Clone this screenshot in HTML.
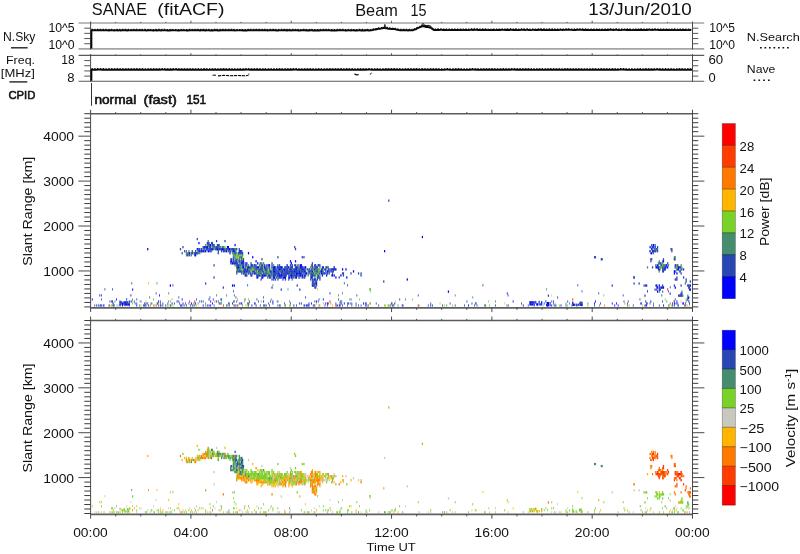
<!DOCTYPE html>
<html><head><meta charset="utf-8"><title>SANAE (fitACF) Beam 15 - 13/Jun/2010</title>
<style>
html,body{margin:0;padding:0;background:#fff;}
body{width:800px;height:554px;overflow:hidden;font-family:"Liberation Sans",sans-serif;}
svg{display:block;will-change:transform;}
svg text{font-family:"Liberation Sans",sans-serif;}
</style></head>
<body>
<svg width="800" height="554" viewBox="0 0 800 554">
<g opacity="0.999">
<g shape-rendering="auto">
<rect x="179.86" y="248.03" width="1.24" height="2.27" fill="#2846b4"/>
<rect x="179.86" y="454.83" width="1.24" height="2.27" fill="#ff7800"/>
<rect x="182.38" y="246.01" width="1.24" height="2.27" fill="#2846b4"/>
<rect x="182.38" y="452.81" width="1.24" height="2.27" fill="#78d228"/>
<rect x="184.06" y="250.05" width="1.24" height="2.27" fill="#2846b4"/>
<rect x="184.06" y="456.85" width="1.24" height="2.27" fill="#ffb400"/>
<rect x="181.54" y="252.07" width="1.24" height="2.27" fill="#2846b4"/>
<rect x="181.54" y="458.87" width="1.24" height="2.27" fill="#ffb400"/>
<rect x="185.74" y="254.10" width="1.24" height="2.27" fill="#78d228"/>
<rect x="185.74" y="460.90" width="1.24" height="2.27" fill="#c8c8be"/>
<rect x="185.74" y="252.07" width="1.24" height="2.27" fill="#468c6e"/>
<rect x="185.74" y="458.87" width="1.24" height="2.27" fill="#ff7800"/>
<rect x="185.74" y="250.05" width="1.24" height="2.27" fill="#468c6e"/>
<rect x="185.74" y="456.85" width="1.24" height="2.27" fill="#ffb400"/>
<rect x="186.58" y="254.10" width="1.24" height="2.27" fill="#2846b4"/>
<rect x="186.58" y="460.90" width="1.24" height="2.27" fill="#78d228"/>
<rect x="187.42" y="254.10" width="1.24" height="2.27" fill="#2846b4"/>
<rect x="187.42" y="460.90" width="1.24" height="2.27" fill="#ff7800"/>
<rect x="187.42" y="252.07" width="1.24" height="2.27" fill="#0000ff"/>
<rect x="187.42" y="458.87" width="1.24" height="2.27" fill="#ffb400"/>
<rect x="188.26" y="252.07" width="1.24" height="2.27" fill="#468c6e"/>
<rect x="188.26" y="458.87" width="1.24" height="2.27" fill="#ffb400"/>
<rect x="188.26" y="250.05" width="1.24" height="2.27" fill="#468c6e"/>
<rect x="188.26" y="456.85" width="1.24" height="2.27" fill="#78d228"/>
<rect x="189.10" y="254.10" width="1.24" height="2.27" fill="#2846b4"/>
<rect x="189.10" y="460.90" width="1.24" height="2.27" fill="#78d228"/>
<rect x="189.10" y="252.07" width="1.24" height="2.27" fill="#0000ff"/>
<rect x="189.10" y="458.87" width="1.24" height="2.27" fill="#ff7800"/>
<rect x="190.78" y="254.10" width="1.24" height="2.27" fill="#468c6e"/>
<rect x="190.78" y="460.90" width="1.24" height="2.27" fill="#468c6e"/>
<rect x="190.78" y="252.07" width="1.24" height="2.27" fill="#468c6e"/>
<rect x="190.78" y="458.87" width="1.24" height="2.27" fill="#ff7800"/>
<rect x="191.62" y="252.07" width="1.24" height="2.27" fill="#2846b4"/>
<rect x="191.62" y="458.87" width="1.24" height="2.27" fill="#ffb400"/>
<rect x="191.62" y="250.05" width="1.24" height="2.27" fill="#2846b4"/>
<rect x="191.62" y="456.85" width="1.24" height="2.27" fill="#ffb400"/>
<rect x="192.46" y="252.07" width="1.24" height="2.27" fill="#2846b4"/>
<rect x="192.46" y="458.87" width="1.24" height="2.27" fill="#78d228"/>
<rect x="193.30" y="252.07" width="1.24" height="2.27" fill="#78d228"/>
<rect x="193.30" y="458.87" width="1.24" height="2.27" fill="#468c6e"/>
<rect x="194.14" y="254.10" width="1.24" height="2.27" fill="#2846b4"/>
<rect x="194.14" y="460.90" width="1.24" height="2.27" fill="#ffb400"/>
<rect x="194.14" y="252.07" width="1.24" height="2.27" fill="#2846b4"/>
<rect x="194.14" y="458.87" width="1.24" height="2.27" fill="#ffb400"/>
<rect x="194.98" y="254.10" width="1.24" height="2.27" fill="#0000ff"/>
<rect x="194.98" y="460.90" width="1.24" height="2.27" fill="#ff7800"/>
<rect x="194.98" y="252.07" width="1.24" height="2.27" fill="#2846b4"/>
<rect x="194.98" y="458.87" width="1.24" height="2.27" fill="#ffb400"/>
<rect x="194.98" y="250.05" width="1.24" height="2.27" fill="#2846b4"/>
<rect x="194.98" y="456.85" width="1.24" height="2.27" fill="#c8c8be"/>
<rect x="195.82" y="252.07" width="1.24" height="2.27" fill="#2846b4"/>
<rect x="195.82" y="458.87" width="1.24" height="2.27" fill="#c8c8be"/>
<rect x="196.66" y="252.07" width="1.24" height="2.27" fill="#2846b4"/>
<rect x="196.66" y="458.87" width="1.24" height="2.27" fill="#c8c8be"/>
<rect x="196.66" y="250.05" width="1.24" height="2.27" fill="#78d228"/>
<rect x="196.66" y="456.85" width="1.24" height="2.27" fill="#78d228"/>
<rect x="196.66" y="248.03" width="1.24" height="2.27" fill="#0000ff"/>
<rect x="196.66" y="454.83" width="1.24" height="2.27" fill="#ffb400"/>
<rect x="197.50" y="252.07" width="1.24" height="2.27" fill="#2846b4"/>
<rect x="197.50" y="458.87" width="1.24" height="2.27" fill="#ffb400"/>
<rect x="197.50" y="250.05" width="1.24" height="2.27" fill="#468c6e"/>
<rect x="197.50" y="456.85" width="1.24" height="2.27" fill="#ff7800"/>
<rect x="198.34" y="250.05" width="1.24" height="2.27" fill="#2846b4"/>
<rect x="198.34" y="456.85" width="1.24" height="2.27" fill="#78d228"/>
<rect x="199.18" y="250.05" width="1.24" height="2.27" fill="#0000ff"/>
<rect x="199.18" y="456.85" width="1.24" height="2.27" fill="#ffb400"/>
<rect x="198.34" y="248.03" width="1.24" height="2.27" fill="#0000ff"/>
<rect x="198.34" y="454.83" width="1.24" height="2.27" fill="#ffb400"/>
<rect x="199.18" y="252.07" width="1.24" height="2.27" fill="#468c6e"/>
<rect x="199.18" y="458.87" width="1.24" height="2.27" fill="#78d228"/>
<rect x="199.18" y="248.03" width="1.24" height="2.27" fill="#2846b4"/>
<rect x="199.18" y="454.83" width="1.24" height="2.27" fill="#78d228"/>
<rect x="200.02" y="250.05" width="1.24" height="2.27" fill="#468c6e"/>
<rect x="200.02" y="456.85" width="1.24" height="2.27" fill="#78d228"/>
<rect x="200.86" y="250.05" width="1.24" height="2.27" fill="#0000ff"/>
<rect x="200.86" y="456.85" width="1.24" height="2.27" fill="#ff7800"/>
<rect x="200.86" y="248.03" width="1.24" height="2.27" fill="#2846b4"/>
<rect x="200.86" y="454.83" width="1.24" height="2.27" fill="#ff7800"/>
<rect x="201.70" y="250.05" width="1.24" height="2.27" fill="#2846b4"/>
<rect x="201.70" y="456.85" width="1.24" height="2.27" fill="#ff7800"/>
<rect x="202.54" y="250.05" width="1.24" height="2.27" fill="#2846b4"/>
<rect x="202.54" y="456.85" width="1.24" height="2.27" fill="#ff7800"/>
<rect x="202.54" y="248.03" width="1.24" height="2.27" fill="#2846b4"/>
<rect x="202.54" y="454.83" width="1.24" height="2.27" fill="#ff7800"/>
<rect x="202.54" y="246.01" width="1.24" height="2.27" fill="#2846b4"/>
<rect x="202.54" y="452.81" width="1.24" height="2.27" fill="#ff7800"/>
<rect x="203.38" y="250.05" width="1.24" height="2.27" fill="#0000ff"/>
<rect x="203.38" y="456.85" width="1.24" height="2.27" fill="#ffb400"/>
<rect x="203.38" y="246.01" width="1.24" height="2.27" fill="#2846b4"/>
<rect x="203.38" y="452.81" width="1.24" height="2.27" fill="#ffb400"/>
<rect x="204.22" y="250.05" width="1.24" height="2.27" fill="#468c6e"/>
<rect x="204.22" y="456.85" width="1.24" height="2.27" fill="#ff7800"/>
<rect x="204.22" y="248.03" width="1.24" height="2.27" fill="#2846b4"/>
<rect x="204.22" y="454.83" width="1.24" height="2.27" fill="#ffb400"/>
<rect x="204.22" y="246.01" width="1.24" height="2.27" fill="#0000ff"/>
<rect x="204.22" y="452.81" width="1.24" height="2.27" fill="#ff7800"/>
<rect x="205.06" y="250.05" width="1.24" height="2.27" fill="#0000ff"/>
<rect x="205.06" y="456.85" width="1.24" height="2.27" fill="#ff7800"/>
<rect x="205.06" y="246.01" width="1.24" height="2.27" fill="#2846b4"/>
<rect x="205.06" y="452.81" width="1.24" height="2.27" fill="#78d228"/>
<rect x="205.06" y="243.99" width="1.24" height="2.27" fill="#468c6e"/>
<rect x="205.06" y="450.79" width="1.24" height="2.27" fill="#78d228"/>
<rect x="205.90" y="248.03" width="1.24" height="2.27" fill="#2846b4"/>
<rect x="205.90" y="454.83" width="1.24" height="2.27" fill="#ff7800"/>
<rect x="205.90" y="246.01" width="1.24" height="2.27" fill="#2846b4"/>
<rect x="205.90" y="452.81" width="1.24" height="2.27" fill="#ff7800"/>
<rect x="206.74" y="246.01" width="1.24" height="2.27" fill="#0000ff"/>
<rect x="206.74" y="452.81" width="1.24" height="2.27" fill="#ff7800"/>
<rect x="206.74" y="243.99" width="1.24" height="2.27" fill="#468c6e"/>
<rect x="206.74" y="450.79" width="1.24" height="2.27" fill="#ff7800"/>
<rect x="206.74" y="241.96" width="1.24" height="2.27" fill="#2846b4"/>
<rect x="206.74" y="448.76" width="1.24" height="2.27" fill="#ffb400"/>
<rect x="207.58" y="250.05" width="1.24" height="2.27" fill="#0000ff"/>
<rect x="207.58" y="456.85" width="1.24" height="2.27" fill="#ff7800"/>
<rect x="207.58" y="248.03" width="1.24" height="2.27" fill="#2846b4"/>
<rect x="207.58" y="454.83" width="1.24" height="2.27" fill="#ff7800"/>
<rect x="207.58" y="243.99" width="1.24" height="2.27" fill="#468c6e"/>
<rect x="207.58" y="450.79" width="1.24" height="2.27" fill="#78d228"/>
<rect x="207.58" y="241.96" width="1.24" height="2.27" fill="#2846b4"/>
<rect x="207.58" y="448.76" width="1.24" height="2.27" fill="#78d228"/>
<rect x="207.58" y="239.94" width="1.24" height="2.27" fill="#468c6e"/>
<rect x="207.58" y="446.74" width="1.24" height="2.27" fill="#ff7800"/>
<rect x="206.74" y="248.03" width="1.24" height="2.27" fill="#2846b4"/>
<rect x="206.74" y="454.83" width="1.24" height="2.27" fill="#78d228"/>
<rect x="208.42" y="250.05" width="1.24" height="2.27" fill="#0000ff"/>
<rect x="208.42" y="456.85" width="1.24" height="2.27" fill="#78d228"/>
<rect x="208.42" y="246.01" width="1.24" height="2.27" fill="#2846b4"/>
<rect x="208.42" y="452.81" width="1.24" height="2.27" fill="#468c6e"/>
<rect x="208.42" y="243.99" width="1.24" height="2.27" fill="#2846b4"/>
<rect x="208.42" y="450.79" width="1.24" height="2.27" fill="#78d228"/>
<rect x="208.42" y="241.96" width="1.24" height="2.27" fill="#2846b4"/>
<rect x="208.42" y="448.76" width="1.24" height="2.27" fill="#78d228"/>
<rect x="209.26" y="248.03" width="1.24" height="2.27" fill="#0000ff"/>
<rect x="209.26" y="454.83" width="1.24" height="2.27" fill="#c8c8be"/>
<rect x="209.26" y="246.01" width="1.24" height="2.27" fill="#2846b4"/>
<rect x="209.26" y="452.81" width="1.24" height="2.27" fill="#c8c8be"/>
<rect x="209.26" y="243.99" width="1.24" height="2.27" fill="#2846b4"/>
<rect x="209.26" y="450.79" width="1.24" height="2.27" fill="#ffb400"/>
<rect x="210.10" y="250.05" width="1.24" height="2.27" fill="#2846b4"/>
<rect x="210.10" y="456.85" width="1.24" height="2.27" fill="#78d228"/>
<rect x="210.10" y="248.03" width="1.24" height="2.27" fill="#2846b4"/>
<rect x="210.10" y="454.83" width="1.24" height="2.27" fill="#78d228"/>
<rect x="210.10" y="246.01" width="1.24" height="2.27" fill="#2846b4"/>
<rect x="210.10" y="452.81" width="1.24" height="2.27" fill="#ffb400"/>
<rect x="210.10" y="243.99" width="1.24" height="2.27" fill="#0000ff"/>
<rect x="210.10" y="450.79" width="1.24" height="2.27" fill="#78d228"/>
<rect x="210.94" y="250.05" width="1.24" height="2.27" fill="#468c6e"/>
<rect x="210.94" y="456.85" width="1.24" height="2.27" fill="#468c6e"/>
<rect x="210.94" y="248.03" width="1.24" height="2.27" fill="#2846b4"/>
<rect x="210.94" y="454.83" width="1.24" height="2.27" fill="#78d228"/>
<rect x="210.94" y="241.96" width="1.24" height="2.27" fill="#2846b4"/>
<rect x="210.94" y="448.76" width="1.24" height="2.27" fill="#468c6e"/>
<rect x="211.78" y="248.03" width="1.24" height="2.27" fill="#0000ff"/>
<rect x="211.78" y="454.83" width="1.24" height="2.27" fill="#ffb400"/>
<rect x="211.78" y="246.01" width="1.24" height="2.27" fill="#468c6e"/>
<rect x="211.78" y="452.81" width="1.24" height="2.27" fill="#468c6e"/>
<rect x="211.78" y="243.99" width="1.24" height="2.27" fill="#2846b4"/>
<rect x="211.78" y="450.79" width="1.24" height="2.27" fill="#78d228"/>
<rect x="211.78" y="241.96" width="1.24" height="2.27" fill="#2846b4"/>
<rect x="211.78" y="448.76" width="1.24" height="2.27" fill="#468c6e"/>
<rect x="212.62" y="248.03" width="1.24" height="2.27" fill="#2846b4"/>
<rect x="212.62" y="454.83" width="1.24" height="2.27" fill="#ff7800"/>
<rect x="212.62" y="246.01" width="1.24" height="2.27" fill="#468c6e"/>
<rect x="212.62" y="452.81" width="1.24" height="2.27" fill="#468c6e"/>
<rect x="212.62" y="243.99" width="1.24" height="2.27" fill="#2846b4"/>
<rect x="212.62" y="450.79" width="1.24" height="2.27" fill="#78d228"/>
<rect x="213.46" y="246.01" width="1.24" height="2.27" fill="#468c6e"/>
<rect x="213.46" y="452.81" width="1.24" height="2.27" fill="#78d228"/>
<rect x="213.46" y="243.99" width="1.24" height="2.27" fill="#2846b4"/>
<rect x="213.46" y="450.79" width="1.24" height="2.27" fill="#78d228"/>
<rect x="214.30" y="248.03" width="1.24" height="2.27" fill="#468c6e"/>
<rect x="214.30" y="454.83" width="1.24" height="2.27" fill="#ffb400"/>
<rect x="214.30" y="246.01" width="1.24" height="2.27" fill="#2846b4"/>
<rect x="214.30" y="452.81" width="1.24" height="2.27" fill="#78d228"/>
<rect x="215.14" y="248.03" width="1.24" height="2.27" fill="#2846b4"/>
<rect x="215.14" y="454.83" width="1.24" height="2.27" fill="#78d228"/>
<rect x="215.14" y="246.01" width="1.24" height="2.27" fill="#468c6e"/>
<rect x="215.14" y="452.81" width="1.24" height="2.27" fill="#c8c8be"/>
<rect x="215.98" y="248.03" width="1.24" height="2.27" fill="#2846b4"/>
<rect x="215.98" y="454.83" width="1.24" height="2.27" fill="#78d228"/>
<rect x="215.98" y="246.01" width="1.24" height="2.27" fill="#2846b4"/>
<rect x="215.98" y="452.81" width="1.24" height="2.27" fill="#ffb400"/>
<rect x="216.82" y="248.03" width="1.24" height="2.27" fill="#0000ff"/>
<rect x="216.82" y="454.83" width="1.24" height="2.27" fill="#78d228"/>
<rect x="216.82" y="246.01" width="1.24" height="2.27" fill="#2846b4"/>
<rect x="216.82" y="452.81" width="1.24" height="2.27" fill="#468c6e"/>
<rect x="216.82" y="243.99" width="1.24" height="2.27" fill="#2846b4"/>
<rect x="216.82" y="450.79" width="1.24" height="2.27" fill="#468c6e"/>
<rect x="217.66" y="252.07" width="1.24" height="2.27" fill="#2846b4"/>
<rect x="217.66" y="458.87" width="1.24" height="2.27" fill="#468c6e"/>
<rect x="217.66" y="250.05" width="1.24" height="2.27" fill="#2846b4"/>
<rect x="217.66" y="456.85" width="1.24" height="2.27" fill="#78d228"/>
<rect x="217.66" y="248.03" width="1.24" height="2.27" fill="#2846b4"/>
<rect x="217.66" y="454.83" width="1.24" height="2.27" fill="#468c6e"/>
<rect x="217.66" y="246.01" width="1.24" height="2.27" fill="#468c6e"/>
<rect x="217.66" y="452.81" width="1.24" height="2.27" fill="#468c6e"/>
<rect x="217.66" y="243.99" width="1.24" height="2.27" fill="#2846b4"/>
<rect x="217.66" y="450.79" width="1.24" height="2.27" fill="#78d228"/>
<rect x="218.50" y="248.03" width="1.24" height="2.27" fill="#2846b4"/>
<rect x="218.50" y="454.83" width="1.24" height="2.27" fill="#468c6e"/>
<rect x="218.50" y="246.01" width="1.24" height="2.27" fill="#2846b4"/>
<rect x="218.50" y="452.81" width="1.24" height="2.27" fill="#468c6e"/>
<rect x="218.50" y="243.99" width="1.24" height="2.27" fill="#2846b4"/>
<rect x="218.50" y="450.79" width="1.24" height="2.27" fill="#78d228"/>
<rect x="219.34" y="248.03" width="1.24" height="2.27" fill="#0000ff"/>
<rect x="219.34" y="454.83" width="1.24" height="2.27" fill="#ffb400"/>
<rect x="219.34" y="246.01" width="1.24" height="2.27" fill="#468c6e"/>
<rect x="219.34" y="452.81" width="1.24" height="2.27" fill="#468c6e"/>
<rect x="220.18" y="248.03" width="1.24" height="2.27" fill="#2846b4"/>
<rect x="220.18" y="454.83" width="1.24" height="2.27" fill="#ffb400"/>
<rect x="220.18" y="246.01" width="1.24" height="2.27" fill="#468c6e"/>
<rect x="220.18" y="452.81" width="1.24" height="2.27" fill="#468c6e"/>
<rect x="221.02" y="248.03" width="1.24" height="2.27" fill="#2846b4"/>
<rect x="221.02" y="454.83" width="1.24" height="2.27" fill="#78d228"/>
<rect x="221.02" y="250.05" width="1.24" height="2.27" fill="#2846b4"/>
<rect x="221.02" y="456.85" width="1.24" height="2.27" fill="#468c6e"/>
<rect x="221.86" y="248.03" width="1.24" height="2.27" fill="#0000ff"/>
<rect x="221.86" y="454.83" width="1.24" height="2.27" fill="#468c6e"/>
<rect x="221.86" y="246.01" width="1.24" height="2.27" fill="#468c6e"/>
<rect x="221.86" y="452.81" width="1.24" height="2.27" fill="#468c6e"/>
<rect x="222.70" y="250.05" width="1.24" height="2.27" fill="#468c6e"/>
<rect x="222.70" y="456.85" width="1.24" height="2.27" fill="#c8c8be"/>
<rect x="222.70" y="248.03" width="1.24" height="2.27" fill="#0000ff"/>
<rect x="222.70" y="454.83" width="1.24" height="2.27" fill="#c8c8be"/>
<rect x="222.70" y="246.01" width="1.24" height="2.27" fill="#2846b4"/>
<rect x="222.70" y="452.81" width="1.24" height="2.27" fill="#78d228"/>
<rect x="223.54" y="250.05" width="1.24" height="2.27" fill="#0000ff"/>
<rect x="223.54" y="456.85" width="1.24" height="2.27" fill="#468c6e"/>
<rect x="223.54" y="248.03" width="1.24" height="2.27" fill="#2846b4"/>
<rect x="223.54" y="454.83" width="1.24" height="2.27" fill="#c8c8be"/>
<rect x="223.54" y="246.01" width="1.24" height="2.27" fill="#78d228"/>
<rect x="223.54" y="452.81" width="1.24" height="2.27" fill="#468c6e"/>
<rect x="224.38" y="248.03" width="1.24" height="2.27" fill="#2846b4"/>
<rect x="224.38" y="454.83" width="1.24" height="2.27" fill="#468c6e"/>
<rect x="224.38" y="246.01" width="1.24" height="2.27" fill="#78d228"/>
<rect x="224.38" y="452.81" width="1.24" height="2.27" fill="#ff7800"/>
<rect x="225.22" y="250.05" width="1.24" height="2.27" fill="#2846b4"/>
<rect x="225.22" y="456.85" width="1.24" height="2.27" fill="#ff7800"/>
<rect x="225.22" y="248.03" width="1.24" height="2.27" fill="#468c6e"/>
<rect x="225.22" y="454.83" width="1.24" height="2.27" fill="#468c6e"/>
<rect x="226.06" y="250.05" width="1.24" height="2.27" fill="#0000ff"/>
<rect x="226.06" y="456.85" width="1.24" height="2.27" fill="#78d228"/>
<rect x="226.06" y="248.03" width="1.24" height="2.27" fill="#2846b4"/>
<rect x="226.06" y="454.83" width="1.24" height="2.27" fill="#78d228"/>
<rect x="226.90" y="248.03" width="1.24" height="2.27" fill="#2846b4"/>
<rect x="226.90" y="454.83" width="1.24" height="2.27" fill="#78d228"/>
<rect x="226.90" y="246.01" width="1.24" height="2.27" fill="#0000ff"/>
<rect x="226.90" y="452.81" width="1.24" height="2.27" fill="#78d228"/>
<rect x="227.74" y="250.05" width="1.24" height="2.27" fill="#468c6e"/>
<rect x="227.74" y="456.85" width="1.24" height="2.27" fill="#78d228"/>
<rect x="227.74" y="248.03" width="1.24" height="2.27" fill="#468c6e"/>
<rect x="227.74" y="454.83" width="1.24" height="2.27" fill="#468c6e"/>
<rect x="227.74" y="246.01" width="1.24" height="2.27" fill="#0000ff"/>
<rect x="227.74" y="452.81" width="1.24" height="2.27" fill="#c8c8be"/>
<rect x="228.58" y="250.05" width="1.24" height="2.27" fill="#2846b4"/>
<rect x="228.58" y="456.85" width="1.24" height="2.27" fill="#468c6e"/>
<rect x="228.58" y="248.03" width="1.24" height="2.27" fill="#0000ff"/>
<rect x="228.58" y="454.83" width="1.24" height="2.27" fill="#468c6e"/>
<rect x="229.42" y="252.07" width="1.24" height="2.27" fill="#0000ff"/>
<rect x="229.42" y="458.87" width="1.24" height="2.27" fill="#78d228"/>
<rect x="229.42" y="250.05" width="1.24" height="2.27" fill="#468c6e"/>
<rect x="229.42" y="456.85" width="1.24" height="2.27" fill="#78d228"/>
<rect x="229.42" y="248.03" width="1.24" height="2.27" fill="#0000ff"/>
<rect x="229.42" y="454.83" width="1.24" height="2.27" fill="#78d228"/>
<rect x="230.26" y="250.05" width="1.24" height="2.27" fill="#2846b4"/>
<rect x="230.26" y="456.85" width="1.24" height="2.27" fill="#468c6e"/>
<rect x="231.10" y="248.03" width="1.24" height="2.27" fill="#2846b4"/>
<rect x="231.10" y="454.83" width="1.24" height="2.27" fill="#78d228"/>
<rect x="231.94" y="252.07" width="1.24" height="2.27" fill="#468c6e"/>
<rect x="231.94" y="458.87" width="1.24" height="2.27" fill="#78d228"/>
<rect x="231.94" y="250.05" width="1.24" height="2.27" fill="#468c6e"/>
<rect x="231.94" y="456.85" width="1.24" height="2.27" fill="#468c6e"/>
<rect x="231.94" y="248.03" width="1.24" height="2.27" fill="#2846b4"/>
<rect x="231.94" y="454.83" width="1.24" height="2.27" fill="#ff7800"/>
<rect x="232.78" y="250.05" width="1.24" height="2.27" fill="#0000ff"/>
<rect x="232.78" y="456.85" width="1.24" height="2.27" fill="#78d228"/>
<rect x="233.62" y="250.05" width="1.24" height="2.27" fill="#0000ff"/>
<rect x="233.62" y="456.85" width="1.24" height="2.27" fill="#468c6e"/>
<rect x="233.62" y="248.03" width="1.24" height="2.27" fill="#468c6e"/>
<rect x="233.62" y="454.83" width="1.24" height="2.27" fill="#78d228"/>
<rect x="234.46" y="252.07" width="1.24" height="2.27" fill="#468c6e"/>
<rect x="234.46" y="458.87" width="1.24" height="2.27" fill="#468c6e"/>
<rect x="234.46" y="250.05" width="1.24" height="2.27" fill="#2846b4"/>
<rect x="234.46" y="456.85" width="1.24" height="2.27" fill="#ff7800"/>
<rect x="232.78" y="260.16" width="1.24" height="2.27" fill="#0000ff"/>
<rect x="232.78" y="466.96" width="1.24" height="2.27" fill="#468c6e"/>
<rect x="232.78" y="258.14" width="1.24" height="2.27" fill="#2846b4"/>
<rect x="232.78" y="464.94" width="1.24" height="2.27" fill="#468c6e"/>
<rect x="232.78" y="256.12" width="1.24" height="2.27" fill="#2846b4"/>
<rect x="232.78" y="462.92" width="1.24" height="2.27" fill="#468c6e"/>
<rect x="232.78" y="254.10" width="1.24" height="2.27" fill="#468c6e"/>
<rect x="232.78" y="460.90" width="1.24" height="2.27" fill="#468c6e"/>
<rect x="232.78" y="252.07" width="1.24" height="2.27" fill="#78d228"/>
<rect x="232.78" y="458.87" width="1.24" height="2.27" fill="#468c6e"/>
<rect x="232.78" y="248.03" width="1.24" height="2.27" fill="#2846b4"/>
<rect x="232.78" y="454.83" width="1.24" height="2.27" fill="#468c6e"/>
<rect x="233.62" y="256.12" width="1.24" height="2.27" fill="#468c6e"/>
<rect x="233.62" y="462.92" width="1.24" height="2.27" fill="#468c6e"/>
<rect x="233.62" y="254.10" width="1.24" height="2.27" fill="#78d228"/>
<rect x="233.62" y="460.90" width="1.24" height="2.27" fill="#78d228"/>
<rect x="233.62" y="252.07" width="1.24" height="2.27" fill="#2846b4"/>
<rect x="233.62" y="458.87" width="1.24" height="2.27" fill="#468c6e"/>
<rect x="234.46" y="260.16" width="1.24" height="2.27" fill="#468c6e"/>
<rect x="234.46" y="466.96" width="1.24" height="2.27" fill="#468c6e"/>
<rect x="234.46" y="258.14" width="1.24" height="2.27" fill="#2846b4"/>
<rect x="234.46" y="464.94" width="1.24" height="2.27" fill="#468c6e"/>
<rect x="234.46" y="254.10" width="1.24" height="2.27" fill="#468c6e"/>
<rect x="234.46" y="460.90" width="1.24" height="2.27" fill="#468c6e"/>
<rect x="234.46" y="248.03" width="1.24" height="2.27" fill="#2846b4"/>
<rect x="234.46" y="454.83" width="1.24" height="2.27" fill="#468c6e"/>
<rect x="234.46" y="243.99" width="1.24" height="2.27" fill="#0000ff"/>
<rect x="234.46" y="450.79" width="1.24" height="2.27" fill="#2846b4"/>
<rect x="235.30" y="262.18" width="1.24" height="2.27" fill="#2846b4"/>
<rect x="235.30" y="468.98" width="1.24" height="2.27" fill="#78d228"/>
<rect x="235.30" y="256.12" width="1.24" height="2.27" fill="#468c6e"/>
<rect x="235.30" y="462.92" width="1.24" height="2.27" fill="#468c6e"/>
<rect x="235.30" y="254.10" width="1.24" height="2.27" fill="#468c6e"/>
<rect x="235.30" y="460.90" width="1.24" height="2.27" fill="#468c6e"/>
<rect x="235.30" y="252.07" width="1.24" height="2.27" fill="#2846b4"/>
<rect x="235.30" y="458.87" width="1.24" height="2.27" fill="#2846b4"/>
<rect x="235.30" y="250.05" width="1.24" height="2.27" fill="#468c6e"/>
<rect x="235.30" y="456.85" width="1.24" height="2.27" fill="#2846b4"/>
<rect x="235.30" y="248.03" width="1.24" height="2.27" fill="#468c6e"/>
<rect x="235.30" y="454.83" width="1.24" height="2.27" fill="#468c6e"/>
<rect x="236.14" y="262.18" width="1.24" height="2.27" fill="#2846b4"/>
<rect x="236.14" y="468.98" width="1.24" height="2.27" fill="#2846b4"/>
<rect x="236.14" y="260.16" width="1.24" height="2.27" fill="#0000ff"/>
<rect x="236.14" y="466.96" width="1.24" height="2.27" fill="#2846b4"/>
<rect x="236.14" y="258.14" width="1.24" height="2.27" fill="#2846b4"/>
<rect x="236.14" y="464.94" width="1.24" height="2.27" fill="#2846b4"/>
<rect x="236.14" y="256.12" width="1.24" height="2.27" fill="#78d228"/>
<rect x="236.14" y="462.92" width="1.24" height="2.27" fill="#468c6e"/>
<rect x="236.14" y="252.07" width="1.24" height="2.27" fill="#468c6e"/>
<rect x="236.14" y="458.87" width="1.24" height="2.27" fill="#2846b4"/>
<rect x="236.14" y="248.03" width="1.24" height="2.27" fill="#2846b4"/>
<rect x="236.14" y="454.83" width="1.24" height="2.27" fill="#468c6e"/>
<rect x="236.98" y="258.14" width="1.24" height="2.27" fill="#468c6e"/>
<rect x="236.98" y="464.94" width="1.24" height="2.27" fill="#468c6e"/>
<rect x="236.98" y="256.12" width="1.24" height="2.27" fill="#78d228"/>
<rect x="236.98" y="462.92" width="1.24" height="2.27" fill="#2846b4"/>
<rect x="236.98" y="254.10" width="1.24" height="2.27" fill="#78d228"/>
<rect x="236.98" y="460.90" width="1.24" height="2.27" fill="#2846b4"/>
<rect x="237.82" y="256.12" width="1.24" height="2.27" fill="#ffb400"/>
<rect x="237.82" y="462.92" width="1.24" height="2.27" fill="#468c6e"/>
<rect x="237.82" y="254.10" width="1.24" height="2.27" fill="#468c6e"/>
<rect x="237.82" y="460.90" width="1.24" height="2.27" fill="#78d228"/>
<rect x="237.82" y="252.07" width="1.24" height="2.27" fill="#2846b4"/>
<rect x="237.82" y="458.87" width="1.24" height="2.27" fill="#78d228"/>
<rect x="238.66" y="262.18" width="1.24" height="2.27" fill="#468c6e"/>
<rect x="238.66" y="468.98" width="1.24" height="2.27" fill="#468c6e"/>
<rect x="238.66" y="260.16" width="1.24" height="2.27" fill="#2846b4"/>
<rect x="238.66" y="466.96" width="1.24" height="2.27" fill="#468c6e"/>
<rect x="238.66" y="258.14" width="1.24" height="2.27" fill="#2846b4"/>
<rect x="238.66" y="464.94" width="1.24" height="2.27" fill="#468c6e"/>
<rect x="238.66" y="256.12" width="1.24" height="2.27" fill="#78d228"/>
<rect x="238.66" y="462.92" width="1.24" height="2.27" fill="#2846b4"/>
<rect x="238.66" y="254.10" width="1.24" height="2.27" fill="#78d228"/>
<rect x="238.66" y="460.90" width="1.24" height="2.27" fill="#468c6e"/>
<rect x="238.66" y="252.07" width="1.24" height="2.27" fill="#468c6e"/>
<rect x="238.66" y="458.87" width="1.24" height="2.27" fill="#468c6e"/>
<rect x="238.66" y="250.05" width="1.24" height="2.27" fill="#0000ff"/>
<rect x="238.66" y="456.85" width="1.24" height="2.27" fill="#468c6e"/>
<rect x="238.66" y="248.03" width="1.24" height="2.27" fill="#2846b4"/>
<rect x="238.66" y="454.83" width="1.24" height="2.27" fill="#468c6e"/>
<rect x="239.50" y="260.16" width="1.24" height="2.27" fill="#2846b4"/>
<rect x="239.50" y="466.96" width="1.24" height="2.27" fill="#468c6e"/>
<rect x="239.50" y="256.12" width="1.24" height="2.27" fill="#2846b4"/>
<rect x="239.50" y="462.92" width="1.24" height="2.27" fill="#468c6e"/>
<rect x="239.50" y="252.07" width="1.24" height="2.27" fill="#0000ff"/>
<rect x="239.50" y="458.87" width="1.24" height="2.27" fill="#468c6e"/>
<rect x="239.50" y="250.05" width="1.24" height="2.27" fill="#2846b4"/>
<rect x="239.50" y="456.85" width="1.24" height="2.27" fill="#468c6e"/>
<rect x="240.34" y="262.18" width="1.24" height="2.27" fill="#2846b4"/>
<rect x="240.34" y="468.98" width="1.24" height="2.27" fill="#78d228"/>
<rect x="240.34" y="260.16" width="1.24" height="2.27" fill="#468c6e"/>
<rect x="240.34" y="466.96" width="1.24" height="2.27" fill="#468c6e"/>
<rect x="240.34" y="258.14" width="1.24" height="2.27" fill="#78d228"/>
<rect x="240.34" y="464.94" width="1.24" height="2.27" fill="#468c6e"/>
<rect x="240.34" y="256.12" width="1.24" height="2.27" fill="#468c6e"/>
<rect x="240.34" y="462.92" width="1.24" height="2.27" fill="#2846b4"/>
<rect x="240.34" y="254.10" width="1.24" height="2.27" fill="#468c6e"/>
<rect x="240.34" y="460.90" width="1.24" height="2.27" fill="#78d228"/>
<rect x="240.34" y="252.07" width="1.24" height="2.27" fill="#2846b4"/>
<rect x="240.34" y="458.87" width="1.24" height="2.27" fill="#468c6e"/>
<rect x="240.34" y="250.05" width="1.24" height="2.27" fill="#0000ff"/>
<rect x="240.34" y="456.85" width="1.24" height="2.27" fill="#78d228"/>
<rect x="241.18" y="260.16" width="1.24" height="2.27" fill="#2846b4"/>
<rect x="241.18" y="466.96" width="1.24" height="2.27" fill="#2846b4"/>
<rect x="241.18" y="258.14" width="1.24" height="2.27" fill="#2846b4"/>
<rect x="241.18" y="464.94" width="1.24" height="2.27" fill="#468c6e"/>
<rect x="241.18" y="256.12" width="1.24" height="2.27" fill="#2846b4"/>
<rect x="241.18" y="462.92" width="1.24" height="2.27" fill="#468c6e"/>
<rect x="241.18" y="254.10" width="1.24" height="2.27" fill="#78d228"/>
<rect x="241.18" y="460.90" width="1.24" height="2.27" fill="#0000ff"/>
<rect x="241.18" y="252.07" width="1.24" height="2.27" fill="#2846b4"/>
<rect x="241.18" y="458.87" width="1.24" height="2.27" fill="#468c6e"/>
<rect x="241.18" y="250.05" width="1.24" height="2.27" fill="#2846b4"/>
<rect x="241.18" y="456.85" width="1.24" height="2.27" fill="#2846b4"/>
<rect x="242.02" y="262.18" width="1.24" height="2.27" fill="#2846b4"/>
<rect x="242.02" y="468.98" width="1.24" height="2.27" fill="#2846b4"/>
<rect x="242.02" y="260.16" width="1.24" height="2.27" fill="#2846b4"/>
<rect x="242.02" y="466.96" width="1.24" height="2.27" fill="#468c6e"/>
<rect x="242.02" y="258.14" width="1.24" height="2.27" fill="#78d228"/>
<rect x="242.02" y="464.94" width="1.24" height="2.27" fill="#2846b4"/>
<rect x="242.02" y="256.12" width="1.24" height="2.27" fill="#78d228"/>
<rect x="242.02" y="462.92" width="1.24" height="2.27" fill="#468c6e"/>
<rect x="242.02" y="254.10" width="1.24" height="2.27" fill="#468c6e"/>
<rect x="242.02" y="460.90" width="1.24" height="2.27" fill="#468c6e"/>
<rect x="242.02" y="252.07" width="1.24" height="2.27" fill="#2846b4"/>
<rect x="242.02" y="458.87" width="1.24" height="2.27" fill="#2846b4"/>
<rect x="242.86" y="262.18" width="1.24" height="2.27" fill="#2846b4"/>
<rect x="242.86" y="468.98" width="1.24" height="2.27" fill="#78d228"/>
<rect x="242.86" y="260.16" width="1.24" height="2.27" fill="#0000ff"/>
<rect x="242.86" y="466.96" width="1.24" height="2.27" fill="#468c6e"/>
<rect x="242.86" y="258.14" width="1.24" height="2.27" fill="#2846b4"/>
<rect x="242.86" y="464.94" width="1.24" height="2.27" fill="#2846b4"/>
<rect x="230.26" y="262.18" width="1.24" height="2.27" fill="#2846b4"/>
<rect x="230.26" y="468.98" width="1.24" height="2.27" fill="#2846b4"/>
<rect x="230.26" y="260.16" width="1.24" height="2.27" fill="#0000ff"/>
<rect x="230.26" y="466.96" width="1.24" height="2.27" fill="#2846b4"/>
<rect x="230.26" y="258.14" width="1.24" height="2.27" fill="#2846b4"/>
<rect x="230.26" y="464.94" width="1.24" height="2.27" fill="#468c6e"/>
<rect x="231.10" y="262.18" width="1.24" height="2.27" fill="#468c6e"/>
<rect x="231.10" y="468.98" width="1.24" height="2.27" fill="#468c6e"/>
<rect x="231.10" y="260.16" width="1.24" height="2.27" fill="#0000ff"/>
<rect x="231.10" y="466.96" width="1.24" height="2.27" fill="#78d228"/>
<rect x="231.10" y="258.14" width="1.24" height="2.27" fill="#2846b4"/>
<rect x="231.10" y="464.94" width="1.24" height="2.27" fill="#2846b4"/>
<rect x="231.94" y="262.18" width="1.24" height="2.27" fill="#0000ff"/>
<rect x="231.94" y="468.98" width="1.24" height="2.27" fill="#468c6e"/>
<rect x="232.78" y="262.18" width="1.24" height="2.27" fill="#2846b4"/>
<rect x="232.78" y="468.98" width="1.24" height="2.27" fill="#78d228"/>
<rect x="233.62" y="262.18" width="1.24" height="2.27" fill="#2846b4"/>
<rect x="233.62" y="468.98" width="1.24" height="2.27" fill="#468c6e"/>
<rect x="233.62" y="260.16" width="1.24" height="2.27" fill="#468c6e"/>
<rect x="233.62" y="466.96" width="1.24" height="2.27" fill="#468c6e"/>
<rect x="234.46" y="264.20" width="1.24" height="2.27" fill="#468c6e"/>
<rect x="234.46" y="471.00" width="1.24" height="2.27" fill="#2846b4"/>
<rect x="234.46" y="262.18" width="1.24" height="2.27" fill="#0000ff"/>
<rect x="234.46" y="468.98" width="1.24" height="2.27" fill="#78d228"/>
<rect x="235.30" y="260.16" width="1.24" height="2.27" fill="#2846b4"/>
<rect x="235.30" y="466.96" width="1.24" height="2.27" fill="#78d228"/>
<rect x="236.14" y="264.20" width="1.24" height="2.27" fill="#2846b4"/>
<rect x="236.14" y="471.00" width="1.24" height="2.27" fill="#468c6e"/>
<rect x="236.98" y="264.20" width="1.24" height="2.27" fill="#2846b4"/>
<rect x="236.98" y="471.00" width="1.24" height="2.27" fill="#78d228"/>
<rect x="236.98" y="262.18" width="1.24" height="2.27" fill="#2846b4"/>
<rect x="236.98" y="468.98" width="1.24" height="2.27" fill="#468c6e"/>
<rect x="237.82" y="260.16" width="1.24" height="2.27" fill="#468c6e"/>
<rect x="237.82" y="466.96" width="1.24" height="2.27" fill="#ff7800"/>
<rect x="238.66" y="266.23" width="1.24" height="2.27" fill="#2846b4"/>
<rect x="238.66" y="473.03" width="1.24" height="2.27" fill="#468c6e"/>
<rect x="238.66" y="264.20" width="1.24" height="2.27" fill="#2846b4"/>
<rect x="238.66" y="471.00" width="1.24" height="2.27" fill="#78d228"/>
<rect x="239.50" y="266.23" width="1.24" height="2.27" fill="#468c6e"/>
<rect x="239.50" y="473.03" width="1.24" height="2.27" fill="#468c6e"/>
<rect x="239.50" y="264.20" width="1.24" height="2.27" fill="#468c6e"/>
<rect x="239.50" y="471.00" width="1.24" height="2.27" fill="#468c6e"/>
<rect x="240.34" y="264.20" width="1.24" height="2.27" fill="#2846b4"/>
<rect x="240.34" y="471.00" width="1.24" height="2.27" fill="#2846b4"/>
<rect x="241.18" y="266.23" width="1.24" height="2.27" fill="#78d228"/>
<rect x="241.18" y="473.03" width="1.24" height="2.27" fill="#2846b4"/>
<rect x="241.18" y="262.18" width="1.24" height="2.27" fill="#0000ff"/>
<rect x="241.18" y="468.98" width="1.24" height="2.27" fill="#78d228"/>
<rect x="242.02" y="264.20" width="1.24" height="2.27" fill="#2846b4"/>
<rect x="242.02" y="471.00" width="1.24" height="2.27" fill="#468c6e"/>
<rect x="242.86" y="268.25" width="1.24" height="2.27" fill="#468c6e"/>
<rect x="242.86" y="475.05" width="1.24" height="2.27" fill="#468c6e"/>
<rect x="242.86" y="264.20" width="1.24" height="2.27" fill="#2846b4"/>
<rect x="242.86" y="471.00" width="1.24" height="2.27" fill="#78d228"/>
<rect x="244.54" y="264.20" width="1.24" height="2.27" fill="#2846b4"/>
<rect x="244.54" y="471.00" width="1.24" height="2.27" fill="#468c6e"/>
<rect x="236.14" y="272.29" width="1.24" height="2.27" fill="#2846b4"/>
<rect x="236.14" y="479.09" width="1.24" height="2.27" fill="#ff7800"/>
<rect x="236.14" y="270.27" width="1.24" height="2.27" fill="#2846b4"/>
<rect x="236.14" y="477.07" width="1.24" height="2.27" fill="#78d228"/>
<rect x="236.14" y="268.25" width="1.24" height="2.27" fill="#78d228"/>
<rect x="236.14" y="475.05" width="1.24" height="2.27" fill="#ffb400"/>
<rect x="236.14" y="266.23" width="1.24" height="2.27" fill="#2846b4"/>
<rect x="236.14" y="473.03" width="1.24" height="2.27" fill="#c8c8be"/>
<rect x="236.98" y="270.27" width="1.24" height="2.27" fill="#468c6e"/>
<rect x="236.98" y="477.07" width="1.24" height="2.27" fill="#ffb400"/>
<rect x="236.98" y="268.25" width="1.24" height="2.27" fill="#2846b4"/>
<rect x="236.98" y="475.05" width="1.24" height="2.27" fill="#ff7800"/>
<rect x="236.98" y="266.23" width="1.24" height="2.27" fill="#2846b4"/>
<rect x="236.98" y="473.03" width="1.24" height="2.27" fill="#78d228"/>
<rect x="237.82" y="270.27" width="1.24" height="2.27" fill="#2846b4"/>
<rect x="237.82" y="477.07" width="1.24" height="2.27" fill="#ff7800"/>
<rect x="237.82" y="268.25" width="1.24" height="2.27" fill="#468c6e"/>
<rect x="237.82" y="475.05" width="1.24" height="2.27" fill="#ffb400"/>
<rect x="237.82" y="266.23" width="1.24" height="2.27" fill="#0000ff"/>
<rect x="237.82" y="473.03" width="1.24" height="2.27" fill="#ffb400"/>
<rect x="237.82" y="264.20" width="1.24" height="2.27" fill="#2846b4"/>
<rect x="237.82" y="471.00" width="1.24" height="2.27" fill="#ffb400"/>
<rect x="238.66" y="270.27" width="1.24" height="2.27" fill="#468c6e"/>
<rect x="238.66" y="477.07" width="1.24" height="2.27" fill="#ffb400"/>
<rect x="238.66" y="268.25" width="1.24" height="2.27" fill="#468c6e"/>
<rect x="238.66" y="475.05" width="1.24" height="2.27" fill="#ff7800"/>
<rect x="239.50" y="270.27" width="1.24" height="2.27" fill="#0000ff"/>
<rect x="239.50" y="477.07" width="1.24" height="2.27" fill="#78d228"/>
<rect x="239.50" y="268.25" width="1.24" height="2.27" fill="#2846b4"/>
<rect x="239.50" y="475.05" width="1.24" height="2.27" fill="#ffb400"/>
<rect x="240.34" y="270.27" width="1.24" height="2.27" fill="#2846b4"/>
<rect x="240.34" y="477.07" width="1.24" height="2.27" fill="#ff7800"/>
<rect x="240.34" y="268.25" width="1.24" height="2.27" fill="#468c6e"/>
<rect x="240.34" y="475.05" width="1.24" height="2.27" fill="#ffb400"/>
<rect x="240.34" y="266.23" width="1.24" height="2.27" fill="#468c6e"/>
<rect x="240.34" y="473.03" width="1.24" height="2.27" fill="#468c6e"/>
<rect x="241.18" y="272.29" width="1.24" height="2.27" fill="#2846b4"/>
<rect x="241.18" y="479.09" width="1.24" height="2.27" fill="#ff7800"/>
<rect x="241.18" y="270.27" width="1.24" height="2.27" fill="#2846b4"/>
<rect x="241.18" y="477.07" width="1.24" height="2.27" fill="#ff7800"/>
<rect x="241.18" y="268.25" width="1.24" height="2.27" fill="#78d228"/>
<rect x="241.18" y="475.05" width="1.24" height="2.27" fill="#ffb400"/>
<rect x="242.02" y="270.27" width="1.24" height="2.27" fill="#468c6e"/>
<rect x="242.02" y="477.07" width="1.24" height="2.27" fill="#ffb400"/>
<rect x="242.02" y="268.25" width="1.24" height="2.27" fill="#78d228"/>
<rect x="242.02" y="475.05" width="1.24" height="2.27" fill="#ffb400"/>
<rect x="242.02" y="266.23" width="1.24" height="2.27" fill="#2846b4"/>
<rect x="242.02" y="473.03" width="1.24" height="2.27" fill="#78d228"/>
<rect x="242.86" y="272.29" width="1.24" height="2.27" fill="#2846b4"/>
<rect x="242.86" y="479.09" width="1.24" height="2.27" fill="#ffb400"/>
<rect x="242.86" y="270.27" width="1.24" height="2.27" fill="#468c6e"/>
<rect x="242.86" y="477.07" width="1.24" height="2.27" fill="#ff7800"/>
<rect x="242.86" y="266.23" width="1.24" height="2.27" fill="#0000ff"/>
<rect x="242.86" y="473.03" width="1.24" height="2.27" fill="#ffb400"/>
<rect x="243.70" y="272.29" width="1.24" height="2.27" fill="#2846b4"/>
<rect x="243.70" y="479.09" width="1.24" height="2.27" fill="#ff7800"/>
<rect x="243.70" y="270.27" width="1.24" height="2.27" fill="#0000ff"/>
<rect x="243.70" y="477.07" width="1.24" height="2.27" fill="#ffb400"/>
<rect x="243.70" y="268.25" width="1.24" height="2.27" fill="#2846b4"/>
<rect x="243.70" y="475.05" width="1.24" height="2.27" fill="#78d228"/>
<rect x="244.54" y="274.31" width="1.24" height="2.27" fill="#2846b4"/>
<rect x="244.54" y="481.11" width="1.24" height="2.27" fill="#ffb400"/>
<rect x="244.54" y="272.29" width="1.24" height="2.27" fill="#468c6e"/>
<rect x="244.54" y="479.09" width="1.24" height="2.27" fill="#ffb400"/>
<rect x="244.54" y="270.27" width="1.24" height="2.27" fill="#2846b4"/>
<rect x="244.54" y="477.07" width="1.24" height="2.27" fill="#ffb400"/>
<rect x="244.54" y="268.25" width="1.24" height="2.27" fill="#2846b4"/>
<rect x="244.54" y="475.05" width="1.24" height="2.27" fill="#ffb400"/>
<rect x="244.54" y="266.23" width="1.24" height="2.27" fill="#2846b4"/>
<rect x="244.54" y="473.03" width="1.24" height="2.27" fill="#468c6e"/>
<rect x="244.54" y="262.18" width="1.24" height="2.27" fill="#2846b4"/>
<rect x="244.54" y="468.98" width="1.24" height="2.27" fill="#78d228"/>
<rect x="245.38" y="274.31" width="1.24" height="2.27" fill="#0000ff"/>
<rect x="245.38" y="481.11" width="1.24" height="2.27" fill="#ff7800"/>
<rect x="245.38" y="272.29" width="1.24" height="2.27" fill="#2846b4"/>
<rect x="245.38" y="479.09" width="1.24" height="2.27" fill="#ffb400"/>
<rect x="245.38" y="270.27" width="1.24" height="2.27" fill="#2846b4"/>
<rect x="245.38" y="477.07" width="1.24" height="2.27" fill="#ffb400"/>
<rect x="245.38" y="268.25" width="1.24" height="2.27" fill="#0000ff"/>
<rect x="245.38" y="475.05" width="1.24" height="2.27" fill="#468c6e"/>
<rect x="245.38" y="266.23" width="1.24" height="2.27" fill="#468c6e"/>
<rect x="245.38" y="473.03" width="1.24" height="2.27" fill="#468c6e"/>
<rect x="245.38" y="264.20" width="1.24" height="2.27" fill="#2846b4"/>
<rect x="245.38" y="471.00" width="1.24" height="2.27" fill="#78d228"/>
<rect x="246.22" y="274.31" width="1.24" height="2.27" fill="#2846b4"/>
<rect x="246.22" y="481.11" width="1.24" height="2.27" fill="#ff7800"/>
<rect x="246.22" y="272.29" width="1.24" height="2.27" fill="#468c6e"/>
<rect x="246.22" y="479.09" width="1.24" height="2.27" fill="#ffb400"/>
<rect x="246.22" y="270.27" width="1.24" height="2.27" fill="#0000ff"/>
<rect x="246.22" y="477.07" width="1.24" height="2.27" fill="#ff7800"/>
<rect x="246.22" y="268.25" width="1.24" height="2.27" fill="#468c6e"/>
<rect x="246.22" y="475.05" width="1.24" height="2.27" fill="#78d228"/>
<rect x="246.22" y="266.23" width="1.24" height="2.27" fill="#78d228"/>
<rect x="246.22" y="473.03" width="1.24" height="2.27" fill="#78d228"/>
<rect x="246.22" y="264.20" width="1.24" height="2.27" fill="#2846b4"/>
<rect x="246.22" y="471.00" width="1.24" height="2.27" fill="#ffb400"/>
<rect x="246.22" y="262.18" width="1.24" height="2.27" fill="#0000ff"/>
<rect x="246.22" y="468.98" width="1.24" height="2.27" fill="#78d228"/>
<rect x="247.06" y="270.27" width="1.24" height="2.27" fill="#2846b4"/>
<rect x="247.06" y="477.07" width="1.24" height="2.27" fill="#ff7800"/>
<rect x="247.06" y="268.25" width="1.24" height="2.27" fill="#0000ff"/>
<rect x="247.06" y="475.05" width="1.24" height="2.27" fill="#ffb400"/>
<rect x="247.06" y="266.23" width="1.24" height="2.27" fill="#2846b4"/>
<rect x="247.06" y="473.03" width="1.24" height="2.27" fill="#78d228"/>
<rect x="247.90" y="272.29" width="1.24" height="2.27" fill="#2846b4"/>
<rect x="247.90" y="479.09" width="1.24" height="2.27" fill="#ff7800"/>
<rect x="247.90" y="270.27" width="1.24" height="2.27" fill="#2846b4"/>
<rect x="247.90" y="477.07" width="1.24" height="2.27" fill="#ffb400"/>
<rect x="247.90" y="268.25" width="1.24" height="2.27" fill="#468c6e"/>
<rect x="247.90" y="475.05" width="1.24" height="2.27" fill="#468c6e"/>
<rect x="247.90" y="266.23" width="1.24" height="2.27" fill="#0000ff"/>
<rect x="247.90" y="473.03" width="1.24" height="2.27" fill="#78d228"/>
<rect x="247.90" y="264.20" width="1.24" height="2.27" fill="#468c6e"/>
<rect x="247.90" y="471.00" width="1.24" height="2.27" fill="#78d228"/>
<rect x="248.74" y="270.27" width="1.24" height="2.27" fill="#468c6e"/>
<rect x="248.74" y="477.07" width="1.24" height="2.27" fill="#78d228"/>
<rect x="248.74" y="268.25" width="1.24" height="2.27" fill="#468c6e"/>
<rect x="248.74" y="475.05" width="1.24" height="2.27" fill="#468c6e"/>
<rect x="248.74" y="266.23" width="1.24" height="2.27" fill="#2846b4"/>
<rect x="248.74" y="473.03" width="1.24" height="2.27" fill="#78d228"/>
<rect x="249.58" y="272.29" width="1.24" height="2.27" fill="#0000ff"/>
<rect x="249.58" y="479.09" width="1.24" height="2.27" fill="#ff7800"/>
<rect x="249.58" y="270.27" width="1.24" height="2.27" fill="#2846b4"/>
<rect x="249.58" y="477.07" width="1.24" height="2.27" fill="#c8c8be"/>
<rect x="249.58" y="268.25" width="1.24" height="2.27" fill="#468c6e"/>
<rect x="249.58" y="475.05" width="1.24" height="2.27" fill="#ffb400"/>
<rect x="249.58" y="266.23" width="1.24" height="2.27" fill="#2846b4"/>
<rect x="249.58" y="473.03" width="1.24" height="2.27" fill="#78d228"/>
<rect x="250.42" y="274.31" width="1.24" height="2.27" fill="#0000ff"/>
<rect x="250.42" y="481.11" width="1.24" height="2.27" fill="#ffb400"/>
<rect x="250.42" y="272.29" width="1.24" height="2.27" fill="#2846b4"/>
<rect x="250.42" y="479.09" width="1.24" height="2.27" fill="#ffb400"/>
<rect x="250.42" y="270.27" width="1.24" height="2.27" fill="#78d228"/>
<rect x="250.42" y="477.07" width="1.24" height="2.27" fill="#78d228"/>
<rect x="250.42" y="268.25" width="1.24" height="2.27" fill="#468c6e"/>
<rect x="250.42" y="475.05" width="1.24" height="2.27" fill="#ffb400"/>
<rect x="250.42" y="266.23" width="1.24" height="2.27" fill="#2846b4"/>
<rect x="250.42" y="473.03" width="1.24" height="2.27" fill="#78d228"/>
<rect x="250.42" y="264.20" width="1.24" height="2.27" fill="#2846b4"/>
<rect x="250.42" y="471.00" width="1.24" height="2.27" fill="#78d228"/>
<rect x="250.42" y="262.18" width="1.24" height="2.27" fill="#2846b4"/>
<rect x="250.42" y="468.98" width="1.24" height="2.27" fill="#78d228"/>
<rect x="251.26" y="274.31" width="1.24" height="2.27" fill="#2846b4"/>
<rect x="251.26" y="481.11" width="1.24" height="2.27" fill="#ffb400"/>
<rect x="251.26" y="270.27" width="1.24" height="2.27" fill="#78d228"/>
<rect x="251.26" y="477.07" width="1.24" height="2.27" fill="#78d228"/>
<rect x="251.26" y="268.25" width="1.24" height="2.27" fill="#468c6e"/>
<rect x="251.26" y="475.05" width="1.24" height="2.27" fill="#78d228"/>
<rect x="251.26" y="266.23" width="1.24" height="2.27" fill="#468c6e"/>
<rect x="251.26" y="473.03" width="1.24" height="2.27" fill="#78d228"/>
<rect x="251.26" y="264.20" width="1.24" height="2.27" fill="#0000ff"/>
<rect x="251.26" y="471.00" width="1.24" height="2.27" fill="#78d228"/>
<rect x="252.10" y="272.29" width="1.24" height="2.27" fill="#2846b4"/>
<rect x="252.10" y="479.09" width="1.24" height="2.27" fill="#ffb400"/>
<rect x="252.10" y="270.27" width="1.24" height="2.27" fill="#2846b4"/>
<rect x="252.10" y="477.07" width="1.24" height="2.27" fill="#78d228"/>
<rect x="252.10" y="268.25" width="1.24" height="2.27" fill="#78d228"/>
<rect x="252.10" y="475.05" width="1.24" height="2.27" fill="#c8c8be"/>
<rect x="252.10" y="266.23" width="1.24" height="2.27" fill="#468c6e"/>
<rect x="252.10" y="473.03" width="1.24" height="2.27" fill="#78d228"/>
<rect x="252.10" y="264.20" width="1.24" height="2.27" fill="#2846b4"/>
<rect x="252.10" y="471.00" width="1.24" height="2.27" fill="#78d228"/>
<rect x="252.94" y="270.27" width="1.24" height="2.27" fill="#2846b4"/>
<rect x="252.94" y="477.07" width="1.24" height="2.27" fill="#78d228"/>
<rect x="252.94" y="268.25" width="1.24" height="2.27" fill="#78d228"/>
<rect x="252.94" y="475.05" width="1.24" height="2.27" fill="#ffb400"/>
<rect x="252.94" y="266.23" width="1.24" height="2.27" fill="#468c6e"/>
<rect x="252.94" y="473.03" width="1.24" height="2.27" fill="#78d228"/>
<rect x="253.78" y="272.29" width="1.24" height="2.27" fill="#0000ff"/>
<rect x="253.78" y="479.09" width="1.24" height="2.27" fill="#ffb400"/>
<rect x="253.78" y="270.27" width="1.24" height="2.27" fill="#2846b4"/>
<rect x="253.78" y="477.07" width="1.24" height="2.27" fill="#78d228"/>
<rect x="253.78" y="268.25" width="1.24" height="2.27" fill="#468c6e"/>
<rect x="253.78" y="475.05" width="1.24" height="2.27" fill="#78d228"/>
<rect x="253.78" y="266.23" width="1.24" height="2.27" fill="#2846b4"/>
<rect x="253.78" y="473.03" width="1.24" height="2.27" fill="#78d228"/>
<rect x="253.78" y="264.20" width="1.24" height="2.27" fill="#0000ff"/>
<rect x="253.78" y="471.00" width="1.24" height="2.27" fill="#78d228"/>
<rect x="254.62" y="272.29" width="1.24" height="2.27" fill="#2846b4"/>
<rect x="254.62" y="479.09" width="1.24" height="2.27" fill="#ffb400"/>
<rect x="254.62" y="268.25" width="1.24" height="2.27" fill="#468c6e"/>
<rect x="254.62" y="475.05" width="1.24" height="2.27" fill="#78d228"/>
<rect x="254.62" y="266.23" width="1.24" height="2.27" fill="#78d228"/>
<rect x="254.62" y="473.03" width="1.24" height="2.27" fill="#78d228"/>
<rect x="254.62" y="264.20" width="1.24" height="2.27" fill="#468c6e"/>
<rect x="254.62" y="471.00" width="1.24" height="2.27" fill="#78d228"/>
<rect x="255.46" y="272.29" width="1.24" height="2.27" fill="#2846b4"/>
<rect x="255.46" y="479.09" width="1.24" height="2.27" fill="#ff7800"/>
<rect x="255.46" y="270.27" width="1.24" height="2.27" fill="#2846b4"/>
<rect x="255.46" y="477.07" width="1.24" height="2.27" fill="#78d228"/>
<rect x="255.46" y="268.25" width="1.24" height="2.27" fill="#2846b4"/>
<rect x="255.46" y="475.05" width="1.24" height="2.27" fill="#78d228"/>
<rect x="255.46" y="266.23" width="1.24" height="2.27" fill="#0000ff"/>
<rect x="255.46" y="473.03" width="1.24" height="2.27" fill="#78d228"/>
<rect x="255.46" y="264.20" width="1.24" height="2.27" fill="#2846b4"/>
<rect x="255.46" y="471.00" width="1.24" height="2.27" fill="#78d228"/>
<rect x="256.30" y="276.34" width="1.24" height="2.27" fill="#2846b4"/>
<rect x="256.30" y="483.14" width="1.24" height="2.27" fill="#ffb400"/>
<rect x="256.30" y="274.31" width="1.24" height="2.27" fill="#0000ff"/>
<rect x="256.30" y="481.11" width="1.24" height="2.27" fill="#ff7800"/>
<rect x="256.30" y="272.29" width="1.24" height="2.27" fill="#468c6e"/>
<rect x="256.30" y="479.09" width="1.24" height="2.27" fill="#ff7800"/>
<rect x="256.30" y="270.27" width="1.24" height="2.27" fill="#468c6e"/>
<rect x="256.30" y="477.07" width="1.24" height="2.27" fill="#78d228"/>
<rect x="256.30" y="268.25" width="1.24" height="2.27" fill="#2846b4"/>
<rect x="256.30" y="475.05" width="1.24" height="2.27" fill="#ffb400"/>
<rect x="256.30" y="266.23" width="1.24" height="2.27" fill="#2846b4"/>
<rect x="256.30" y="473.03" width="1.24" height="2.27" fill="#78d228"/>
<rect x="257.14" y="276.34" width="1.24" height="2.27" fill="#0000ff"/>
<rect x="257.14" y="483.14" width="1.24" height="2.27" fill="#ffb400"/>
<rect x="257.14" y="274.31" width="1.24" height="2.27" fill="#2846b4"/>
<rect x="257.14" y="481.11" width="1.24" height="2.27" fill="#ffb400"/>
<rect x="257.14" y="272.29" width="1.24" height="2.27" fill="#468c6e"/>
<rect x="257.14" y="479.09" width="1.24" height="2.27" fill="#ff7800"/>
<rect x="257.14" y="270.27" width="1.24" height="2.27" fill="#78d228"/>
<rect x="257.14" y="477.07" width="1.24" height="2.27" fill="#78d228"/>
<rect x="257.14" y="268.25" width="1.24" height="2.27" fill="#468c6e"/>
<rect x="257.14" y="475.05" width="1.24" height="2.27" fill="#78d228"/>
<rect x="257.14" y="266.23" width="1.24" height="2.27" fill="#0000ff"/>
<rect x="257.14" y="473.03" width="1.24" height="2.27" fill="#78d228"/>
<rect x="257.14" y="262.18" width="1.24" height="2.27" fill="#0000ff"/>
<rect x="257.14" y="468.98" width="1.24" height="2.27" fill="#ffb400"/>
<rect x="257.98" y="274.31" width="1.24" height="2.27" fill="#2846b4"/>
<rect x="257.98" y="481.11" width="1.24" height="2.27" fill="#ffb400"/>
<rect x="257.98" y="272.29" width="1.24" height="2.27" fill="#468c6e"/>
<rect x="257.98" y="479.09" width="1.24" height="2.27" fill="#ff7800"/>
<rect x="257.98" y="270.27" width="1.24" height="2.27" fill="#2846b4"/>
<rect x="257.98" y="477.07" width="1.24" height="2.27" fill="#78d228"/>
<rect x="257.98" y="268.25" width="1.24" height="2.27" fill="#468c6e"/>
<rect x="257.98" y="475.05" width="1.24" height="2.27" fill="#78d228"/>
<rect x="257.98" y="266.23" width="1.24" height="2.27" fill="#0000ff"/>
<rect x="257.98" y="473.03" width="1.24" height="2.27" fill="#468c6e"/>
<rect x="258.82" y="274.31" width="1.24" height="2.27" fill="#2846b4"/>
<rect x="258.82" y="481.11" width="1.24" height="2.27" fill="#ffb400"/>
<rect x="258.82" y="272.29" width="1.24" height="2.27" fill="#468c6e"/>
<rect x="258.82" y="479.09" width="1.24" height="2.27" fill="#ffb400"/>
<rect x="258.82" y="270.27" width="1.24" height="2.27" fill="#468c6e"/>
<rect x="258.82" y="477.07" width="1.24" height="2.27" fill="#78d228"/>
<rect x="258.82" y="268.25" width="1.24" height="2.27" fill="#2846b4"/>
<rect x="258.82" y="475.05" width="1.24" height="2.27" fill="#78d228"/>
<rect x="258.82" y="266.23" width="1.24" height="2.27" fill="#78d228"/>
<rect x="258.82" y="473.03" width="1.24" height="2.27" fill="#c8c8be"/>
<rect x="258.82" y="264.20" width="1.24" height="2.27" fill="#468c6e"/>
<rect x="258.82" y="471.00" width="1.24" height="2.27" fill="#78d228"/>
<rect x="259.66" y="274.31" width="1.24" height="2.27" fill="#2846b4"/>
<rect x="259.66" y="481.11" width="1.24" height="2.27" fill="#ffb400"/>
<rect x="259.66" y="272.29" width="1.24" height="2.27" fill="#468c6e"/>
<rect x="259.66" y="479.09" width="1.24" height="2.27" fill="#ffb400"/>
<rect x="259.66" y="270.27" width="1.24" height="2.27" fill="#2846b4"/>
<rect x="259.66" y="477.07" width="1.24" height="2.27" fill="#78d228"/>
<rect x="259.66" y="268.25" width="1.24" height="2.27" fill="#468c6e"/>
<rect x="259.66" y="475.05" width="1.24" height="2.27" fill="#78d228"/>
<rect x="259.66" y="266.23" width="1.24" height="2.27" fill="#468c6e"/>
<rect x="259.66" y="473.03" width="1.24" height="2.27" fill="#78d228"/>
<rect x="259.66" y="262.18" width="1.24" height="2.27" fill="#2846b4"/>
<rect x="259.66" y="468.98" width="1.24" height="2.27" fill="#78d228"/>
<rect x="260.50" y="278.36" width="1.24" height="2.27" fill="#2846b4"/>
<rect x="260.50" y="485.16" width="1.24" height="2.27" fill="#ffb400"/>
<rect x="260.50" y="274.31" width="1.24" height="2.27" fill="#78d228"/>
<rect x="260.50" y="481.11" width="1.24" height="2.27" fill="#78d228"/>
<rect x="260.50" y="272.29" width="1.24" height="2.27" fill="#2846b4"/>
<rect x="260.50" y="479.09" width="1.24" height="2.27" fill="#ffb400"/>
<rect x="260.50" y="270.27" width="1.24" height="2.27" fill="#468c6e"/>
<rect x="260.50" y="477.07" width="1.24" height="2.27" fill="#78d228"/>
<rect x="260.50" y="268.25" width="1.24" height="2.27" fill="#0000ff"/>
<rect x="260.50" y="475.05" width="1.24" height="2.27" fill="#78d228"/>
<rect x="260.50" y="266.23" width="1.24" height="2.27" fill="#2846b4"/>
<rect x="260.50" y="473.03" width="1.24" height="2.27" fill="#ffb400"/>
<rect x="260.50" y="264.20" width="1.24" height="2.27" fill="#2846b4"/>
<rect x="260.50" y="471.00" width="1.24" height="2.27" fill="#78d228"/>
<rect x="260.50" y="262.18" width="1.24" height="2.27" fill="#468c6e"/>
<rect x="260.50" y="468.98" width="1.24" height="2.27" fill="#78d228"/>
<rect x="261.34" y="276.34" width="1.24" height="2.27" fill="#0000ff"/>
<rect x="261.34" y="483.14" width="1.24" height="2.27" fill="#ffb400"/>
<rect x="261.34" y="274.31" width="1.24" height="2.27" fill="#2846b4"/>
<rect x="261.34" y="481.11" width="1.24" height="2.27" fill="#ff7800"/>
<rect x="261.34" y="272.29" width="1.24" height="2.27" fill="#468c6e"/>
<rect x="261.34" y="479.09" width="1.24" height="2.27" fill="#ffb400"/>
<rect x="261.34" y="270.27" width="1.24" height="2.27" fill="#468c6e"/>
<rect x="261.34" y="477.07" width="1.24" height="2.27" fill="#78d228"/>
<rect x="261.34" y="268.25" width="1.24" height="2.27" fill="#2846b4"/>
<rect x="261.34" y="475.05" width="1.24" height="2.27" fill="#78d228"/>
<rect x="261.34" y="266.23" width="1.24" height="2.27" fill="#2846b4"/>
<rect x="261.34" y="473.03" width="1.24" height="2.27" fill="#78d228"/>
<rect x="261.34" y="264.20" width="1.24" height="2.27" fill="#2846b4"/>
<rect x="261.34" y="471.00" width="1.24" height="2.27" fill="#78d228"/>
<rect x="261.34" y="262.18" width="1.24" height="2.27" fill="#468c6e"/>
<rect x="261.34" y="468.98" width="1.24" height="2.27" fill="#78d228"/>
<rect x="262.18" y="276.34" width="1.24" height="2.27" fill="#0000ff"/>
<rect x="262.18" y="483.14" width="1.24" height="2.27" fill="#ffb400"/>
<rect x="262.18" y="274.31" width="1.24" height="2.27" fill="#0000ff"/>
<rect x="262.18" y="481.11" width="1.24" height="2.27" fill="#ffb400"/>
<rect x="262.18" y="270.27" width="1.24" height="2.27" fill="#2846b4"/>
<rect x="262.18" y="477.07" width="1.24" height="2.27" fill="#78d228"/>
<rect x="262.18" y="268.25" width="1.24" height="2.27" fill="#2846b4"/>
<rect x="262.18" y="475.05" width="1.24" height="2.27" fill="#78d228"/>
<rect x="262.18" y="266.23" width="1.24" height="2.27" fill="#2846b4"/>
<rect x="262.18" y="473.03" width="1.24" height="2.27" fill="#78d228"/>
<rect x="262.18" y="264.20" width="1.24" height="2.27" fill="#2846b4"/>
<rect x="262.18" y="471.00" width="1.24" height="2.27" fill="#78d228"/>
<rect x="263.02" y="274.31" width="1.24" height="2.27" fill="#2846b4"/>
<rect x="263.02" y="481.11" width="1.24" height="2.27" fill="#ff7800"/>
<rect x="263.02" y="272.29" width="1.24" height="2.27" fill="#2846b4"/>
<rect x="263.02" y="479.09" width="1.24" height="2.27" fill="#ffb400"/>
<rect x="263.02" y="270.27" width="1.24" height="2.27" fill="#2846b4"/>
<rect x="263.02" y="477.07" width="1.24" height="2.27" fill="#78d228"/>
<rect x="263.02" y="268.25" width="1.24" height="2.27" fill="#78d228"/>
<rect x="263.02" y="475.05" width="1.24" height="2.27" fill="#78d228"/>
<rect x="263.02" y="262.18" width="1.24" height="2.27" fill="#468c6e"/>
<rect x="263.02" y="468.98" width="1.24" height="2.27" fill="#468c6e"/>
<rect x="263.86" y="274.31" width="1.24" height="2.27" fill="#0000ff"/>
<rect x="263.86" y="481.11" width="1.24" height="2.27" fill="#ffb400"/>
<rect x="263.86" y="272.29" width="1.24" height="2.27" fill="#468c6e"/>
<rect x="263.86" y="479.09" width="1.24" height="2.27" fill="#ffb400"/>
<rect x="263.86" y="270.27" width="1.24" height="2.27" fill="#78d228"/>
<rect x="263.86" y="477.07" width="1.24" height="2.27" fill="#78d228"/>
<rect x="263.86" y="268.25" width="1.24" height="2.27" fill="#78d228"/>
<rect x="263.86" y="475.05" width="1.24" height="2.27" fill="#78d228"/>
<rect x="263.86" y="266.23" width="1.24" height="2.27" fill="#0000ff"/>
<rect x="263.86" y="473.03" width="1.24" height="2.27" fill="#78d228"/>
<rect x="263.86" y="264.20" width="1.24" height="2.27" fill="#2846b4"/>
<rect x="263.86" y="471.00" width="1.24" height="2.27" fill="#ffb400"/>
<rect x="264.70" y="274.31" width="1.24" height="2.27" fill="#2846b4"/>
<rect x="264.70" y="481.11" width="1.24" height="2.27" fill="#78d228"/>
<rect x="264.70" y="272.29" width="1.24" height="2.27" fill="#2846b4"/>
<rect x="264.70" y="479.09" width="1.24" height="2.27" fill="#78d228"/>
<rect x="264.70" y="270.27" width="1.24" height="2.27" fill="#468c6e"/>
<rect x="264.70" y="477.07" width="1.24" height="2.27" fill="#78d228"/>
<rect x="264.70" y="268.25" width="1.24" height="2.27" fill="#0000ff"/>
<rect x="264.70" y="475.05" width="1.24" height="2.27" fill="#78d228"/>
<rect x="264.70" y="266.23" width="1.24" height="2.27" fill="#2846b4"/>
<rect x="264.70" y="473.03" width="1.24" height="2.27" fill="#78d228"/>
<rect x="265.54" y="274.31" width="1.24" height="2.27" fill="#2846b4"/>
<rect x="265.54" y="481.11" width="1.24" height="2.27" fill="#ff7800"/>
<rect x="265.54" y="272.29" width="1.24" height="2.27" fill="#468c6e"/>
<rect x="265.54" y="479.09" width="1.24" height="2.27" fill="#c8c8be"/>
<rect x="265.54" y="270.27" width="1.24" height="2.27" fill="#468c6e"/>
<rect x="265.54" y="477.07" width="1.24" height="2.27" fill="#78d228"/>
<rect x="265.54" y="268.25" width="1.24" height="2.27" fill="#2846b4"/>
<rect x="265.54" y="475.05" width="1.24" height="2.27" fill="#78d228"/>
<rect x="265.54" y="266.23" width="1.24" height="2.27" fill="#468c6e"/>
<rect x="265.54" y="473.03" width="1.24" height="2.27" fill="#78d228"/>
<rect x="265.54" y="264.20" width="1.24" height="2.27" fill="#2846b4"/>
<rect x="265.54" y="471.00" width="1.24" height="2.27" fill="#78d228"/>
<rect x="266.38" y="272.29" width="1.24" height="2.27" fill="#2846b4"/>
<rect x="266.38" y="479.09" width="1.24" height="2.27" fill="#ffb400"/>
<rect x="266.38" y="270.27" width="1.24" height="2.27" fill="#2846b4"/>
<rect x="266.38" y="477.07" width="1.24" height="2.27" fill="#78d228"/>
<rect x="266.38" y="268.25" width="1.24" height="2.27" fill="#2846b4"/>
<rect x="266.38" y="475.05" width="1.24" height="2.27" fill="#78d228"/>
<rect x="266.38" y="266.23" width="1.24" height="2.27" fill="#2846b4"/>
<rect x="266.38" y="473.03" width="1.24" height="2.27" fill="#78d228"/>
<rect x="267.22" y="276.34" width="1.24" height="2.27" fill="#2846b4"/>
<rect x="267.22" y="483.14" width="1.24" height="2.27" fill="#78d228"/>
<rect x="267.22" y="274.31" width="1.24" height="2.27" fill="#468c6e"/>
<rect x="267.22" y="481.11" width="1.24" height="2.27" fill="#ffb400"/>
<rect x="267.22" y="272.29" width="1.24" height="2.27" fill="#468c6e"/>
<rect x="267.22" y="479.09" width="1.24" height="2.27" fill="#78d228"/>
<rect x="267.22" y="270.27" width="1.24" height="2.27" fill="#468c6e"/>
<rect x="267.22" y="477.07" width="1.24" height="2.27" fill="#78d228"/>
<rect x="267.22" y="268.25" width="1.24" height="2.27" fill="#468c6e"/>
<rect x="267.22" y="475.05" width="1.24" height="2.27" fill="#c8c8be"/>
<rect x="267.22" y="264.20" width="1.24" height="2.27" fill="#2846b4"/>
<rect x="267.22" y="471.00" width="1.24" height="2.27" fill="#78d228"/>
<rect x="268.06" y="274.31" width="1.24" height="2.27" fill="#2846b4"/>
<rect x="268.06" y="481.11" width="1.24" height="2.27" fill="#ffb400"/>
<rect x="268.06" y="272.29" width="1.24" height="2.27" fill="#468c6e"/>
<rect x="268.06" y="479.09" width="1.24" height="2.27" fill="#78d228"/>
<rect x="268.06" y="270.27" width="1.24" height="2.27" fill="#78d228"/>
<rect x="268.06" y="477.07" width="1.24" height="2.27" fill="#78d228"/>
<rect x="268.06" y="266.23" width="1.24" height="2.27" fill="#468c6e"/>
<rect x="268.06" y="473.03" width="1.24" height="2.27" fill="#78d228"/>
<rect x="268.06" y="264.20" width="1.24" height="2.27" fill="#2846b4"/>
<rect x="268.06" y="471.00" width="1.24" height="2.27" fill="#78d228"/>
<rect x="268.90" y="276.34" width="1.24" height="2.27" fill="#2846b4"/>
<rect x="268.90" y="483.14" width="1.24" height="2.27" fill="#ffb400"/>
<rect x="268.90" y="274.31" width="1.24" height="2.27" fill="#0000ff"/>
<rect x="268.90" y="481.11" width="1.24" height="2.27" fill="#ffb400"/>
<rect x="268.90" y="272.29" width="1.24" height="2.27" fill="#468c6e"/>
<rect x="268.90" y="479.09" width="1.24" height="2.27" fill="#78d228"/>
<rect x="268.90" y="270.27" width="1.24" height="2.27" fill="#468c6e"/>
<rect x="268.90" y="477.07" width="1.24" height="2.27" fill="#468c6e"/>
<rect x="268.90" y="268.25" width="1.24" height="2.27" fill="#2846b4"/>
<rect x="268.90" y="475.05" width="1.24" height="2.27" fill="#ffb400"/>
<rect x="268.90" y="266.23" width="1.24" height="2.27" fill="#2846b4"/>
<rect x="268.90" y="473.03" width="1.24" height="2.27" fill="#78d228"/>
<rect x="268.90" y="264.20" width="1.24" height="2.27" fill="#0000ff"/>
<rect x="268.90" y="471.00" width="1.24" height="2.27" fill="#78d228"/>
<rect x="269.74" y="276.34" width="1.24" height="2.27" fill="#2846b4"/>
<rect x="269.74" y="483.14" width="1.24" height="2.27" fill="#ffb400"/>
<rect x="269.74" y="274.31" width="1.24" height="2.27" fill="#468c6e"/>
<rect x="269.74" y="481.11" width="1.24" height="2.27" fill="#78d228"/>
<rect x="269.74" y="272.29" width="1.24" height="2.27" fill="#78d228"/>
<rect x="269.74" y="479.09" width="1.24" height="2.27" fill="#78d228"/>
<rect x="269.74" y="270.27" width="1.24" height="2.27" fill="#2846b4"/>
<rect x="269.74" y="477.07" width="1.24" height="2.27" fill="#78d228"/>
<rect x="269.74" y="268.25" width="1.24" height="2.27" fill="#78d228"/>
<rect x="269.74" y="475.05" width="1.24" height="2.27" fill="#78d228"/>
<rect x="270.58" y="274.31" width="1.24" height="2.27" fill="#2846b4"/>
<rect x="270.58" y="481.11" width="1.24" height="2.27" fill="#78d228"/>
<rect x="270.58" y="272.29" width="1.24" height="2.27" fill="#2846b4"/>
<rect x="270.58" y="479.09" width="1.24" height="2.27" fill="#78d228"/>
<rect x="270.58" y="270.27" width="1.24" height="2.27" fill="#0000ff"/>
<rect x="270.58" y="477.07" width="1.24" height="2.27" fill="#78d228"/>
<rect x="271.42" y="278.36" width="1.24" height="2.27" fill="#2846b4"/>
<rect x="271.42" y="485.16" width="1.24" height="2.27" fill="#ffb400"/>
<rect x="271.42" y="276.34" width="1.24" height="2.27" fill="#468c6e"/>
<rect x="271.42" y="483.14" width="1.24" height="2.27" fill="#78d228"/>
<rect x="271.42" y="274.31" width="1.24" height="2.27" fill="#468c6e"/>
<rect x="271.42" y="481.11" width="1.24" height="2.27" fill="#78d228"/>
<rect x="271.42" y="272.29" width="1.24" height="2.27" fill="#2846b4"/>
<rect x="271.42" y="479.09" width="1.24" height="2.27" fill="#78d228"/>
<rect x="271.42" y="270.27" width="1.24" height="2.27" fill="#468c6e"/>
<rect x="271.42" y="477.07" width="1.24" height="2.27" fill="#468c6e"/>
<rect x="271.42" y="268.25" width="1.24" height="2.27" fill="#468c6e"/>
<rect x="271.42" y="475.05" width="1.24" height="2.27" fill="#78d228"/>
<rect x="271.42" y="266.23" width="1.24" height="2.27" fill="#0000ff"/>
<rect x="271.42" y="473.03" width="1.24" height="2.27" fill="#78d228"/>
<rect x="271.42" y="264.20" width="1.24" height="2.27" fill="#2846b4"/>
<rect x="271.42" y="471.00" width="1.24" height="2.27" fill="#78d228"/>
<rect x="271.42" y="262.18" width="1.24" height="2.27" fill="#2846b4"/>
<rect x="271.42" y="468.98" width="1.24" height="2.27" fill="#78d228"/>
<rect x="272.26" y="274.31" width="1.24" height="2.27" fill="#468c6e"/>
<rect x="272.26" y="481.11" width="1.24" height="2.27" fill="#ffb400"/>
<rect x="272.26" y="272.29" width="1.24" height="2.27" fill="#468c6e"/>
<rect x="272.26" y="479.09" width="1.24" height="2.27" fill="#78d228"/>
<rect x="272.26" y="270.27" width="1.24" height="2.27" fill="#468c6e"/>
<rect x="272.26" y="477.07" width="1.24" height="2.27" fill="#c8c8be"/>
<rect x="272.26" y="268.25" width="1.24" height="2.27" fill="#468c6e"/>
<rect x="272.26" y="475.05" width="1.24" height="2.27" fill="#78d228"/>
<rect x="272.26" y="266.23" width="1.24" height="2.27" fill="#468c6e"/>
<rect x="272.26" y="473.03" width="1.24" height="2.27" fill="#ffb400"/>
<rect x="273.10" y="278.36" width="1.24" height="2.27" fill="#2846b4"/>
<rect x="273.10" y="485.16" width="1.24" height="2.27" fill="#ffb400"/>
<rect x="273.10" y="276.34" width="1.24" height="2.27" fill="#0000ff"/>
<rect x="273.10" y="483.14" width="1.24" height="2.27" fill="#ffb400"/>
<rect x="273.10" y="274.31" width="1.24" height="2.27" fill="#0000ff"/>
<rect x="273.10" y="481.11" width="1.24" height="2.27" fill="#78d228"/>
<rect x="273.10" y="272.29" width="1.24" height="2.27" fill="#2846b4"/>
<rect x="273.10" y="479.09" width="1.24" height="2.27" fill="#ffb400"/>
<rect x="273.10" y="270.27" width="1.24" height="2.27" fill="#0000ff"/>
<rect x="273.10" y="477.07" width="1.24" height="2.27" fill="#c8c8be"/>
<rect x="273.10" y="268.25" width="1.24" height="2.27" fill="#0000ff"/>
<rect x="273.10" y="475.05" width="1.24" height="2.27" fill="#c8c8be"/>
<rect x="273.10" y="266.23" width="1.24" height="2.27" fill="#0000ff"/>
<rect x="273.10" y="473.03" width="1.24" height="2.27" fill="#ffb400"/>
<rect x="273.10" y="264.20" width="1.24" height="2.27" fill="#468c6e"/>
<rect x="273.10" y="471.00" width="1.24" height="2.27" fill="#78d228"/>
<rect x="273.94" y="276.34" width="1.24" height="2.27" fill="#0000ff"/>
<rect x="273.94" y="483.14" width="1.24" height="2.27" fill="#ffb400"/>
<rect x="273.94" y="274.31" width="1.24" height="2.27" fill="#2846b4"/>
<rect x="273.94" y="481.11" width="1.24" height="2.27" fill="#ffb400"/>
<rect x="273.94" y="272.29" width="1.24" height="2.27" fill="#2846b4"/>
<rect x="273.94" y="479.09" width="1.24" height="2.27" fill="#78d228"/>
<rect x="273.94" y="270.27" width="1.24" height="2.27" fill="#0000ff"/>
<rect x="273.94" y="477.07" width="1.24" height="2.27" fill="#ffb400"/>
<rect x="273.94" y="268.25" width="1.24" height="2.27" fill="#2846b4"/>
<rect x="273.94" y="475.05" width="1.24" height="2.27" fill="#c8c8be"/>
<rect x="273.94" y="266.23" width="1.24" height="2.27" fill="#0000ff"/>
<rect x="273.94" y="473.03" width="1.24" height="2.27" fill="#78d228"/>
<rect x="274.78" y="278.36" width="1.24" height="2.27" fill="#2846b4"/>
<rect x="274.78" y="485.16" width="1.24" height="2.27" fill="#ffb400"/>
<rect x="274.78" y="274.31" width="1.24" height="2.27" fill="#2846b4"/>
<rect x="274.78" y="481.11" width="1.24" height="2.27" fill="#78d228"/>
<rect x="274.78" y="272.29" width="1.24" height="2.27" fill="#2846b4"/>
<rect x="274.78" y="479.09" width="1.24" height="2.27" fill="#ff7800"/>
<rect x="274.78" y="270.27" width="1.24" height="2.27" fill="#2846b4"/>
<rect x="274.78" y="477.07" width="1.24" height="2.27" fill="#78d228"/>
<rect x="274.78" y="268.25" width="1.24" height="2.27" fill="#2846b4"/>
<rect x="274.78" y="475.05" width="1.24" height="2.27" fill="#ffb400"/>
<rect x="274.78" y="266.23" width="1.24" height="2.27" fill="#2846b4"/>
<rect x="274.78" y="473.03" width="1.24" height="2.27" fill="#c8c8be"/>
<rect x="275.62" y="276.34" width="1.24" height="2.27" fill="#468c6e"/>
<rect x="275.62" y="483.14" width="1.24" height="2.27" fill="#ffb400"/>
<rect x="275.62" y="272.29" width="1.24" height="2.27" fill="#2846b4"/>
<rect x="275.62" y="479.09" width="1.24" height="2.27" fill="#ff7800"/>
<rect x="275.62" y="270.27" width="1.24" height="2.27" fill="#2846b4"/>
<rect x="275.62" y="477.07" width="1.24" height="2.27" fill="#ffb400"/>
<rect x="275.62" y="268.25" width="1.24" height="2.27" fill="#2846b4"/>
<rect x="275.62" y="475.05" width="1.24" height="2.27" fill="#78d228"/>
<rect x="276.46" y="276.34" width="1.24" height="2.27" fill="#2846b4"/>
<rect x="276.46" y="483.14" width="1.24" height="2.27" fill="#c8c8be"/>
<rect x="276.46" y="274.31" width="1.24" height="2.27" fill="#0000ff"/>
<rect x="276.46" y="481.11" width="1.24" height="2.27" fill="#78d228"/>
<rect x="276.46" y="272.29" width="1.24" height="2.27" fill="#2846b4"/>
<rect x="276.46" y="479.09" width="1.24" height="2.27" fill="#78d228"/>
<rect x="276.46" y="270.27" width="1.24" height="2.27" fill="#2846b4"/>
<rect x="276.46" y="477.07" width="1.24" height="2.27" fill="#78d228"/>
<rect x="276.46" y="266.23" width="1.24" height="2.27" fill="#2846b4"/>
<rect x="276.46" y="473.03" width="1.24" height="2.27" fill="#78d228"/>
<rect x="277.30" y="278.36" width="1.24" height="2.27" fill="#2846b4"/>
<rect x="277.30" y="485.16" width="1.24" height="2.27" fill="#c8c8be"/>
<rect x="277.30" y="274.31" width="1.24" height="2.27" fill="#2846b4"/>
<rect x="277.30" y="481.11" width="1.24" height="2.27" fill="#ffb400"/>
<rect x="277.30" y="272.29" width="1.24" height="2.27" fill="#2846b4"/>
<rect x="277.30" y="479.09" width="1.24" height="2.27" fill="#78d228"/>
<rect x="277.30" y="270.27" width="1.24" height="2.27" fill="#2846b4"/>
<rect x="277.30" y="477.07" width="1.24" height="2.27" fill="#78d228"/>
<rect x="277.30" y="268.25" width="1.24" height="2.27" fill="#2846b4"/>
<rect x="277.30" y="475.05" width="1.24" height="2.27" fill="#78d228"/>
<rect x="277.30" y="266.23" width="1.24" height="2.27" fill="#0000ff"/>
<rect x="277.30" y="473.03" width="1.24" height="2.27" fill="#ff7800"/>
<rect x="277.30" y="264.20" width="1.24" height="2.27" fill="#2846b4"/>
<rect x="277.30" y="471.00" width="1.24" height="2.27" fill="#ffb400"/>
<rect x="278.14" y="276.34" width="1.24" height="2.27" fill="#2846b4"/>
<rect x="278.14" y="483.14" width="1.24" height="2.27" fill="#ffb400"/>
<rect x="278.14" y="274.31" width="1.24" height="2.27" fill="#2846b4"/>
<rect x="278.14" y="481.11" width="1.24" height="2.27" fill="#c8c8be"/>
<rect x="278.14" y="272.29" width="1.24" height="2.27" fill="#0000ff"/>
<rect x="278.14" y="479.09" width="1.24" height="2.27" fill="#c8c8be"/>
<rect x="278.14" y="270.27" width="1.24" height="2.27" fill="#2846b4"/>
<rect x="278.14" y="477.07" width="1.24" height="2.27" fill="#ffb400"/>
<rect x="278.14" y="268.25" width="1.24" height="2.27" fill="#2846b4"/>
<rect x="278.14" y="475.05" width="1.24" height="2.27" fill="#78d228"/>
<rect x="278.14" y="266.23" width="1.24" height="2.27" fill="#2846b4"/>
<rect x="278.14" y="473.03" width="1.24" height="2.27" fill="#c8c8be"/>
<rect x="278.98" y="276.34" width="1.24" height="2.27" fill="#2846b4"/>
<rect x="278.98" y="483.14" width="1.24" height="2.27" fill="#78d228"/>
<rect x="278.98" y="274.31" width="1.24" height="2.27" fill="#0000ff"/>
<rect x="278.98" y="481.11" width="1.24" height="2.27" fill="#ffb400"/>
<rect x="278.98" y="272.29" width="1.24" height="2.27" fill="#2846b4"/>
<rect x="278.98" y="479.09" width="1.24" height="2.27" fill="#ffb400"/>
<rect x="278.98" y="270.27" width="1.24" height="2.27" fill="#468c6e"/>
<rect x="278.98" y="477.07" width="1.24" height="2.27" fill="#c8c8be"/>
<rect x="278.98" y="268.25" width="1.24" height="2.27" fill="#0000ff"/>
<rect x="278.98" y="475.05" width="1.24" height="2.27" fill="#78d228"/>
<rect x="278.98" y="266.23" width="1.24" height="2.27" fill="#2846b4"/>
<rect x="278.98" y="473.03" width="1.24" height="2.27" fill="#78d228"/>
<rect x="278.98" y="264.20" width="1.24" height="2.27" fill="#2846b4"/>
<rect x="278.98" y="471.00" width="1.24" height="2.27" fill="#c8c8be"/>
<rect x="279.82" y="276.34" width="1.24" height="2.27" fill="#2846b4"/>
<rect x="279.82" y="483.14" width="1.24" height="2.27" fill="#ffb400"/>
<rect x="279.82" y="274.31" width="1.24" height="2.27" fill="#2846b4"/>
<rect x="279.82" y="481.11" width="1.24" height="2.27" fill="#78d228"/>
<rect x="279.82" y="270.27" width="1.24" height="2.27" fill="#468c6e"/>
<rect x="279.82" y="477.07" width="1.24" height="2.27" fill="#ff7800"/>
<rect x="279.82" y="268.25" width="1.24" height="2.27" fill="#2846b4"/>
<rect x="279.82" y="475.05" width="1.24" height="2.27" fill="#78d228"/>
<rect x="279.82" y="266.23" width="1.24" height="2.27" fill="#2846b4"/>
<rect x="279.82" y="473.03" width="1.24" height="2.27" fill="#ffb400"/>
<rect x="280.66" y="276.34" width="1.24" height="2.27" fill="#2846b4"/>
<rect x="280.66" y="483.14" width="1.24" height="2.27" fill="#ff7800"/>
<rect x="280.66" y="274.31" width="1.24" height="2.27" fill="#0000ff"/>
<rect x="280.66" y="481.11" width="1.24" height="2.27" fill="#c8c8be"/>
<rect x="280.66" y="272.29" width="1.24" height="2.27" fill="#0000ff"/>
<rect x="280.66" y="479.09" width="1.24" height="2.27" fill="#78d228"/>
<rect x="280.66" y="270.27" width="1.24" height="2.27" fill="#2846b4"/>
<rect x="280.66" y="477.07" width="1.24" height="2.27" fill="#78d228"/>
<rect x="280.66" y="268.25" width="1.24" height="2.27" fill="#2846b4"/>
<rect x="280.66" y="475.05" width="1.24" height="2.27" fill="#78d228"/>
<rect x="280.66" y="266.23" width="1.24" height="2.27" fill="#0000ff"/>
<rect x="280.66" y="473.03" width="1.24" height="2.27" fill="#78d228"/>
<rect x="281.50" y="274.31" width="1.24" height="2.27" fill="#0000ff"/>
<rect x="281.50" y="481.11" width="1.24" height="2.27" fill="#ffb400"/>
<rect x="281.50" y="272.29" width="1.24" height="2.27" fill="#2846b4"/>
<rect x="281.50" y="479.09" width="1.24" height="2.27" fill="#c8c8be"/>
<rect x="281.50" y="270.27" width="1.24" height="2.27" fill="#2846b4"/>
<rect x="281.50" y="477.07" width="1.24" height="2.27" fill="#78d228"/>
<rect x="281.50" y="268.25" width="1.24" height="2.27" fill="#2846b4"/>
<rect x="281.50" y="475.05" width="1.24" height="2.27" fill="#78d228"/>
<rect x="281.50" y="266.23" width="1.24" height="2.27" fill="#0000ff"/>
<rect x="281.50" y="473.03" width="1.24" height="2.27" fill="#78d228"/>
<rect x="282.34" y="278.36" width="1.24" height="2.27" fill="#2846b4"/>
<rect x="282.34" y="485.16" width="1.24" height="2.27" fill="#78d228"/>
<rect x="282.34" y="276.34" width="1.24" height="2.27" fill="#2846b4"/>
<rect x="282.34" y="483.14" width="1.24" height="2.27" fill="#ffb400"/>
<rect x="282.34" y="274.31" width="1.24" height="2.27" fill="#2846b4"/>
<rect x="282.34" y="481.11" width="1.24" height="2.27" fill="#ff7800"/>
<rect x="282.34" y="272.29" width="1.24" height="2.27" fill="#2846b4"/>
<rect x="282.34" y="479.09" width="1.24" height="2.27" fill="#ffb400"/>
<rect x="282.34" y="270.27" width="1.24" height="2.27" fill="#0000ff"/>
<rect x="282.34" y="477.07" width="1.24" height="2.27" fill="#78d228"/>
<rect x="283.18" y="276.34" width="1.24" height="2.27" fill="#0000ff"/>
<rect x="283.18" y="483.14" width="1.24" height="2.27" fill="#ff7800"/>
<rect x="283.18" y="274.31" width="1.24" height="2.27" fill="#2846b4"/>
<rect x="283.18" y="481.11" width="1.24" height="2.27" fill="#ffb400"/>
<rect x="283.18" y="272.29" width="1.24" height="2.27" fill="#2846b4"/>
<rect x="283.18" y="479.09" width="1.24" height="2.27" fill="#ffb400"/>
<rect x="283.18" y="270.27" width="1.24" height="2.27" fill="#468c6e"/>
<rect x="283.18" y="477.07" width="1.24" height="2.27" fill="#78d228"/>
<rect x="283.18" y="268.25" width="1.24" height="2.27" fill="#0000ff"/>
<rect x="283.18" y="475.05" width="1.24" height="2.27" fill="#ffb400"/>
<rect x="284.02" y="276.34" width="1.24" height="2.27" fill="#0000ff"/>
<rect x="284.02" y="483.14" width="1.24" height="2.27" fill="#ffb400"/>
<rect x="284.02" y="274.31" width="1.24" height="2.27" fill="#2846b4"/>
<rect x="284.02" y="481.11" width="1.24" height="2.27" fill="#ffb400"/>
<rect x="284.02" y="272.29" width="1.24" height="2.27" fill="#2846b4"/>
<rect x="284.02" y="479.09" width="1.24" height="2.27" fill="#ff7800"/>
<rect x="284.02" y="270.27" width="1.24" height="2.27" fill="#2846b4"/>
<rect x="284.02" y="477.07" width="1.24" height="2.27" fill="#ffb400"/>
<rect x="284.02" y="268.25" width="1.24" height="2.27" fill="#0000ff"/>
<rect x="284.02" y="475.05" width="1.24" height="2.27" fill="#ffb400"/>
<rect x="284.02" y="266.23" width="1.24" height="2.27" fill="#468c6e"/>
<rect x="284.02" y="473.03" width="1.24" height="2.27" fill="#78d228"/>
<rect x="284.86" y="278.36" width="1.24" height="2.27" fill="#2846b4"/>
<rect x="284.86" y="485.16" width="1.24" height="2.27" fill="#ff7800"/>
<rect x="284.86" y="276.34" width="1.24" height="2.27" fill="#0000ff"/>
<rect x="284.86" y="483.14" width="1.24" height="2.27" fill="#ff7800"/>
<rect x="284.86" y="274.31" width="1.24" height="2.27" fill="#2846b4"/>
<rect x="284.86" y="481.11" width="1.24" height="2.27" fill="#ff7800"/>
<rect x="284.86" y="272.29" width="1.24" height="2.27" fill="#2846b4"/>
<rect x="284.86" y="479.09" width="1.24" height="2.27" fill="#78d228"/>
<rect x="284.86" y="270.27" width="1.24" height="2.27" fill="#2846b4"/>
<rect x="284.86" y="477.07" width="1.24" height="2.27" fill="#ffb400"/>
<rect x="284.86" y="268.25" width="1.24" height="2.27" fill="#2846b4"/>
<rect x="284.86" y="475.05" width="1.24" height="2.27" fill="#ff7800"/>
<rect x="284.86" y="266.23" width="1.24" height="2.27" fill="#2846b4"/>
<rect x="284.86" y="473.03" width="1.24" height="2.27" fill="#78d228"/>
<rect x="285.70" y="274.31" width="1.24" height="2.27" fill="#2846b4"/>
<rect x="285.70" y="481.11" width="1.24" height="2.27" fill="#ffb400"/>
<rect x="285.70" y="272.29" width="1.24" height="2.27" fill="#2846b4"/>
<rect x="285.70" y="479.09" width="1.24" height="2.27" fill="#ffb400"/>
<rect x="285.70" y="270.27" width="1.24" height="2.27" fill="#468c6e"/>
<rect x="285.70" y="477.07" width="1.24" height="2.27" fill="#78d228"/>
<rect x="285.70" y="268.25" width="1.24" height="2.27" fill="#468c6e"/>
<rect x="285.70" y="475.05" width="1.24" height="2.27" fill="#c8c8be"/>
<rect x="285.70" y="266.23" width="1.24" height="2.27" fill="#468c6e"/>
<rect x="285.70" y="473.03" width="1.24" height="2.27" fill="#78d228"/>
<rect x="286.54" y="272.29" width="1.24" height="2.27" fill="#2846b4"/>
<rect x="286.54" y="479.09" width="1.24" height="2.27" fill="#c8c8be"/>
<rect x="286.54" y="270.27" width="1.24" height="2.27" fill="#0000ff"/>
<rect x="286.54" y="477.07" width="1.24" height="2.27" fill="#ffb400"/>
<rect x="286.54" y="268.25" width="1.24" height="2.27" fill="#0000ff"/>
<rect x="286.54" y="475.05" width="1.24" height="2.27" fill="#78d228"/>
<rect x="286.54" y="266.23" width="1.24" height="2.27" fill="#2846b4"/>
<rect x="286.54" y="473.03" width="1.24" height="2.27" fill="#c8c8be"/>
<rect x="286.54" y="264.20" width="1.24" height="2.27" fill="#0000ff"/>
<rect x="286.54" y="471.00" width="1.24" height="2.27" fill="#78d228"/>
<rect x="287.38" y="272.29" width="1.24" height="2.27" fill="#0000ff"/>
<rect x="287.38" y="479.09" width="1.24" height="2.27" fill="#ff7800"/>
<rect x="287.38" y="270.27" width="1.24" height="2.27" fill="#2846b4"/>
<rect x="287.38" y="477.07" width="1.24" height="2.27" fill="#ffb400"/>
<rect x="287.38" y="268.25" width="1.24" height="2.27" fill="#2846b4"/>
<rect x="287.38" y="475.05" width="1.24" height="2.27" fill="#78d228"/>
<rect x="287.38" y="266.23" width="1.24" height="2.27" fill="#2846b4"/>
<rect x="287.38" y="473.03" width="1.24" height="2.27" fill="#c8c8be"/>
<rect x="288.22" y="278.36" width="1.24" height="2.27" fill="#2846b4"/>
<rect x="288.22" y="485.16" width="1.24" height="2.27" fill="#ffb400"/>
<rect x="288.22" y="276.34" width="1.24" height="2.27" fill="#0000ff"/>
<rect x="288.22" y="483.14" width="1.24" height="2.27" fill="#ffb400"/>
<rect x="288.22" y="274.31" width="1.24" height="2.27" fill="#2846b4"/>
<rect x="288.22" y="481.11" width="1.24" height="2.27" fill="#ffb400"/>
<rect x="288.22" y="272.29" width="1.24" height="2.27" fill="#2846b4"/>
<rect x="288.22" y="479.09" width="1.24" height="2.27" fill="#c8c8be"/>
<rect x="288.22" y="270.27" width="1.24" height="2.27" fill="#2846b4"/>
<rect x="288.22" y="477.07" width="1.24" height="2.27" fill="#ffb400"/>
<rect x="288.22" y="266.23" width="1.24" height="2.27" fill="#0000ff"/>
<rect x="288.22" y="473.03" width="1.24" height="2.27" fill="#c8c8be"/>
<rect x="289.06" y="276.34" width="1.24" height="2.27" fill="#0000ff"/>
<rect x="289.06" y="483.14" width="1.24" height="2.27" fill="#ffb400"/>
<rect x="289.06" y="274.31" width="1.24" height="2.27" fill="#468c6e"/>
<rect x="289.06" y="481.11" width="1.24" height="2.27" fill="#78d228"/>
<rect x="289.06" y="272.29" width="1.24" height="2.27" fill="#2846b4"/>
<rect x="289.06" y="479.09" width="1.24" height="2.27" fill="#78d228"/>
<rect x="289.06" y="270.27" width="1.24" height="2.27" fill="#2846b4"/>
<rect x="289.06" y="477.07" width="1.24" height="2.27" fill="#ff7800"/>
<rect x="289.06" y="268.25" width="1.24" height="2.27" fill="#2846b4"/>
<rect x="289.06" y="475.05" width="1.24" height="2.27" fill="#ffb400"/>
<rect x="289.90" y="274.31" width="1.24" height="2.27" fill="#2846b4"/>
<rect x="289.90" y="481.11" width="1.24" height="2.27" fill="#ffb400"/>
<rect x="289.90" y="272.29" width="1.24" height="2.27" fill="#468c6e"/>
<rect x="289.90" y="479.09" width="1.24" height="2.27" fill="#78d228"/>
<rect x="289.90" y="270.27" width="1.24" height="2.27" fill="#2846b4"/>
<rect x="289.90" y="477.07" width="1.24" height="2.27" fill="#78d228"/>
<rect x="289.90" y="268.25" width="1.24" height="2.27" fill="#2846b4"/>
<rect x="289.90" y="475.05" width="1.24" height="2.27" fill="#ffb400"/>
<rect x="289.90" y="266.23" width="1.24" height="2.27" fill="#2846b4"/>
<rect x="289.90" y="473.03" width="1.24" height="2.27" fill="#ff7800"/>
<rect x="289.90" y="264.20" width="1.24" height="2.27" fill="#2846b4"/>
<rect x="289.90" y="471.00" width="1.24" height="2.27" fill="#78d228"/>
<rect x="289.90" y="260.16" width="1.24" height="2.27" fill="#0000ff"/>
<rect x="289.90" y="466.96" width="1.24" height="2.27" fill="#c8c8be"/>
<rect x="290.74" y="276.34" width="1.24" height="2.27" fill="#0000ff"/>
<rect x="290.74" y="483.14" width="1.24" height="2.27" fill="#c8c8be"/>
<rect x="290.74" y="274.31" width="1.24" height="2.27" fill="#0000ff"/>
<rect x="290.74" y="481.11" width="1.24" height="2.27" fill="#ffb400"/>
<rect x="290.74" y="272.29" width="1.24" height="2.27" fill="#2846b4"/>
<rect x="290.74" y="479.09" width="1.24" height="2.27" fill="#c8c8be"/>
<rect x="290.74" y="270.27" width="1.24" height="2.27" fill="#2846b4"/>
<rect x="290.74" y="477.07" width="1.24" height="2.27" fill="#ff7800"/>
<rect x="290.74" y="268.25" width="1.24" height="2.27" fill="#0000ff"/>
<rect x="290.74" y="475.05" width="1.24" height="2.27" fill="#78d228"/>
<rect x="290.74" y="266.23" width="1.24" height="2.27" fill="#468c6e"/>
<rect x="290.74" y="473.03" width="1.24" height="2.27" fill="#78d228"/>
<rect x="290.74" y="262.18" width="1.24" height="2.27" fill="#0000ff"/>
<rect x="290.74" y="468.98" width="1.24" height="2.27" fill="#78d228"/>
<rect x="291.58" y="278.36" width="1.24" height="2.27" fill="#468c6e"/>
<rect x="291.58" y="485.16" width="1.24" height="2.27" fill="#ffb400"/>
<rect x="291.58" y="276.34" width="1.24" height="2.27" fill="#2846b4"/>
<rect x="291.58" y="483.14" width="1.24" height="2.27" fill="#78d228"/>
<rect x="291.58" y="274.31" width="1.24" height="2.27" fill="#0000ff"/>
<rect x="291.58" y="481.11" width="1.24" height="2.27" fill="#c8c8be"/>
<rect x="291.58" y="272.29" width="1.24" height="2.27" fill="#2846b4"/>
<rect x="291.58" y="479.09" width="1.24" height="2.27" fill="#78d228"/>
<rect x="291.58" y="270.27" width="1.24" height="2.27" fill="#2846b4"/>
<rect x="291.58" y="477.07" width="1.24" height="2.27" fill="#c8c8be"/>
<rect x="291.58" y="268.25" width="1.24" height="2.27" fill="#468c6e"/>
<rect x="291.58" y="475.05" width="1.24" height="2.27" fill="#78d228"/>
<rect x="291.58" y="266.23" width="1.24" height="2.27" fill="#0000ff"/>
<rect x="291.58" y="473.03" width="1.24" height="2.27" fill="#78d228"/>
<rect x="291.58" y="264.20" width="1.24" height="2.27" fill="#0000ff"/>
<rect x="291.58" y="471.00" width="1.24" height="2.27" fill="#78d228"/>
<rect x="292.42" y="276.34" width="1.24" height="2.27" fill="#468c6e"/>
<rect x="292.42" y="483.14" width="1.24" height="2.27" fill="#c8c8be"/>
<rect x="292.42" y="274.31" width="1.24" height="2.27" fill="#2846b4"/>
<rect x="292.42" y="481.11" width="1.24" height="2.27" fill="#78d228"/>
<rect x="292.42" y="272.29" width="1.24" height="2.27" fill="#2846b4"/>
<rect x="292.42" y="479.09" width="1.24" height="2.27" fill="#ff7800"/>
<rect x="292.42" y="270.27" width="1.24" height="2.27" fill="#0000ff"/>
<rect x="292.42" y="477.07" width="1.24" height="2.27" fill="#78d228"/>
<rect x="292.42" y="268.25" width="1.24" height="2.27" fill="#468c6e"/>
<rect x="292.42" y="475.05" width="1.24" height="2.27" fill="#c8c8be"/>
<rect x="293.26" y="276.34" width="1.24" height="2.27" fill="#2846b4"/>
<rect x="293.26" y="483.14" width="1.24" height="2.27" fill="#78d228"/>
<rect x="293.26" y="274.31" width="1.24" height="2.27" fill="#2846b4"/>
<rect x="293.26" y="481.11" width="1.24" height="2.27" fill="#78d228"/>
<rect x="293.26" y="272.29" width="1.24" height="2.27" fill="#2846b4"/>
<rect x="293.26" y="479.09" width="1.24" height="2.27" fill="#c8c8be"/>
<rect x="293.26" y="270.27" width="1.24" height="2.27" fill="#2846b4"/>
<rect x="293.26" y="477.07" width="1.24" height="2.27" fill="#ffb400"/>
<rect x="293.26" y="268.25" width="1.24" height="2.27" fill="#2846b4"/>
<rect x="293.26" y="475.05" width="1.24" height="2.27" fill="#468c6e"/>
<rect x="294.10" y="274.31" width="1.24" height="2.27" fill="#2846b4"/>
<rect x="294.10" y="481.11" width="1.24" height="2.27" fill="#78d228"/>
<rect x="294.10" y="272.29" width="1.24" height="2.27" fill="#2846b4"/>
<rect x="294.10" y="479.09" width="1.24" height="2.27" fill="#ffb400"/>
<rect x="294.10" y="270.27" width="1.24" height="2.27" fill="#0000ff"/>
<rect x="294.10" y="477.07" width="1.24" height="2.27" fill="#ff7800"/>
<rect x="294.10" y="268.25" width="1.24" height="2.27" fill="#2846b4"/>
<rect x="294.10" y="475.05" width="1.24" height="2.27" fill="#c8c8be"/>
<rect x="294.10" y="264.20" width="1.24" height="2.27" fill="#2846b4"/>
<rect x="294.10" y="471.00" width="1.24" height="2.27" fill="#78d228"/>
<rect x="294.94" y="276.34" width="1.24" height="2.27" fill="#2846b4"/>
<rect x="294.94" y="483.14" width="1.24" height="2.27" fill="#ffb400"/>
<rect x="294.94" y="274.31" width="1.24" height="2.27" fill="#2846b4"/>
<rect x="294.94" y="481.11" width="1.24" height="2.27" fill="#ffb400"/>
<rect x="294.94" y="272.29" width="1.24" height="2.27" fill="#468c6e"/>
<rect x="294.94" y="479.09" width="1.24" height="2.27" fill="#ffb400"/>
<rect x="294.94" y="270.27" width="1.24" height="2.27" fill="#2846b4"/>
<rect x="294.94" y="477.07" width="1.24" height="2.27" fill="#ffb400"/>
<rect x="294.94" y="268.25" width="1.24" height="2.27" fill="#2846b4"/>
<rect x="294.94" y="475.05" width="1.24" height="2.27" fill="#ff7800"/>
<rect x="294.94" y="266.23" width="1.24" height="2.27" fill="#2846b4"/>
<rect x="294.94" y="473.03" width="1.24" height="2.27" fill="#c8c8be"/>
<rect x="294.94" y="264.20" width="1.24" height="2.27" fill="#2846b4"/>
<rect x="294.94" y="471.00" width="1.24" height="2.27" fill="#78d228"/>
<rect x="294.94" y="260.16" width="1.24" height="2.27" fill="#0000ff"/>
<rect x="294.94" y="466.96" width="1.24" height="2.27" fill="#78d228"/>
<rect x="295.78" y="276.34" width="1.24" height="2.27" fill="#0000ff"/>
<rect x="295.78" y="483.14" width="1.24" height="2.27" fill="#ff7800"/>
<rect x="295.78" y="274.31" width="1.24" height="2.27" fill="#2846b4"/>
<rect x="295.78" y="481.11" width="1.24" height="2.27" fill="#78d228"/>
<rect x="295.78" y="272.29" width="1.24" height="2.27" fill="#0000ff"/>
<rect x="295.78" y="479.09" width="1.24" height="2.27" fill="#c8c8be"/>
<rect x="295.78" y="270.27" width="1.24" height="2.27" fill="#2846b4"/>
<rect x="295.78" y="477.07" width="1.24" height="2.27" fill="#c8c8be"/>
<rect x="295.78" y="268.25" width="1.24" height="2.27" fill="#0000ff"/>
<rect x="295.78" y="475.05" width="1.24" height="2.27" fill="#ff7800"/>
<rect x="295.78" y="266.23" width="1.24" height="2.27" fill="#2846b4"/>
<rect x="295.78" y="473.03" width="1.24" height="2.27" fill="#c8c8be"/>
<rect x="296.62" y="274.31" width="1.24" height="2.27" fill="#0000ff"/>
<rect x="296.62" y="481.11" width="1.24" height="2.27" fill="#ff7800"/>
<rect x="296.62" y="272.29" width="1.24" height="2.27" fill="#0000ff"/>
<rect x="296.62" y="479.09" width="1.24" height="2.27" fill="#78d228"/>
<rect x="296.62" y="270.27" width="1.24" height="2.27" fill="#2846b4"/>
<rect x="296.62" y="477.07" width="1.24" height="2.27" fill="#78d228"/>
<rect x="296.62" y="268.25" width="1.24" height="2.27" fill="#2846b4"/>
<rect x="296.62" y="475.05" width="1.24" height="2.27" fill="#78d228"/>
<rect x="296.62" y="266.23" width="1.24" height="2.27" fill="#0000ff"/>
<rect x="296.62" y="473.03" width="1.24" height="2.27" fill="#78d228"/>
<rect x="296.62" y="264.20" width="1.24" height="2.27" fill="#468c6e"/>
<rect x="296.62" y="471.00" width="1.24" height="2.27" fill="#78d228"/>
<rect x="297.46" y="274.31" width="1.24" height="2.27" fill="#468c6e"/>
<rect x="297.46" y="481.11" width="1.24" height="2.27" fill="#c8c8be"/>
<rect x="297.46" y="272.29" width="1.24" height="2.27" fill="#0000ff"/>
<rect x="297.46" y="479.09" width="1.24" height="2.27" fill="#78d228"/>
<rect x="297.46" y="270.27" width="1.24" height="2.27" fill="#2846b4"/>
<rect x="297.46" y="477.07" width="1.24" height="2.27" fill="#78d228"/>
<rect x="297.46" y="268.25" width="1.24" height="2.27" fill="#468c6e"/>
<rect x="297.46" y="475.05" width="1.24" height="2.27" fill="#ffb400"/>
<rect x="298.30" y="276.34" width="1.24" height="2.27" fill="#2846b4"/>
<rect x="298.30" y="483.14" width="1.24" height="2.27" fill="#ff7800"/>
<rect x="298.30" y="274.31" width="1.24" height="2.27" fill="#2846b4"/>
<rect x="298.30" y="481.11" width="1.24" height="2.27" fill="#ff7800"/>
<rect x="298.30" y="272.29" width="1.24" height="2.27" fill="#2846b4"/>
<rect x="298.30" y="479.09" width="1.24" height="2.27" fill="#c8c8be"/>
<rect x="298.30" y="270.27" width="1.24" height="2.27" fill="#2846b4"/>
<rect x="298.30" y="477.07" width="1.24" height="2.27" fill="#ffb400"/>
<rect x="298.30" y="268.25" width="1.24" height="2.27" fill="#2846b4"/>
<rect x="298.30" y="475.05" width="1.24" height="2.27" fill="#ffb400"/>
<rect x="298.30" y="266.23" width="1.24" height="2.27" fill="#2846b4"/>
<rect x="298.30" y="473.03" width="1.24" height="2.27" fill="#78d228"/>
<rect x="298.30" y="264.20" width="1.24" height="2.27" fill="#2846b4"/>
<rect x="298.30" y="471.00" width="1.24" height="2.27" fill="#ff7800"/>
<rect x="299.14" y="276.34" width="1.24" height="2.27" fill="#468c6e"/>
<rect x="299.14" y="483.14" width="1.24" height="2.27" fill="#c8c8be"/>
<rect x="299.14" y="274.31" width="1.24" height="2.27" fill="#2846b4"/>
<rect x="299.14" y="481.11" width="1.24" height="2.27" fill="#ff7800"/>
<rect x="299.14" y="272.29" width="1.24" height="2.27" fill="#0000ff"/>
<rect x="299.14" y="479.09" width="1.24" height="2.27" fill="#78d228"/>
<rect x="299.14" y="270.27" width="1.24" height="2.27" fill="#0000ff"/>
<rect x="299.14" y="477.07" width="1.24" height="2.27" fill="#78d228"/>
<rect x="299.14" y="268.25" width="1.24" height="2.27" fill="#2846b4"/>
<rect x="299.14" y="475.05" width="1.24" height="2.27" fill="#c8c8be"/>
<rect x="299.14" y="266.23" width="1.24" height="2.27" fill="#468c6e"/>
<rect x="299.14" y="473.03" width="1.24" height="2.27" fill="#78d228"/>
<rect x="299.98" y="274.31" width="1.24" height="2.27" fill="#0000ff"/>
<rect x="299.98" y="481.11" width="1.24" height="2.27" fill="#ff7800"/>
<rect x="299.98" y="272.29" width="1.24" height="2.27" fill="#0000ff"/>
<rect x="299.98" y="479.09" width="1.24" height="2.27" fill="#78d228"/>
<rect x="299.98" y="270.27" width="1.24" height="2.27" fill="#468c6e"/>
<rect x="299.98" y="477.07" width="1.24" height="2.27" fill="#78d228"/>
<rect x="299.98" y="268.25" width="1.24" height="2.27" fill="#468c6e"/>
<rect x="299.98" y="475.05" width="1.24" height="2.27" fill="#ffb400"/>
<rect x="299.98" y="266.23" width="1.24" height="2.27" fill="#0000ff"/>
<rect x="299.98" y="473.03" width="1.24" height="2.27" fill="#ffb400"/>
<rect x="299.98" y="264.20" width="1.24" height="2.27" fill="#0000ff"/>
<rect x="299.98" y="471.00" width="1.24" height="2.27" fill="#78d228"/>
<rect x="300.82" y="274.31" width="1.24" height="2.27" fill="#468c6e"/>
<rect x="300.82" y="481.11" width="1.24" height="2.27" fill="#ff7800"/>
<rect x="300.82" y="272.29" width="1.24" height="2.27" fill="#2846b4"/>
<rect x="300.82" y="479.09" width="1.24" height="2.27" fill="#ff7800"/>
<rect x="300.82" y="270.27" width="1.24" height="2.27" fill="#2846b4"/>
<rect x="300.82" y="477.07" width="1.24" height="2.27" fill="#ffb400"/>
<rect x="300.82" y="268.25" width="1.24" height="2.27" fill="#2846b4"/>
<rect x="300.82" y="475.05" width="1.24" height="2.27" fill="#78d228"/>
<rect x="300.82" y="266.23" width="1.24" height="2.27" fill="#2846b4"/>
<rect x="300.82" y="473.03" width="1.24" height="2.27" fill="#78d228"/>
<rect x="300.82" y="264.20" width="1.24" height="2.27" fill="#0000ff"/>
<rect x="300.82" y="471.00" width="1.24" height="2.27" fill="#ffb400"/>
<rect x="301.66" y="276.34" width="1.24" height="2.27" fill="#0000ff"/>
<rect x="301.66" y="483.14" width="1.24" height="2.27" fill="#78d228"/>
<rect x="301.66" y="274.31" width="1.24" height="2.27" fill="#0000ff"/>
<rect x="301.66" y="481.11" width="1.24" height="2.27" fill="#ffb400"/>
<rect x="301.66" y="270.27" width="1.24" height="2.27" fill="#2846b4"/>
<rect x="301.66" y="477.07" width="1.24" height="2.27" fill="#78d228"/>
<rect x="301.66" y="268.25" width="1.24" height="2.27" fill="#0000ff"/>
<rect x="301.66" y="475.05" width="1.24" height="2.27" fill="#78d228"/>
<rect x="301.66" y="266.23" width="1.24" height="2.27" fill="#0000ff"/>
<rect x="301.66" y="473.03" width="1.24" height="2.27" fill="#ffb400"/>
<rect x="302.50" y="272.29" width="1.24" height="2.27" fill="#0000ff"/>
<rect x="302.50" y="479.09" width="1.24" height="2.27" fill="#ff7800"/>
<rect x="302.50" y="270.27" width="1.24" height="2.27" fill="#2846b4"/>
<rect x="302.50" y="477.07" width="1.24" height="2.27" fill="#78d228"/>
<rect x="302.50" y="268.25" width="1.24" height="2.27" fill="#2846b4"/>
<rect x="302.50" y="475.05" width="1.24" height="2.27" fill="#78d228"/>
<rect x="302.50" y="266.23" width="1.24" height="2.27" fill="#2846b4"/>
<rect x="302.50" y="473.03" width="1.24" height="2.27" fill="#78d228"/>
<rect x="303.34" y="276.34" width="1.24" height="2.27" fill="#2846b4"/>
<rect x="303.34" y="483.14" width="1.24" height="2.27" fill="#c8c8be"/>
<rect x="303.34" y="274.31" width="1.24" height="2.27" fill="#2846b4"/>
<rect x="303.34" y="481.11" width="1.24" height="2.27" fill="#78d228"/>
<rect x="303.34" y="272.29" width="1.24" height="2.27" fill="#468c6e"/>
<rect x="303.34" y="479.09" width="1.24" height="2.27" fill="#ffb400"/>
<rect x="303.34" y="270.27" width="1.24" height="2.27" fill="#2846b4"/>
<rect x="303.34" y="477.07" width="1.24" height="2.27" fill="#c8c8be"/>
<rect x="303.34" y="268.25" width="1.24" height="2.27" fill="#0000ff"/>
<rect x="303.34" y="475.05" width="1.24" height="2.27" fill="#ffb400"/>
<rect x="304.18" y="276.34" width="1.24" height="2.27" fill="#2846b4"/>
<rect x="304.18" y="483.14" width="1.24" height="2.27" fill="#ff7800"/>
<rect x="304.18" y="274.31" width="1.24" height="2.27" fill="#0000ff"/>
<rect x="304.18" y="481.11" width="1.24" height="2.27" fill="#78d228"/>
<rect x="304.18" y="272.29" width="1.24" height="2.27" fill="#468c6e"/>
<rect x="304.18" y="479.09" width="1.24" height="2.27" fill="#78d228"/>
<rect x="304.18" y="270.27" width="1.24" height="2.27" fill="#0000ff"/>
<rect x="304.18" y="477.07" width="1.24" height="2.27" fill="#ffb400"/>
<rect x="304.18" y="268.25" width="1.24" height="2.27" fill="#2846b4"/>
<rect x="304.18" y="475.05" width="1.24" height="2.27" fill="#ffb400"/>
<rect x="304.18" y="266.23" width="1.24" height="2.27" fill="#2846b4"/>
<rect x="304.18" y="473.03" width="1.24" height="2.27" fill="#c8c8be"/>
<rect x="305.02" y="274.31" width="1.24" height="2.27" fill="#2846b4"/>
<rect x="305.02" y="481.11" width="1.24" height="2.27" fill="#78d228"/>
<rect x="305.02" y="272.29" width="1.24" height="2.27" fill="#2846b4"/>
<rect x="305.02" y="479.09" width="1.24" height="2.27" fill="#ffb400"/>
<rect x="305.02" y="270.27" width="1.24" height="2.27" fill="#2846b4"/>
<rect x="305.02" y="477.07" width="1.24" height="2.27" fill="#78d228"/>
<rect x="305.02" y="268.25" width="1.24" height="2.27" fill="#468c6e"/>
<rect x="305.02" y="475.05" width="1.24" height="2.27" fill="#c8c8be"/>
<rect x="305.02" y="266.23" width="1.24" height="2.27" fill="#0000ff"/>
<rect x="305.02" y="473.03" width="1.24" height="2.27" fill="#c8c8be"/>
<rect x="305.86" y="272.29" width="1.24" height="2.27" fill="#0000ff"/>
<rect x="305.86" y="479.09" width="1.24" height="2.27" fill="#ffb400"/>
<rect x="306.70" y="268.25" width="1.24" height="2.27" fill="#2846b4"/>
<rect x="306.70" y="475.05" width="1.24" height="2.27" fill="#c8c8be"/>
<rect x="307.54" y="274.31" width="1.24" height="2.27" fill="#468c6e"/>
<rect x="307.54" y="481.11" width="1.24" height="2.27" fill="#c8c8be"/>
<rect x="307.54" y="272.29" width="1.24" height="2.27" fill="#2846b4"/>
<rect x="307.54" y="479.09" width="1.24" height="2.27" fill="#78d228"/>
<rect x="307.54" y="270.27" width="1.24" height="2.27" fill="#468c6e"/>
<rect x="307.54" y="477.07" width="1.24" height="2.27" fill="#c8c8be"/>
<rect x="308.38" y="270.27" width="1.24" height="2.27" fill="#2846b4"/>
<rect x="308.38" y="477.07" width="1.24" height="2.27" fill="#ff7800"/>
<rect x="308.38" y="268.25" width="1.24" height="2.27" fill="#2846b4"/>
<rect x="308.38" y="475.05" width="1.24" height="2.27" fill="#ffb400"/>
<rect x="309.22" y="272.29" width="1.24" height="2.27" fill="#2846b4"/>
<rect x="309.22" y="479.09" width="1.24" height="2.27" fill="#78d228"/>
<rect x="309.22" y="270.27" width="1.24" height="2.27" fill="#2846b4"/>
<rect x="309.22" y="477.07" width="1.24" height="2.27" fill="#ffb400"/>
<rect x="309.22" y="268.25" width="1.24" height="2.27" fill="#2846b4"/>
<rect x="309.22" y="475.05" width="1.24" height="2.27" fill="#c8c8be"/>
<rect x="310.06" y="270.27" width="1.24" height="2.27" fill="#2846b4"/>
<rect x="310.06" y="477.07" width="1.24" height="2.27" fill="#ffb400"/>
<rect x="310.06" y="278.36" width="1.24" height="2.27" fill="#2846b4"/>
<rect x="310.06" y="485.16" width="1.24" height="2.27" fill="#ff7800"/>
<rect x="310.06" y="276.34" width="1.24" height="2.27" fill="#468c6e"/>
<rect x="310.06" y="483.14" width="1.24" height="2.27" fill="#ff7800"/>
<rect x="310.06" y="274.31" width="1.24" height="2.27" fill="#468c6e"/>
<rect x="310.06" y="481.11" width="1.24" height="2.27" fill="#78d228"/>
<rect x="310.06" y="272.29" width="1.24" height="2.27" fill="#468c6e"/>
<rect x="310.06" y="479.09" width="1.24" height="2.27" fill="#ff7800"/>
<rect x="310.06" y="266.23" width="1.24" height="2.27" fill="#468c6e"/>
<rect x="310.06" y="473.03" width="1.24" height="2.27" fill="#ff7800"/>
<rect x="310.90" y="276.34" width="1.24" height="2.27" fill="#0000ff"/>
<rect x="310.90" y="483.14" width="1.24" height="2.27" fill="#ffb400"/>
<rect x="310.90" y="274.31" width="1.24" height="2.27" fill="#2846b4"/>
<rect x="310.90" y="481.11" width="1.24" height="2.27" fill="#ffb400"/>
<rect x="310.90" y="272.29" width="1.24" height="2.27" fill="#2846b4"/>
<rect x="310.90" y="479.09" width="1.24" height="2.27" fill="#ff7800"/>
<rect x="310.90" y="270.27" width="1.24" height="2.27" fill="#468c6e"/>
<rect x="310.90" y="477.07" width="1.24" height="2.27" fill="#ffb400"/>
<rect x="310.90" y="268.25" width="1.24" height="2.27" fill="#2846b4"/>
<rect x="310.90" y="475.05" width="1.24" height="2.27" fill="#ff7800"/>
<rect x="310.90" y="266.23" width="1.24" height="2.27" fill="#78d228"/>
<rect x="310.90" y="473.03" width="1.24" height="2.27" fill="#ffb400"/>
<rect x="310.90" y="264.20" width="1.24" height="2.27" fill="#468c6e"/>
<rect x="310.90" y="471.00" width="1.24" height="2.27" fill="#ff7800"/>
<rect x="311.74" y="276.34" width="1.24" height="2.27" fill="#2846b4"/>
<rect x="311.74" y="483.14" width="1.24" height="2.27" fill="#ff7800"/>
<rect x="311.74" y="274.31" width="1.24" height="2.27" fill="#2846b4"/>
<rect x="311.74" y="481.11" width="1.24" height="2.27" fill="#ffb400"/>
<rect x="311.74" y="272.29" width="1.24" height="2.27" fill="#468c6e"/>
<rect x="311.74" y="479.09" width="1.24" height="2.27" fill="#ffb400"/>
<rect x="311.74" y="270.27" width="1.24" height="2.27" fill="#0000ff"/>
<rect x="311.74" y="477.07" width="1.24" height="2.27" fill="#c8c8be"/>
<rect x="311.74" y="268.25" width="1.24" height="2.27" fill="#468c6e"/>
<rect x="311.74" y="475.05" width="1.24" height="2.27" fill="#ff7800"/>
<rect x="311.74" y="266.23" width="1.24" height="2.27" fill="#2846b4"/>
<rect x="311.74" y="473.03" width="1.24" height="2.27" fill="#ffb400"/>
<rect x="311.74" y="264.20" width="1.24" height="2.27" fill="#2846b4"/>
<rect x="311.74" y="471.00" width="1.24" height="2.27" fill="#ff7800"/>
<rect x="311.74" y="262.18" width="1.24" height="2.27" fill="#2846b4"/>
<rect x="311.74" y="468.98" width="1.24" height="2.27" fill="#ffb400"/>
<rect x="312.58" y="274.31" width="1.24" height="2.27" fill="#0000ff"/>
<rect x="312.58" y="481.11" width="1.24" height="2.27" fill="#ff7800"/>
<rect x="312.58" y="272.29" width="1.24" height="2.27" fill="#2846b4"/>
<rect x="312.58" y="479.09" width="1.24" height="2.27" fill="#ff7800"/>
<rect x="312.58" y="268.25" width="1.24" height="2.27" fill="#468c6e"/>
<rect x="312.58" y="475.05" width="1.24" height="2.27" fill="#ffb400"/>
<rect x="313.42" y="274.31" width="1.24" height="2.27" fill="#468c6e"/>
<rect x="313.42" y="481.11" width="1.24" height="2.27" fill="#ff7800"/>
<rect x="313.42" y="272.29" width="1.24" height="2.27" fill="#2846b4"/>
<rect x="313.42" y="479.09" width="1.24" height="2.27" fill="#78d228"/>
<rect x="313.42" y="270.27" width="1.24" height="2.27" fill="#468c6e"/>
<rect x="313.42" y="477.07" width="1.24" height="2.27" fill="#78d228"/>
<rect x="313.42" y="268.25" width="1.24" height="2.27" fill="#468c6e"/>
<rect x="313.42" y="475.05" width="1.24" height="2.27" fill="#c8c8be"/>
<rect x="313.42" y="266.23" width="1.24" height="2.27" fill="#2846b4"/>
<rect x="313.42" y="473.03" width="1.24" height="2.27" fill="#78d228"/>
<rect x="314.26" y="278.36" width="1.24" height="2.27" fill="#0000ff"/>
<rect x="314.26" y="485.16" width="1.24" height="2.27" fill="#ff7800"/>
<rect x="314.26" y="276.34" width="1.24" height="2.27" fill="#468c6e"/>
<rect x="314.26" y="483.14" width="1.24" height="2.27" fill="#ffb400"/>
<rect x="314.26" y="274.31" width="1.24" height="2.27" fill="#2846b4"/>
<rect x="314.26" y="481.11" width="1.24" height="2.27" fill="#78d228"/>
<rect x="314.26" y="272.29" width="1.24" height="2.27" fill="#78d228"/>
<rect x="314.26" y="479.09" width="1.24" height="2.27" fill="#ff7800"/>
<rect x="314.26" y="270.27" width="1.24" height="2.27" fill="#468c6e"/>
<rect x="314.26" y="477.07" width="1.24" height="2.27" fill="#ff7800"/>
<rect x="314.26" y="268.25" width="1.24" height="2.27" fill="#0000ff"/>
<rect x="314.26" y="475.05" width="1.24" height="2.27" fill="#ffb400"/>
<rect x="314.26" y="266.23" width="1.24" height="2.27" fill="#468c6e"/>
<rect x="314.26" y="473.03" width="1.24" height="2.27" fill="#ffb400"/>
<rect x="314.26" y="264.20" width="1.24" height="2.27" fill="#0000ff"/>
<rect x="314.26" y="471.00" width="1.24" height="2.27" fill="#ffb400"/>
<rect x="315.10" y="278.36" width="1.24" height="2.27" fill="#2846b4"/>
<rect x="315.10" y="485.16" width="1.24" height="2.27" fill="#ff7800"/>
<rect x="315.10" y="274.31" width="1.24" height="2.27" fill="#468c6e"/>
<rect x="315.10" y="481.11" width="1.24" height="2.27" fill="#ffb400"/>
<rect x="315.10" y="272.29" width="1.24" height="2.27" fill="#468c6e"/>
<rect x="315.10" y="479.09" width="1.24" height="2.27" fill="#ffb400"/>
<rect x="315.10" y="270.27" width="1.24" height="2.27" fill="#468c6e"/>
<rect x="315.10" y="477.07" width="1.24" height="2.27" fill="#ffb400"/>
<rect x="315.10" y="268.25" width="1.24" height="2.27" fill="#468c6e"/>
<rect x="315.10" y="475.05" width="1.24" height="2.27" fill="#ff7800"/>
<rect x="315.10" y="266.23" width="1.24" height="2.27" fill="#2846b4"/>
<rect x="315.10" y="473.03" width="1.24" height="2.27" fill="#ff7800"/>
<rect x="315.10" y="264.20" width="1.24" height="2.27" fill="#2846b4"/>
<rect x="315.10" y="471.00" width="1.24" height="2.27" fill="#ff7800"/>
<rect x="315.94" y="272.29" width="1.24" height="2.27" fill="#468c6e"/>
<rect x="315.94" y="479.09" width="1.24" height="2.27" fill="#ff7800"/>
<rect x="315.94" y="270.27" width="1.24" height="2.27" fill="#2846b4"/>
<rect x="315.94" y="477.07" width="1.24" height="2.27" fill="#ffb400"/>
<rect x="315.94" y="268.25" width="1.24" height="2.27" fill="#468c6e"/>
<rect x="315.94" y="475.05" width="1.24" height="2.27" fill="#78d228"/>
<rect x="315.94" y="266.23" width="1.24" height="2.27" fill="#2846b4"/>
<rect x="315.94" y="473.03" width="1.24" height="2.27" fill="#78d228"/>
<rect x="316.78" y="278.36" width="1.24" height="2.27" fill="#2846b4"/>
<rect x="316.78" y="485.16" width="1.24" height="2.27" fill="#c8c8be"/>
<rect x="316.78" y="276.34" width="1.24" height="2.27" fill="#2846b4"/>
<rect x="316.78" y="483.14" width="1.24" height="2.27" fill="#ff7800"/>
<rect x="316.78" y="274.31" width="1.24" height="2.27" fill="#78d228"/>
<rect x="316.78" y="481.11" width="1.24" height="2.27" fill="#ffb400"/>
<rect x="316.78" y="272.29" width="1.24" height="2.27" fill="#468c6e"/>
<rect x="316.78" y="479.09" width="1.24" height="2.27" fill="#ff7800"/>
<rect x="316.78" y="270.27" width="1.24" height="2.27" fill="#468c6e"/>
<rect x="316.78" y="477.07" width="1.24" height="2.27" fill="#ff7800"/>
<rect x="316.78" y="268.25" width="1.24" height="2.27" fill="#2846b4"/>
<rect x="316.78" y="475.05" width="1.24" height="2.27" fill="#ff7800"/>
<rect x="316.78" y="266.23" width="1.24" height="2.27" fill="#2846b4"/>
<rect x="316.78" y="473.03" width="1.24" height="2.27" fill="#78d228"/>
<rect x="317.62" y="276.34" width="1.24" height="2.27" fill="#2846b4"/>
<rect x="317.62" y="483.14" width="1.24" height="2.27" fill="#ffb400"/>
<rect x="317.62" y="274.31" width="1.24" height="2.27" fill="#0000ff"/>
<rect x="317.62" y="481.11" width="1.24" height="2.27" fill="#ff7800"/>
<rect x="317.62" y="272.29" width="1.24" height="2.27" fill="#78d228"/>
<rect x="317.62" y="479.09" width="1.24" height="2.27" fill="#ff7800"/>
<rect x="317.62" y="270.27" width="1.24" height="2.27" fill="#2846b4"/>
<rect x="317.62" y="477.07" width="1.24" height="2.27" fill="#ffb400"/>
<rect x="317.62" y="268.25" width="1.24" height="2.27" fill="#78d228"/>
<rect x="317.62" y="475.05" width="1.24" height="2.27" fill="#ffb400"/>
<rect x="317.62" y="264.20" width="1.24" height="2.27" fill="#0000ff"/>
<rect x="317.62" y="471.00" width="1.24" height="2.27" fill="#ff7800"/>
<rect x="318.46" y="276.34" width="1.24" height="2.27" fill="#2846b4"/>
<rect x="318.46" y="483.14" width="1.24" height="2.27" fill="#ff7800"/>
<rect x="318.46" y="272.29" width="1.24" height="2.27" fill="#468c6e"/>
<rect x="318.46" y="479.09" width="1.24" height="2.27" fill="#ff7800"/>
<rect x="318.46" y="270.27" width="1.24" height="2.27" fill="#78d228"/>
<rect x="318.46" y="477.07" width="1.24" height="2.27" fill="#ffb400"/>
<rect x="318.46" y="268.25" width="1.24" height="2.27" fill="#468c6e"/>
<rect x="318.46" y="475.05" width="1.24" height="2.27" fill="#ffb400"/>
<rect x="318.46" y="264.20" width="1.24" height="2.27" fill="#2846b4"/>
<rect x="318.46" y="471.00" width="1.24" height="2.27" fill="#ffb400"/>
<rect x="319.30" y="278.36" width="1.24" height="2.27" fill="#2846b4"/>
<rect x="319.30" y="485.16" width="1.24" height="2.27" fill="#ffb400"/>
<rect x="319.30" y="276.34" width="1.24" height="2.27" fill="#2846b4"/>
<rect x="319.30" y="483.14" width="1.24" height="2.27" fill="#ff7800"/>
<rect x="319.30" y="274.31" width="1.24" height="2.27" fill="#468c6e"/>
<rect x="319.30" y="481.11" width="1.24" height="2.27" fill="#ffb400"/>
<rect x="319.30" y="272.29" width="1.24" height="2.27" fill="#2846b4"/>
<rect x="319.30" y="479.09" width="1.24" height="2.27" fill="#ff7800"/>
<rect x="319.30" y="270.27" width="1.24" height="2.27" fill="#468c6e"/>
<rect x="319.30" y="477.07" width="1.24" height="2.27" fill="#ff7800"/>
<rect x="319.30" y="268.25" width="1.24" height="2.27" fill="#78d228"/>
<rect x="319.30" y="475.05" width="1.24" height="2.27" fill="#78d228"/>
<rect x="319.30" y="266.23" width="1.24" height="2.27" fill="#468c6e"/>
<rect x="319.30" y="473.03" width="1.24" height="2.27" fill="#78d228"/>
<rect x="319.30" y="264.20" width="1.24" height="2.27" fill="#2846b4"/>
<rect x="319.30" y="471.00" width="1.24" height="2.27" fill="#ffb400"/>
<rect x="311.74" y="284.42" width="1.24" height="2.27" fill="#2846b4"/>
<rect x="311.74" y="491.22" width="1.24" height="2.27" fill="#ff7800"/>
<rect x="311.74" y="282.40" width="1.24" height="2.27" fill="#468c6e"/>
<rect x="311.74" y="489.20" width="1.24" height="2.27" fill="#ff7800"/>
<rect x="311.74" y="280.38" width="1.24" height="2.27" fill="#468c6e"/>
<rect x="311.74" y="487.18" width="1.24" height="2.27" fill="#ff7800"/>
<rect x="311.74" y="278.36" width="1.24" height="2.27" fill="#2846b4"/>
<rect x="311.74" y="485.16" width="1.24" height="2.27" fill="#ff7800"/>
<rect x="312.58" y="284.42" width="1.24" height="2.27" fill="#0000ff"/>
<rect x="312.58" y="491.22" width="1.24" height="2.27" fill="#ffb400"/>
<rect x="312.58" y="282.40" width="1.24" height="2.27" fill="#2846b4"/>
<rect x="312.58" y="489.20" width="1.24" height="2.27" fill="#ffb400"/>
<rect x="312.58" y="280.38" width="1.24" height="2.27" fill="#0000ff"/>
<rect x="312.58" y="487.18" width="1.24" height="2.27" fill="#ff7800"/>
<rect x="313.42" y="284.42" width="1.24" height="2.27" fill="#2846b4"/>
<rect x="313.42" y="491.22" width="1.24" height="2.27" fill="#ff7800"/>
<rect x="313.42" y="282.40" width="1.24" height="2.27" fill="#2846b4"/>
<rect x="313.42" y="489.20" width="1.24" height="2.27" fill="#ff7800"/>
<rect x="313.42" y="280.38" width="1.24" height="2.27" fill="#468c6e"/>
<rect x="313.42" y="487.18" width="1.24" height="2.27" fill="#ff7800"/>
<rect x="313.42" y="278.36" width="1.24" height="2.27" fill="#0000ff"/>
<rect x="313.42" y="485.16" width="1.24" height="2.27" fill="#ff7800"/>
<rect x="314.26" y="286.45" width="1.24" height="2.27" fill="#2846b4"/>
<rect x="314.26" y="493.25" width="1.24" height="2.27" fill="#ff7800"/>
<rect x="314.26" y="284.42" width="1.24" height="2.27" fill="#2846b4"/>
<rect x="314.26" y="491.22" width="1.24" height="2.27" fill="#ff7800"/>
<rect x="314.26" y="282.40" width="1.24" height="2.27" fill="#2846b4"/>
<rect x="314.26" y="489.20" width="1.24" height="2.27" fill="#ffb400"/>
<rect x="315.10" y="286.45" width="1.24" height="2.27" fill="#2846b4"/>
<rect x="315.10" y="493.25" width="1.24" height="2.27" fill="#ff7800"/>
<rect x="315.10" y="282.40" width="1.24" height="2.27" fill="#2846b4"/>
<rect x="315.10" y="489.20" width="1.24" height="2.27" fill="#ffb400"/>
<rect x="315.10" y="280.38" width="1.24" height="2.27" fill="#2846b4"/>
<rect x="315.10" y="487.18" width="1.24" height="2.27" fill="#ffb400"/>
<rect x="315.94" y="284.42" width="1.24" height="2.27" fill="#2846b4"/>
<rect x="315.94" y="491.22" width="1.24" height="2.27" fill="#ffb400"/>
<rect x="315.94" y="282.40" width="1.24" height="2.27" fill="#0000ff"/>
<rect x="315.94" y="489.20" width="1.24" height="2.27" fill="#ff7800"/>
<rect x="315.94" y="280.38" width="1.24" height="2.27" fill="#2846b4"/>
<rect x="315.94" y="487.18" width="1.24" height="2.27" fill="#78d228"/>
<rect x="320.14" y="270.27" width="1.24" height="2.27" fill="#2846b4"/>
<rect x="320.14" y="477.07" width="1.24" height="2.27" fill="#ffb400"/>
<rect x="320.98" y="272.29" width="1.24" height="2.27" fill="#0000ff"/>
<rect x="320.98" y="479.09" width="1.24" height="2.27" fill="#c8c8be"/>
<rect x="320.98" y="270.27" width="1.24" height="2.27" fill="#0000ff"/>
<rect x="320.98" y="477.07" width="1.24" height="2.27" fill="#ffb400"/>
<rect x="320.98" y="268.25" width="1.24" height="2.27" fill="#2846b4"/>
<rect x="320.98" y="475.05" width="1.24" height="2.27" fill="#ffb400"/>
<rect x="321.82" y="274.31" width="1.24" height="2.27" fill="#0000ff"/>
<rect x="321.82" y="481.11" width="1.24" height="2.27" fill="#ffb400"/>
<rect x="321.82" y="272.29" width="1.24" height="2.27" fill="#2846b4"/>
<rect x="321.82" y="479.09" width="1.24" height="2.27" fill="#c8c8be"/>
<rect x="321.82" y="270.27" width="1.24" height="2.27" fill="#2846b4"/>
<rect x="321.82" y="477.07" width="1.24" height="2.27" fill="#ffb400"/>
<rect x="321.82" y="268.25" width="1.24" height="2.27" fill="#2846b4"/>
<rect x="321.82" y="475.05" width="1.24" height="2.27" fill="#ffb400"/>
<rect x="321.82" y="266.23" width="1.24" height="2.27" fill="#2846b4"/>
<rect x="321.82" y="473.03" width="1.24" height="2.27" fill="#c8c8be"/>
<rect x="322.66" y="272.29" width="1.24" height="2.27" fill="#468c6e"/>
<rect x="322.66" y="479.09" width="1.24" height="2.27" fill="#ffb400"/>
<rect x="322.66" y="270.27" width="1.24" height="2.27" fill="#468c6e"/>
<rect x="322.66" y="477.07" width="1.24" height="2.27" fill="#c8c8be"/>
<rect x="322.66" y="266.23" width="1.24" height="2.27" fill="#0000ff"/>
<rect x="322.66" y="473.03" width="1.24" height="2.27" fill="#78d228"/>
<rect x="323.50" y="272.29" width="1.24" height="2.27" fill="#2846b4"/>
<rect x="323.50" y="479.09" width="1.24" height="2.27" fill="#c8c8be"/>
<rect x="323.50" y="268.25" width="1.24" height="2.27" fill="#2846b4"/>
<rect x="323.50" y="475.05" width="1.24" height="2.27" fill="#ffb400"/>
<rect x="324.34" y="272.29" width="1.24" height="2.27" fill="#0000ff"/>
<rect x="324.34" y="479.09" width="1.24" height="2.27" fill="#c8c8be"/>
<rect x="324.34" y="268.25" width="1.24" height="2.27" fill="#468c6e"/>
<rect x="324.34" y="475.05" width="1.24" height="2.27" fill="#78d228"/>
<rect x="325.18" y="270.27" width="1.24" height="2.27" fill="#2846b4"/>
<rect x="325.18" y="477.07" width="1.24" height="2.27" fill="#c8c8be"/>
<rect x="325.18" y="268.25" width="1.24" height="2.27" fill="#0000ff"/>
<rect x="325.18" y="475.05" width="1.24" height="2.27" fill="#78d228"/>
<rect x="325.18" y="266.23" width="1.24" height="2.27" fill="#468c6e"/>
<rect x="325.18" y="473.03" width="1.24" height="2.27" fill="#ffb400"/>
<rect x="326.02" y="274.31" width="1.24" height="2.27" fill="#0000ff"/>
<rect x="326.02" y="481.11" width="1.24" height="2.27" fill="#78d228"/>
<rect x="326.02" y="272.29" width="1.24" height="2.27" fill="#468c6e"/>
<rect x="326.02" y="479.09" width="1.24" height="2.27" fill="#c8c8be"/>
<rect x="326.02" y="266.23" width="1.24" height="2.27" fill="#2846b4"/>
<rect x="326.02" y="473.03" width="1.24" height="2.27" fill="#c8c8be"/>
<rect x="326.86" y="272.29" width="1.24" height="2.27" fill="#2846b4"/>
<rect x="326.86" y="479.09" width="1.24" height="2.27" fill="#c8c8be"/>
<rect x="326.86" y="270.27" width="1.24" height="2.27" fill="#0000ff"/>
<rect x="326.86" y="477.07" width="1.24" height="2.27" fill="#78d228"/>
<rect x="326.86" y="266.23" width="1.24" height="2.27" fill="#468c6e"/>
<rect x="326.86" y="473.03" width="1.24" height="2.27" fill="#78d228"/>
<rect x="327.70" y="270.27" width="1.24" height="2.27" fill="#2846b4"/>
<rect x="327.70" y="477.07" width="1.24" height="2.27" fill="#ffb400"/>
<rect x="327.70" y="268.25" width="1.24" height="2.27" fill="#2846b4"/>
<rect x="327.70" y="475.05" width="1.24" height="2.27" fill="#78d228"/>
<rect x="327.70" y="266.23" width="1.24" height="2.27" fill="#468c6e"/>
<rect x="327.70" y="473.03" width="1.24" height="2.27" fill="#ff7800"/>
<rect x="328.54" y="272.29" width="1.24" height="2.27" fill="#2846b4"/>
<rect x="328.54" y="479.09" width="1.24" height="2.27" fill="#c8c8be"/>
<rect x="328.54" y="268.25" width="1.24" height="2.27" fill="#2846b4"/>
<rect x="328.54" y="475.05" width="1.24" height="2.27" fill="#ffb400"/>
<rect x="329.38" y="270.27" width="1.24" height="2.27" fill="#0000ff"/>
<rect x="329.38" y="477.07" width="1.24" height="2.27" fill="#ffb400"/>
<rect x="330.22" y="268.25" width="1.24" height="2.27" fill="#2846b4"/>
<rect x="330.22" y="475.05" width="1.24" height="2.27" fill="#78d228"/>
<rect x="331.06" y="274.31" width="1.24" height="2.27" fill="#468c6e"/>
<rect x="331.06" y="481.11" width="1.24" height="2.27" fill="#78d228"/>
<rect x="331.06" y="270.27" width="1.24" height="2.27" fill="#2846b4"/>
<rect x="331.06" y="477.07" width="1.24" height="2.27" fill="#ffb400"/>
<rect x="331.06" y="268.25" width="1.24" height="2.27" fill="#2846b4"/>
<rect x="331.06" y="475.05" width="1.24" height="2.27" fill="#78d228"/>
<rect x="331.90" y="274.31" width="1.24" height="2.27" fill="#0000ff"/>
<rect x="331.90" y="481.11" width="1.24" height="2.27" fill="#c8c8be"/>
<rect x="331.90" y="272.29" width="1.24" height="2.27" fill="#2846b4"/>
<rect x="331.90" y="479.09" width="1.24" height="2.27" fill="#ff7800"/>
<rect x="331.90" y="270.27" width="1.24" height="2.27" fill="#468c6e"/>
<rect x="331.90" y="477.07" width="1.24" height="2.27" fill="#78d228"/>
<rect x="331.90" y="268.25" width="1.24" height="2.27" fill="#2846b4"/>
<rect x="331.90" y="475.05" width="1.24" height="2.27" fill="#c8c8be"/>
<rect x="332.74" y="270.27" width="1.24" height="2.27" fill="#2846b4"/>
<rect x="332.74" y="477.07" width="1.24" height="2.27" fill="#78d228"/>
<rect x="332.74" y="268.25" width="1.24" height="2.27" fill="#2846b4"/>
<rect x="332.74" y="475.05" width="1.24" height="2.27" fill="#c8c8be"/>
<rect x="333.58" y="274.31" width="1.24" height="2.27" fill="#0000ff"/>
<rect x="333.58" y="481.11" width="1.24" height="2.27" fill="#ffb400"/>
<rect x="333.58" y="268.25" width="1.24" height="2.27" fill="#0000ff"/>
<rect x="333.58" y="475.05" width="1.24" height="2.27" fill="#ffb400"/>
<rect x="333.58" y="266.23" width="1.24" height="2.27" fill="#0000ff"/>
<rect x="333.58" y="473.03" width="1.24" height="2.27" fill="#c8c8be"/>
<rect x="334.42" y="268.25" width="1.24" height="2.27" fill="#2846b4"/>
<rect x="334.42" y="475.05" width="1.24" height="2.27" fill="#ffb400"/>
<rect x="335.26" y="276.34" width="1.24" height="2.27" fill="#0000ff"/>
<rect x="335.26" y="483.14" width="1.24" height="2.27" fill="#78d228"/>
<rect x="335.26" y="268.25" width="1.24" height="2.27" fill="#0000ff"/>
<rect x="335.26" y="475.05" width="1.24" height="2.27" fill="#c8c8be"/>
<rect x="338.62" y="276.34" width="1.24" height="2.27" fill="#2846b4"/>
<rect x="338.62" y="483.14" width="1.24" height="2.27" fill="#ff7800"/>
<rect x="340.30" y="274.31" width="1.24" height="2.27" fill="#0000ff"/>
<rect x="340.30" y="481.11" width="1.24" height="2.27" fill="#ffb400"/>
<rect x="341.98" y="272.29" width="1.24" height="2.27" fill="#2846b4"/>
<rect x="341.98" y="479.09" width="1.24" height="2.27" fill="#ffb400"/>
<rect x="341.98" y="268.25" width="1.24" height="2.27" fill="#0000ff"/>
<rect x="341.98" y="475.05" width="1.24" height="2.27" fill="#ffb400"/>
<rect x="342.82" y="274.31" width="1.24" height="2.27" fill="#2846b4"/>
<rect x="342.82" y="481.11" width="1.24" height="2.27" fill="#c8c8be"/>
<rect x="342.82" y="272.29" width="1.24" height="2.27" fill="#2846b4"/>
<rect x="342.82" y="479.09" width="1.24" height="2.27" fill="#ffb400"/>
<rect x="345.34" y="268.25" width="1.24" height="2.27" fill="#0000ff"/>
<rect x="345.34" y="475.05" width="1.24" height="2.27" fill="#c8c8be"/>
<rect x="346.18" y="276.34" width="1.24" height="2.27" fill="#0000ff"/>
<rect x="346.18" y="483.14" width="1.24" height="2.27" fill="#78d228"/>
<rect x="350.38" y="272.29" width="1.24" height="2.27" fill="#2846b4"/>
<rect x="350.38" y="479.09" width="1.24" height="2.27" fill="#ffb400"/>
<rect x="352.90" y="270.27" width="1.24" height="2.27" fill="#0000ff"/>
<rect x="352.90" y="477.07" width="1.24" height="2.27" fill="#c8c8be"/>
<rect x="357.94" y="272.29" width="1.24" height="2.27" fill="#2846b4"/>
<rect x="357.94" y="479.09" width="1.24" height="2.27" fill="#c8c8be"/>
<rect x="360.46" y="274.31" width="1.24" height="2.27" fill="#2846b4"/>
<rect x="360.46" y="481.11" width="1.24" height="2.27" fill="#ff7800"/>
<rect x="360.46" y="272.29" width="1.24" height="2.27" fill="#2846b4"/>
<rect x="360.46" y="479.09" width="1.24" height="2.27" fill="#ffb400"/>
<rect x="147.10" y="248.03" width="1.24" height="2.27" fill="#0000ff"/>
<rect x="147.10" y="454.83" width="1.24" height="2.27" fill="#ffb400"/>
<rect x="294.10" y="246.01" width="1.24" height="2.27" fill="#2846b4"/>
<rect x="294.10" y="452.81" width="1.24" height="2.27" fill="#78d228"/>
<rect x="294.94" y="248.03" width="1.24" height="2.27" fill="#2846b4"/>
<rect x="294.94" y="454.83" width="1.24" height="2.27" fill="#78d228"/>
<rect x="277.30" y="256.12" width="1.24" height="2.27" fill="#2846b4"/>
<rect x="277.30" y="462.92" width="1.24" height="2.27" fill="#78d228"/>
<rect x="301.66" y="256.12" width="1.24" height="2.27" fill="#2846b4"/>
<rect x="301.66" y="462.92" width="1.24" height="2.27" fill="#78d228"/>
<rect x="303.34" y="256.12" width="1.24" height="2.27" fill="#2846b4"/>
<rect x="303.34" y="462.92" width="1.24" height="2.27" fill="#78d228"/>
<rect x="213.46" y="264.20" width="1.24" height="2.27" fill="#2846b4"/>
<rect x="213.46" y="471.00" width="1.24" height="2.27" fill="#c8c8be"/>
<rect x="213.46" y="276.34" width="1.24" height="2.27" fill="#2846b4"/>
<rect x="213.46" y="483.14" width="1.24" height="2.27" fill="#c8c8be"/>
<rect x="205.06" y="282.40" width="1.24" height="2.27" fill="#2846b4"/>
<rect x="205.06" y="489.20" width="1.24" height="2.27" fill="#78d228"/>
<rect x="131.98" y="288.47" width="1.24" height="2.27" fill="#2846b4"/>
<rect x="131.98" y="495.27" width="1.24" height="2.27" fill="#78d228"/>
<rect x="169.78" y="284.42" width="1.24" height="2.27" fill="#0000ff"/>
<rect x="169.78" y="491.22" width="1.24" height="2.27" fill="#c8c8be"/>
<rect x="222.70" y="286.45" width="1.24" height="2.27" fill="#2846b4"/>
<rect x="222.70" y="493.25" width="1.24" height="2.27" fill="#ff7800"/>
<rect x="231.94" y="284.42" width="1.24" height="2.27" fill="#0000ff"/>
<rect x="231.94" y="491.22" width="1.24" height="2.27" fill="#c8c8be"/>
<rect x="233.62" y="284.42" width="1.24" height="2.27" fill="#0000ff"/>
<rect x="233.62" y="491.22" width="1.24" height="2.27" fill="#78d228"/>
<rect x="383.98" y="250.05" width="1.24" height="2.27" fill="#0000ff"/>
<rect x="383.98" y="456.85" width="1.24" height="2.27" fill="#c8c8be"/>
<rect x="388.18" y="199.50" width="1.24" height="2.27" fill="#2846b4"/>
<rect x="388.18" y="406.30" width="1.24" height="2.27" fill="#78d228"/>
<rect x="421.78" y="235.90" width="1.24" height="2.27" fill="#0000ff"/>
<rect x="421.78" y="442.70" width="1.24" height="2.27" fill="#78d228"/>
<rect x="406.66" y="278.36" width="1.24" height="2.27" fill="#0000ff"/>
<rect x="406.66" y="485.16" width="1.24" height="2.27" fill="#c8c8be"/>
<rect x="383.14" y="280.38" width="1.24" height="2.27" fill="#2846b4"/>
<rect x="383.14" y="487.18" width="1.24" height="2.27" fill="#ffb400"/>
<rect x="447.82" y="290.49" width="1.24" height="2.27" fill="#0000ff"/>
<rect x="447.82" y="497.29" width="1.24" height="2.27" fill="#c8c8be"/>
<rect x="547.78" y="294.53" width="1.24" height="2.27" fill="#2846b4"/>
<rect x="547.78" y="501.33" width="1.24" height="2.27" fill="#ff7800"/>
<rect x="633.46" y="276.34" width="1.24" height="2.27" fill="#0000ff"/>
<rect x="633.46" y="483.14" width="1.24" height="2.27" fill="#ffb400"/>
<rect x="247.90" y="252.07" width="1.24" height="2.27" fill="#0000ff"/>
<rect x="247.90" y="458.87" width="1.24" height="2.27" fill="#c8c8be"/>
<rect x="252.10" y="256.12" width="1.24" height="2.27" fill="#0000ff"/>
<rect x="252.10" y="462.92" width="1.24" height="2.27" fill="#ffb400"/>
<rect x="255.46" y="260.16" width="1.24" height="2.27" fill="#0000ff"/>
<rect x="255.46" y="466.96" width="1.24" height="2.27" fill="#ff7800"/>
<rect x="261.34" y="258.14" width="1.24" height="2.27" fill="#2846b4"/>
<rect x="261.34" y="464.94" width="1.24" height="2.27" fill="#c8c8be"/>
<rect x="196.66" y="237.92" width="1.24" height="2.27" fill="#2846b4"/>
<rect x="196.66" y="444.72" width="1.24" height="2.27" fill="#ffb400"/>
<rect x="198.34" y="241.96" width="1.24" height="2.27" fill="#0000ff"/>
<rect x="198.34" y="448.76" width="1.24" height="2.27" fill="#78d228"/>
<rect x="224.38" y="239.94" width="1.24" height="2.27" fill="#2846b4"/>
<rect x="224.38" y="446.74" width="1.24" height="2.27" fill="#ffb400"/>
<rect x="215.98" y="239.94" width="1.24" height="2.27" fill="#2846b4"/>
<rect x="215.98" y="446.74" width="1.24" height="2.27" fill="#c8c8be"/>
<rect x="271.42" y="286.45" width="1.24" height="2.27" fill="#2846b4"/>
<rect x="271.42" y="493.25" width="1.24" height="2.27" fill="#ff7800"/>
<rect x="280.66" y="288.47" width="1.24" height="2.27" fill="#2846b4"/>
<rect x="280.66" y="495.27" width="1.24" height="2.27" fill="#c8c8be"/>
<rect x="296.62" y="284.42" width="1.24" height="2.27" fill="#2846b4"/>
<rect x="296.62" y="491.22" width="1.24" height="2.27" fill="#78d228"/>
<rect x="299.14" y="288.47" width="1.24" height="2.27" fill="#2846b4"/>
<rect x="299.14" y="495.27" width="1.24" height="2.27" fill="#ffb400"/>
<rect x="593.98" y="256.12" width="1.24" height="2.27" fill="#2846b4"/>
<rect x="593.98" y="462.92" width="1.24" height="2.27" fill="#468c6e"/>
<rect x="594.82" y="256.12" width="1.24" height="2.27" fill="#2846b4"/>
<rect x="594.82" y="462.92" width="1.24" height="2.27" fill="#468c6e"/>
<rect x="600.70" y="258.14" width="1.24" height="2.27" fill="#2846b4"/>
<rect x="600.70" y="464.94" width="1.24" height="2.27" fill="#468c6e"/>
<rect x="601.54" y="258.14" width="1.24" height="2.27" fill="#2846b4"/>
<rect x="601.54" y="464.94" width="1.24" height="2.27" fill="#468c6e"/>
<rect x="649.42" y="250.05" width="1.24" height="2.27" fill="#0000ff"/>
<rect x="649.42" y="456.85" width="1.24" height="2.27" fill="#ff7800"/>
<rect x="649.42" y="246.01" width="1.24" height="2.27" fill="#2846b4"/>
<rect x="649.42" y="452.81" width="1.24" height="2.27" fill="#ff7800"/>
<rect x="650.26" y="252.07" width="1.24" height="2.27" fill="#2846b4"/>
<rect x="650.26" y="458.87" width="1.24" height="2.27" fill="#ff3c00"/>
<rect x="650.26" y="246.01" width="1.24" height="2.27" fill="#2846b4"/>
<rect x="650.26" y="452.81" width="1.24" height="2.27" fill="#ff7800"/>
<rect x="651.10" y="252.07" width="1.24" height="2.27" fill="#0000ff"/>
<rect x="651.10" y="458.87" width="1.24" height="2.27" fill="#ff7800"/>
<rect x="651.10" y="248.03" width="1.24" height="2.27" fill="#0000ff"/>
<rect x="651.10" y="454.83" width="1.24" height="2.27" fill="#ff7800"/>
<rect x="651.10" y="243.99" width="1.24" height="2.27" fill="#2846b4"/>
<rect x="651.10" y="450.79" width="1.24" height="2.27" fill="#ff7800"/>
<rect x="651.94" y="250.05" width="1.24" height="2.27" fill="#0000ff"/>
<rect x="651.94" y="456.85" width="1.24" height="2.27" fill="#ff3c00"/>
<rect x="651.94" y="248.03" width="1.24" height="2.27" fill="#468c6e"/>
<rect x="651.94" y="454.83" width="1.24" height="2.27" fill="#ff7800"/>
<rect x="651.94" y="246.01" width="1.24" height="2.27" fill="#2846b4"/>
<rect x="651.94" y="452.81" width="1.24" height="2.27" fill="#ff3c00"/>
<rect x="652.78" y="252.07" width="1.24" height="2.27" fill="#468c6e"/>
<rect x="652.78" y="458.87" width="1.24" height="2.27" fill="#ff3c00"/>
<rect x="652.78" y="250.05" width="1.24" height="2.27" fill="#2846b4"/>
<rect x="652.78" y="456.85" width="1.24" height="2.27" fill="#ff3c00"/>
<rect x="652.78" y="246.01" width="1.24" height="2.27" fill="#2846b4"/>
<rect x="652.78" y="452.81" width="1.24" height="2.27" fill="#ff3c00"/>
<rect x="652.78" y="243.99" width="1.24" height="2.27" fill="#0000ff"/>
<rect x="652.78" y="450.79" width="1.24" height="2.27" fill="#ff7800"/>
<rect x="653.62" y="250.05" width="1.24" height="2.27" fill="#2846b4"/>
<rect x="653.62" y="456.85" width="1.24" height="2.27" fill="#ff7800"/>
<rect x="653.62" y="248.03" width="1.24" height="2.27" fill="#2846b4"/>
<rect x="653.62" y="454.83" width="1.24" height="2.27" fill="#ff7800"/>
<rect x="654.46" y="250.05" width="1.24" height="2.27" fill="#2846b4"/>
<rect x="654.46" y="456.85" width="1.24" height="2.27" fill="#ff7800"/>
<rect x="654.46" y="246.01" width="1.24" height="2.27" fill="#0000ff"/>
<rect x="654.46" y="452.81" width="1.24" height="2.27" fill="#ff7800"/>
<rect x="654.46" y="243.99" width="1.24" height="2.27" fill="#2846b4"/>
<rect x="654.46" y="450.79" width="1.24" height="2.27" fill="#ff7800"/>
<rect x="655.30" y="250.05" width="1.24" height="2.27" fill="#2846b4"/>
<rect x="655.30" y="456.85" width="1.24" height="2.27" fill="#ff7800"/>
<rect x="655.30" y="248.03" width="1.24" height="2.27" fill="#2846b4"/>
<rect x="655.30" y="454.83" width="1.24" height="2.27" fill="#ff3c00"/>
<rect x="656.14" y="248.03" width="1.24" height="2.27" fill="#2846b4"/>
<rect x="656.14" y="454.83" width="1.24" height="2.27" fill="#ff3c00"/>
<rect x="656.98" y="250.05" width="1.24" height="2.27" fill="#2846b4"/>
<rect x="656.98" y="456.85" width="1.24" height="2.27" fill="#ff3c00"/>
<rect x="656.98" y="248.03" width="1.24" height="2.27" fill="#468c6e"/>
<rect x="656.98" y="454.83" width="1.24" height="2.27" fill="#ff7800"/>
<rect x="656.98" y="246.01" width="1.24" height="2.27" fill="#2846b4"/>
<rect x="656.98" y="452.81" width="1.24" height="2.27" fill="#ff3c00"/>
<rect x="670.42" y="248.03" width="1.24" height="2.27" fill="#2846b4"/>
<rect x="670.42" y="454.83" width="1.24" height="2.27" fill="#ff7800"/>
<rect x="671.26" y="250.05" width="1.24" height="2.27" fill="#2846b4"/>
<rect x="671.26" y="456.85" width="1.24" height="2.27" fill="#ff7800"/>
<rect x="671.26" y="248.03" width="1.24" height="2.27" fill="#2846b4"/>
<rect x="671.26" y="454.83" width="1.24" height="2.27" fill="#ff7800"/>
<rect x="650.26" y="260.16" width="1.24" height="2.27" fill="#2846b4"/>
<rect x="650.26" y="466.96" width="1.24" height="2.27" fill="#ff7800"/>
<rect x="650.26" y="258.14" width="1.24" height="2.27" fill="#2846b4"/>
<rect x="650.26" y="464.94" width="1.24" height="2.27" fill="#ff7800"/>
<rect x="651.10" y="258.14" width="1.24" height="2.27" fill="#2846b4"/>
<rect x="651.10" y="464.94" width="1.24" height="2.27" fill="#ff7800"/>
<rect x="673.78" y="258.14" width="1.24" height="2.27" fill="#0000ff"/>
<rect x="673.78" y="464.94" width="1.24" height="2.27" fill="#ff7800"/>
<rect x="673.78" y="256.12" width="1.24" height="2.27" fill="#468c6e"/>
<rect x="673.78" y="462.92" width="1.24" height="2.27" fill="#ff7800"/>
<rect x="674.62" y="258.14" width="1.24" height="2.27" fill="#468c6e"/>
<rect x="674.62" y="464.94" width="1.24" height="2.27" fill="#ff3c00"/>
<rect x="674.62" y="256.12" width="1.24" height="2.27" fill="#468c6e"/>
<rect x="674.62" y="462.92" width="1.24" height="2.27" fill="#ff7800"/>
<rect x="655.30" y="266.23" width="1.24" height="2.27" fill="#2846b4"/>
<rect x="655.30" y="473.03" width="1.24" height="2.27" fill="#ff7800"/>
<rect x="655.30" y="264.20" width="1.24" height="2.27" fill="#2846b4"/>
<rect x="655.30" y="471.00" width="1.24" height="2.27" fill="#ff3c00"/>
<rect x="656.14" y="266.23" width="1.24" height="2.27" fill="#0000ff"/>
<rect x="656.14" y="473.03" width="1.24" height="2.27" fill="#ff3c00"/>
<rect x="656.98" y="266.23" width="1.24" height="2.27" fill="#2846b4"/>
<rect x="656.98" y="473.03" width="1.24" height="2.27" fill="#ff0000"/>
<rect x="656.98" y="264.20" width="1.24" height="2.27" fill="#0000ff"/>
<rect x="656.98" y="471.00" width="1.24" height="2.27" fill="#ff3c00"/>
<rect x="657.82" y="268.25" width="1.24" height="2.27" fill="#2846b4"/>
<rect x="657.82" y="475.05" width="1.24" height="2.27" fill="#ff3c00"/>
<rect x="657.82" y="266.23" width="1.24" height="2.27" fill="#0000ff"/>
<rect x="657.82" y="473.03" width="1.24" height="2.27" fill="#ff7800"/>
<rect x="657.82" y="264.20" width="1.24" height="2.27" fill="#468c6e"/>
<rect x="657.82" y="471.00" width="1.24" height="2.27" fill="#ff7800"/>
<rect x="657.82" y="262.18" width="1.24" height="2.27" fill="#468c6e"/>
<rect x="657.82" y="468.98" width="1.24" height="2.27" fill="#ff7800"/>
<rect x="658.66" y="270.27" width="1.24" height="2.27" fill="#468c6e"/>
<rect x="658.66" y="477.07" width="1.24" height="2.27" fill="#ff3c00"/>
<rect x="658.66" y="268.25" width="1.24" height="2.27" fill="#0000ff"/>
<rect x="658.66" y="475.05" width="1.24" height="2.27" fill="#ff3c00"/>
<rect x="658.66" y="266.23" width="1.24" height="2.27" fill="#2846b4"/>
<rect x="658.66" y="473.03" width="1.24" height="2.27" fill="#ff3c00"/>
<rect x="658.66" y="262.18" width="1.24" height="2.27" fill="#468c6e"/>
<rect x="658.66" y="468.98" width="1.24" height="2.27" fill="#ff7800"/>
<rect x="658.66" y="260.16" width="1.24" height="2.27" fill="#468c6e"/>
<rect x="658.66" y="466.96" width="1.24" height="2.27" fill="#ff7800"/>
<rect x="659.50" y="268.25" width="1.24" height="2.27" fill="#468c6e"/>
<rect x="659.50" y="475.05" width="1.24" height="2.27" fill="#ff7800"/>
<rect x="659.50" y="266.23" width="1.24" height="2.27" fill="#78d228"/>
<rect x="659.50" y="473.03" width="1.24" height="2.27" fill="#ff3c00"/>
<rect x="659.50" y="262.18" width="1.24" height="2.27" fill="#2846b4"/>
<rect x="659.50" y="468.98" width="1.24" height="2.27" fill="#ff3c00"/>
<rect x="660.34" y="266.23" width="1.24" height="2.27" fill="#468c6e"/>
<rect x="660.34" y="473.03" width="1.24" height="2.27" fill="#ff3c00"/>
<rect x="660.34" y="264.20" width="1.24" height="2.27" fill="#2846b4"/>
<rect x="660.34" y="471.00" width="1.24" height="2.27" fill="#ff3c00"/>
<rect x="660.34" y="262.18" width="1.24" height="2.27" fill="#2846b4"/>
<rect x="660.34" y="468.98" width="1.24" height="2.27" fill="#ff7800"/>
<rect x="661.18" y="266.23" width="1.24" height="2.27" fill="#78d228"/>
<rect x="661.18" y="473.03" width="1.24" height="2.27" fill="#ff3c00"/>
<rect x="661.18" y="264.20" width="1.24" height="2.27" fill="#2846b4"/>
<rect x="661.18" y="471.00" width="1.24" height="2.27" fill="#ff3c00"/>
<rect x="662.02" y="270.27" width="1.24" height="2.27" fill="#2846b4"/>
<rect x="662.02" y="477.07" width="1.24" height="2.27" fill="#ff3c00"/>
<rect x="662.02" y="268.25" width="1.24" height="2.27" fill="#2846b4"/>
<rect x="662.02" y="475.05" width="1.24" height="2.27" fill="#ff7800"/>
<rect x="662.02" y="266.23" width="1.24" height="2.27" fill="#2846b4"/>
<rect x="662.02" y="473.03" width="1.24" height="2.27" fill="#ff7800"/>
<rect x="662.02" y="264.20" width="1.24" height="2.27" fill="#78d228"/>
<rect x="662.02" y="471.00" width="1.24" height="2.27" fill="#ff3c00"/>
<rect x="662.02" y="262.18" width="1.24" height="2.27" fill="#468c6e"/>
<rect x="662.02" y="468.98" width="1.24" height="2.27" fill="#ff7800"/>
<rect x="662.02" y="260.16" width="1.24" height="2.27" fill="#468c6e"/>
<rect x="662.02" y="466.96" width="1.24" height="2.27" fill="#ff7800"/>
<rect x="662.86" y="270.27" width="1.24" height="2.27" fill="#2846b4"/>
<rect x="662.86" y="477.07" width="1.24" height="2.27" fill="#ff7800"/>
<rect x="662.86" y="268.25" width="1.24" height="2.27" fill="#2846b4"/>
<rect x="662.86" y="475.05" width="1.24" height="2.27" fill="#ff7800"/>
<rect x="662.86" y="266.23" width="1.24" height="2.27" fill="#468c6e"/>
<rect x="662.86" y="473.03" width="1.24" height="2.27" fill="#ff3c00"/>
<rect x="662.86" y="264.20" width="1.24" height="2.27" fill="#468c6e"/>
<rect x="662.86" y="471.00" width="1.24" height="2.27" fill="#ff3c00"/>
<rect x="662.86" y="260.16" width="1.24" height="2.27" fill="#0000ff"/>
<rect x="662.86" y="466.96" width="1.24" height="2.27" fill="#ff3c00"/>
<rect x="662.86" y="258.14" width="1.24" height="2.27" fill="#2846b4"/>
<rect x="662.86" y="464.94" width="1.24" height="2.27" fill="#ff3c00"/>
<rect x="663.70" y="268.25" width="1.24" height="2.27" fill="#2846b4"/>
<rect x="663.70" y="475.05" width="1.24" height="2.27" fill="#ff3c00"/>
<rect x="663.70" y="266.23" width="1.24" height="2.27" fill="#2846b4"/>
<rect x="663.70" y="473.03" width="1.24" height="2.27" fill="#ff3c00"/>
<rect x="663.70" y="264.20" width="1.24" height="2.27" fill="#468c6e"/>
<rect x="663.70" y="471.00" width="1.24" height="2.27" fill="#ff3c00"/>
<rect x="664.54" y="268.25" width="1.24" height="2.27" fill="#0000ff"/>
<rect x="664.54" y="475.05" width="1.24" height="2.27" fill="#ff3c00"/>
<rect x="664.54" y="266.23" width="1.24" height="2.27" fill="#2846b4"/>
<rect x="664.54" y="473.03" width="1.24" height="2.27" fill="#ff7800"/>
<rect x="664.54" y="264.20" width="1.24" height="2.27" fill="#468c6e"/>
<rect x="664.54" y="471.00" width="1.24" height="2.27" fill="#ff7800"/>
<rect x="665.38" y="266.23" width="1.24" height="2.27" fill="#0000ff"/>
<rect x="665.38" y="473.03" width="1.24" height="2.27" fill="#ff7800"/>
<rect x="665.38" y="264.20" width="1.24" height="2.27" fill="#2846b4"/>
<rect x="665.38" y="471.00" width="1.24" height="2.27" fill="#ff7800"/>
<rect x="666.22" y="264.20" width="1.24" height="2.27" fill="#0000ff"/>
<rect x="666.22" y="471.00" width="1.24" height="2.27" fill="#ff7800"/>
<rect x="667.06" y="266.23" width="1.24" height="2.27" fill="#0000ff"/>
<rect x="667.06" y="473.03" width="1.24" height="2.27" fill="#ff3c00"/>
<rect x="667.06" y="262.18" width="1.24" height="2.27" fill="#2846b4"/>
<rect x="667.06" y="468.98" width="1.24" height="2.27" fill="#ff3c00"/>
<rect x="667.90" y="264.20" width="1.24" height="2.27" fill="#468c6e"/>
<rect x="667.90" y="471.00" width="1.24" height="2.27" fill="#ff3c00"/>
<rect x="646.90" y="266.23" width="1.24" height="2.27" fill="#468c6e"/>
<rect x="646.90" y="473.03" width="1.24" height="2.27" fill="#ffb400"/>
<rect x="651.94" y="266.23" width="1.24" height="2.27" fill="#2846b4"/>
<rect x="651.94" y="473.03" width="1.24" height="2.27" fill="#ff7800"/>
<rect x="674.62" y="270.27" width="1.24" height="2.27" fill="#0000ff"/>
<rect x="674.62" y="477.07" width="1.24" height="2.27" fill="#ff3c00"/>
<rect x="674.62" y="266.23" width="1.24" height="2.27" fill="#0000ff"/>
<rect x="674.62" y="473.03" width="1.24" height="2.27" fill="#ff3c00"/>
<rect x="674.62" y="264.20" width="1.24" height="2.27" fill="#2846b4"/>
<rect x="674.62" y="471.00" width="1.24" height="2.27" fill="#ff3c00"/>
<rect x="675.46" y="270.27" width="1.24" height="2.27" fill="#78d228"/>
<rect x="675.46" y="477.07" width="1.24" height="2.27" fill="#ff3c00"/>
<rect x="675.46" y="266.23" width="1.24" height="2.27" fill="#78d228"/>
<rect x="675.46" y="473.03" width="1.24" height="2.27" fill="#ff3c00"/>
<rect x="675.46" y="264.20" width="1.24" height="2.27" fill="#0000ff"/>
<rect x="675.46" y="471.00" width="1.24" height="2.27" fill="#ff3c00"/>
<rect x="676.30" y="272.29" width="1.24" height="2.27" fill="#0000ff"/>
<rect x="676.30" y="479.09" width="1.24" height="2.27" fill="#ff7800"/>
<rect x="676.30" y="268.25" width="1.24" height="2.27" fill="#2846b4"/>
<rect x="676.30" y="475.05" width="1.24" height="2.27" fill="#ff7800"/>
<rect x="676.30" y="266.23" width="1.24" height="2.27" fill="#468c6e"/>
<rect x="676.30" y="473.03" width="1.24" height="2.27" fill="#ff3c00"/>
<rect x="676.30" y="264.20" width="1.24" height="2.27" fill="#78d228"/>
<rect x="676.30" y="471.00" width="1.24" height="2.27" fill="#ff7800"/>
<rect x="677.14" y="268.25" width="1.24" height="2.27" fill="#2846b4"/>
<rect x="677.14" y="475.05" width="1.24" height="2.27" fill="#ff3c00"/>
<rect x="677.14" y="266.23" width="1.24" height="2.27" fill="#468c6e"/>
<rect x="677.14" y="473.03" width="1.24" height="2.27" fill="#ff3c00"/>
<rect x="677.14" y="264.20" width="1.24" height="2.27" fill="#2846b4"/>
<rect x="677.14" y="471.00" width="1.24" height="2.27" fill="#ff7800"/>
<rect x="677.98" y="268.25" width="1.24" height="2.27" fill="#0000ff"/>
<rect x="677.98" y="475.05" width="1.24" height="2.27" fill="#ff3c00"/>
<rect x="677.98" y="266.23" width="1.24" height="2.27" fill="#0000ff"/>
<rect x="677.98" y="473.03" width="1.24" height="2.27" fill="#ff3c00"/>
<rect x="678.82" y="270.27" width="1.24" height="2.27" fill="#468c6e"/>
<rect x="678.82" y="477.07" width="1.24" height="2.27" fill="#ff3c00"/>
<rect x="678.82" y="266.23" width="1.24" height="2.27" fill="#2846b4"/>
<rect x="678.82" y="473.03" width="1.24" height="2.27" fill="#ff0000"/>
<rect x="679.66" y="270.27" width="1.24" height="2.27" fill="#2846b4"/>
<rect x="679.66" y="477.07" width="1.24" height="2.27" fill="#ff3c00"/>
<rect x="679.66" y="266.23" width="1.24" height="2.27" fill="#2846b4"/>
<rect x="679.66" y="473.03" width="1.24" height="2.27" fill="#ff3c00"/>
<rect x="680.50" y="272.29" width="1.24" height="2.27" fill="#2846b4"/>
<rect x="680.50" y="479.09" width="1.24" height="2.27" fill="#ff0000"/>
<rect x="680.50" y="268.25" width="1.24" height="2.27" fill="#2846b4"/>
<rect x="680.50" y="475.05" width="1.24" height="2.27" fill="#ff7800"/>
<rect x="680.50" y="266.23" width="1.24" height="2.27" fill="#2846b4"/>
<rect x="680.50" y="473.03" width="1.24" height="2.27" fill="#ff3c00"/>
<rect x="680.50" y="264.20" width="1.24" height="2.27" fill="#468c6e"/>
<rect x="680.50" y="471.00" width="1.24" height="2.27" fill="#ff0000"/>
<rect x="681.34" y="268.25" width="1.24" height="2.27" fill="#2846b4"/>
<rect x="681.34" y="475.05" width="1.24" height="2.27" fill="#ff3c00"/>
<rect x="681.34" y="266.23" width="1.24" height="2.27" fill="#78d228"/>
<rect x="681.34" y="473.03" width="1.24" height="2.27" fill="#ff3c00"/>
<rect x="683.02" y="268.25" width="1.24" height="2.27" fill="#2846b4"/>
<rect x="683.02" y="475.05" width="1.24" height="2.27" fill="#ff7800"/>
<rect x="673.78" y="272.29" width="1.24" height="2.27" fill="#0000ff"/>
<rect x="673.78" y="479.09" width="1.24" height="2.27" fill="#ff3c00"/>
<rect x="673.78" y="270.27" width="1.24" height="2.27" fill="#0000ff"/>
<rect x="673.78" y="477.07" width="1.24" height="2.27" fill="#ff7800"/>
<rect x="674.62" y="278.36" width="1.24" height="2.27" fill="#2846b4"/>
<rect x="674.62" y="485.16" width="1.24" height="2.27" fill="#ff7800"/>
<rect x="675.46" y="278.36" width="1.24" height="2.27" fill="#2846b4"/>
<rect x="675.46" y="485.16" width="1.24" height="2.27" fill="#ff7800"/>
<rect x="676.30" y="278.36" width="1.24" height="2.27" fill="#2846b4"/>
<rect x="676.30" y="485.16" width="1.24" height="2.27" fill="#ff7800"/>
<rect x="676.30" y="276.34" width="1.24" height="2.27" fill="#2846b4"/>
<rect x="676.30" y="483.14" width="1.24" height="2.27" fill="#ff3c00"/>
<rect x="683.02" y="276.34" width="1.24" height="2.27" fill="#2846b4"/>
<rect x="683.02" y="483.14" width="1.24" height="2.27" fill="#ff3c00"/>
<rect x="684.70" y="282.40" width="1.24" height="2.27" fill="#468c6e"/>
<rect x="684.70" y="489.20" width="1.24" height="2.27" fill="#ff3c00"/>
<rect x="685.54" y="280.38" width="1.24" height="2.27" fill="#2846b4"/>
<rect x="685.54" y="487.18" width="1.24" height="2.27" fill="#ff7800"/>
<rect x="685.54" y="278.36" width="1.24" height="2.27" fill="#2846b4"/>
<rect x="685.54" y="485.16" width="1.24" height="2.27" fill="#ff7800"/>
<rect x="673.78" y="284.42" width="1.24" height="2.27" fill="#2846b4"/>
<rect x="673.78" y="491.22" width="1.24" height="2.27" fill="#ff7800"/>
<rect x="674.62" y="286.45" width="1.24" height="2.27" fill="#0000ff"/>
<rect x="674.62" y="493.25" width="1.24" height="2.27" fill="#ff7800"/>
<rect x="680.50" y="284.42" width="1.24" height="2.27" fill="#2846b4"/>
<rect x="680.50" y="491.22" width="1.24" height="2.27" fill="#ff7800"/>
<rect x="687.22" y="284.42" width="1.24" height="2.27" fill="#0000ff"/>
<rect x="687.22" y="491.22" width="1.24" height="2.27" fill="#ff7800"/>
<rect x="688.06" y="286.45" width="1.24" height="2.27" fill="#2846b4"/>
<rect x="688.06" y="493.25" width="1.24" height="2.27" fill="#ff7800"/>
<rect x="688.06" y="284.42" width="1.24" height="2.27" fill="#2846b4"/>
<rect x="688.06" y="491.22" width="1.24" height="2.27" fill="#ff7800"/>
<rect x="688.90" y="288.47" width="1.24" height="2.27" fill="#2846b4"/>
<rect x="688.90" y="495.27" width="1.24" height="2.27" fill="#ff7800"/>
<rect x="688.90" y="286.45" width="1.24" height="2.27" fill="#2846b4"/>
<rect x="688.90" y="493.25" width="1.24" height="2.27" fill="#ff7800"/>
<rect x="688.90" y="284.42" width="1.24" height="2.27" fill="#468c6e"/>
<rect x="688.90" y="491.22" width="1.24" height="2.27" fill="#ff7800"/>
<rect x="689.74" y="288.47" width="1.24" height="2.27" fill="#0000ff"/>
<rect x="689.74" y="495.27" width="1.24" height="2.27" fill="#ff7800"/>
<rect x="689.74" y="284.42" width="1.24" height="2.27" fill="#0000ff"/>
<rect x="689.74" y="491.22" width="1.24" height="2.27" fill="#ff3c00"/>
<rect x="689.74" y="280.38" width="1.24" height="2.27" fill="#2846b4"/>
<rect x="689.74" y="487.18" width="1.24" height="2.27" fill="#ff7800"/>
<rect x="643.54" y="284.42" width="1.24" height="2.27" fill="#2846b4"/>
<rect x="643.54" y="491.22" width="1.24" height="2.27" fill="#78d228"/>
<rect x="645.22" y="284.42" width="1.24" height="2.27" fill="#0000ff"/>
<rect x="645.22" y="491.22" width="1.24" height="2.27" fill="#78d228"/>
<rect x="646.06" y="284.42" width="1.24" height="2.27" fill="#2846b4"/>
<rect x="646.06" y="491.22" width="1.24" height="2.27" fill="#78d228"/>
<rect x="654.46" y="288.47" width="1.24" height="2.27" fill="#2846b4"/>
<rect x="654.46" y="495.27" width="1.24" height="2.27" fill="#78d228"/>
<rect x="655.30" y="284.42" width="1.24" height="2.27" fill="#2846b4"/>
<rect x="655.30" y="491.22" width="1.24" height="2.27" fill="#78d228"/>
<rect x="656.14" y="288.47" width="1.24" height="2.27" fill="#2846b4"/>
<rect x="656.14" y="495.27" width="1.24" height="2.27" fill="#78d228"/>
<rect x="656.14" y="286.45" width="1.24" height="2.27" fill="#468c6e"/>
<rect x="656.14" y="493.25" width="1.24" height="2.27" fill="#78d228"/>
<rect x="656.14" y="284.42" width="1.24" height="2.27" fill="#0000ff"/>
<rect x="656.14" y="491.22" width="1.24" height="2.27" fill="#78d228"/>
<rect x="656.98" y="290.49" width="1.24" height="2.27" fill="#0000ff"/>
<rect x="656.98" y="497.29" width="1.24" height="2.27" fill="#78d228"/>
<rect x="656.98" y="286.45" width="1.24" height="2.27" fill="#0000ff"/>
<rect x="656.98" y="493.25" width="1.24" height="2.27" fill="#78d228"/>
<rect x="658.66" y="290.49" width="1.24" height="2.27" fill="#468c6e"/>
<rect x="658.66" y="497.29" width="1.24" height="2.27" fill="#78d228"/>
<rect x="658.66" y="288.47" width="1.24" height="2.27" fill="#2846b4"/>
<rect x="658.66" y="495.27" width="1.24" height="2.27" fill="#78d228"/>
<rect x="658.66" y="286.45" width="1.24" height="2.27" fill="#2846b4"/>
<rect x="658.66" y="493.25" width="1.24" height="2.27" fill="#78d228"/>
<rect x="658.66" y="284.42" width="1.24" height="2.27" fill="#0000ff"/>
<rect x="658.66" y="491.22" width="1.24" height="2.27" fill="#ffb400"/>
<rect x="659.50" y="288.47" width="1.24" height="2.27" fill="#0000ff"/>
<rect x="659.50" y="495.27" width="1.24" height="2.27" fill="#78d228"/>
<rect x="660.34" y="286.45" width="1.24" height="2.27" fill="#0000ff"/>
<rect x="660.34" y="493.25" width="1.24" height="2.27" fill="#78d228"/>
<rect x="661.18" y="286.45" width="1.24" height="2.27" fill="#0000ff"/>
<rect x="661.18" y="493.25" width="1.24" height="2.27" fill="#78d228"/>
<rect x="662.02" y="290.49" width="1.24" height="2.27" fill="#468c6e"/>
<rect x="662.02" y="497.29" width="1.24" height="2.27" fill="#78d228"/>
<rect x="662.02" y="286.45" width="1.24" height="2.27" fill="#2846b4"/>
<rect x="662.02" y="493.25" width="1.24" height="2.27" fill="#78d228"/>
<rect x="662.02" y="284.42" width="1.24" height="2.27" fill="#2846b4"/>
<rect x="662.02" y="491.22" width="1.24" height="2.27" fill="#78d228"/>
<rect x="662.86" y="286.45" width="1.24" height="2.27" fill="#0000ff"/>
<rect x="662.86" y="493.25" width="1.24" height="2.27" fill="#78d228"/>
<rect x="677.98" y="294.53" width="1.24" height="2.27" fill="#2846b4"/>
<rect x="677.98" y="501.33" width="1.24" height="2.27" fill="#ffb400"/>
<rect x="678.82" y="294.53" width="1.24" height="2.27" fill="#2846b4"/>
<rect x="678.82" y="501.33" width="1.24" height="2.27" fill="#ffb400"/>
<rect x="679.66" y="294.53" width="1.24" height="2.27" fill="#468c6e"/>
<rect x="679.66" y="501.33" width="1.24" height="2.27" fill="#78d228"/>
<rect x="680.50" y="294.53" width="1.24" height="2.27" fill="#0000ff"/>
<rect x="680.50" y="501.33" width="1.24" height="2.27" fill="#78d228"/>
<rect x="680.50" y="292.51" width="1.24" height="2.27" fill="#0000ff"/>
<rect x="680.50" y="499.31" width="1.24" height="2.27" fill="#ffb400"/>
<rect x="681.34" y="294.53" width="1.24" height="2.27" fill="#2846b4"/>
<rect x="681.34" y="501.33" width="1.24" height="2.27" fill="#78d228"/>
<rect x="681.34" y="292.51" width="1.24" height="2.27" fill="#2846b4"/>
<rect x="681.34" y="499.31" width="1.24" height="2.27" fill="#78d228"/>
<rect x="681.34" y="290.49" width="1.24" height="2.27" fill="#468c6e"/>
<rect x="681.34" y="497.29" width="1.24" height="2.27" fill="#78d228"/>
<rect x="682.18" y="294.53" width="1.24" height="2.27" fill="#468c6e"/>
<rect x="682.18" y="501.33" width="1.24" height="2.27" fill="#78d228"/>
<rect x="687.22" y="298.58" width="1.24" height="2.27" fill="#2846b4"/>
<rect x="687.22" y="505.38" width="1.24" height="2.27" fill="#78d228"/>
<rect x="687.22" y="296.55" width="1.24" height="2.27" fill="#2846b4"/>
<rect x="687.22" y="503.35" width="1.24" height="2.27" fill="#78d228"/>
<rect x="687.22" y="294.53" width="1.24" height="2.27" fill="#468c6e"/>
<rect x="687.22" y="501.33" width="1.24" height="2.27" fill="#468c6e"/>
<rect x="688.06" y="296.55" width="1.24" height="2.27" fill="#0000ff"/>
<rect x="688.06" y="503.35" width="1.24" height="2.27" fill="#78d228"/>
<rect x="633.46" y="276.34" width="1.24" height="2.27" fill="#2846b4"/>
<rect x="633.46" y="483.14" width="1.24" height="2.27" fill="#ff7800"/>
<rect x="633.46" y="282.40" width="1.24" height="2.27" fill="#2846b4"/>
<rect x="633.46" y="489.20" width="1.24" height="2.27" fill="#c8c8be"/>
<rect x="638.50" y="282.40" width="1.24" height="2.27" fill="#2846b4"/>
<rect x="638.50" y="489.20" width="1.24" height="2.27" fill="#c8c8be"/>
<rect x="644.38" y="294.53" width="1.24" height="2.27" fill="#2846b4"/>
<rect x="644.38" y="501.33" width="1.24" height="2.27" fill="#78d228"/>
<rect x="669.58" y="292.51" width="1.24" height="2.27" fill="#2846b4"/>
<rect x="669.58" y="499.31" width="1.24" height="2.27" fill="#c8c8be"/>
<rect x="611.62" y="284.42" width="1.24" height="2.27" fill="#2846b4"/>
<rect x="611.62" y="491.22" width="1.24" height="2.27" fill="#c8c8be"/>
<rect x="91.88" y="298.30" width="0.80" height="2.27" fill="#0000ff"/>
<rect x="91.88" y="505.10" width="0.80" height="2.27" fill="#ffb400"/>
<rect x="94.40" y="304.36" width="0.80" height="2.27" fill="#2846b4"/>
<rect x="94.40" y="511.16" width="0.80" height="2.27" fill="#c8c8be"/>
<rect x="96.08" y="304.36" width="0.80" height="2.27" fill="#2846b4"/>
<rect x="96.08" y="511.16" width="0.80" height="2.27" fill="#c8c8be"/>
<rect x="97.76" y="304.36" width="0.80" height="2.27" fill="#2846b4"/>
<rect x="97.76" y="511.16" width="0.80" height="2.27" fill="#ffb400"/>
<rect x="98.60" y="304.36" width="0.80" height="2.27" fill="#2846b4"/>
<rect x="98.60" y="511.16" width="0.80" height="2.27" fill="#c8c8be"/>
<rect x="99.44" y="294.25" width="0.80" height="2.27" fill="#0000ff"/>
<rect x="99.44" y="501.05" width="0.80" height="2.27" fill="#78d228"/>
<rect x="100.28" y="304.36" width="0.80" height="2.27" fill="#0000ff"/>
<rect x="101.12" y="304.36" width="0.80" height="2.27" fill="#2846b4"/>
<rect x="101.12" y="511.16" width="0.80" height="2.27" fill="#c8c8be"/>
<rect x="101.12" y="298.30" width="0.80" height="2.27" fill="#2846b4"/>
<rect x="101.12" y="505.10" width="0.80" height="2.27" fill="#78d228"/>
<rect x="101.12" y="294.25" width="0.80" height="2.27" fill="#2846b4"/>
<rect x="101.12" y="501.05" width="0.80" height="2.27" fill="#ffb400"/>
<rect x="102.80" y="304.36" width="0.80" height="2.27" fill="#0000ff"/>
<rect x="103.64" y="304.36" width="0.80" height="2.27" fill="#2846b4"/>
<rect x="103.64" y="511.16" width="0.80" height="2.27" fill="#78d228"/>
<rect x="104.48" y="288.19" width="0.80" height="2.27" fill="#2846b4"/>
<rect x="104.48" y="494.99" width="0.80" height="2.27" fill="#c8c8be"/>
<rect x="108.68" y="304.36" width="0.80" height="2.27" fill="#0000ff"/>
<rect x="109.52" y="304.36" width="0.80" height="2.27" fill="#ff7800"/>
<rect x="109.52" y="511.16" width="0.80" height="2.27" fill="#78d228"/>
<rect x="109.52" y="300.32" width="0.80" height="2.27" fill="#2846b4"/>
<rect x="111.20" y="304.36" width="0.80" height="2.27" fill="#78d228"/>
<rect x="111.20" y="511.16" width="0.80" height="2.27" fill="#c8c8be"/>
<rect x="111.20" y="300.32" width="0.80" height="2.27" fill="#2846b4"/>
<rect x="111.20" y="507.12" width="0.80" height="2.27" fill="#78d228"/>
<rect x="112.04" y="304.36" width="0.80" height="2.27" fill="#78d228"/>
<rect x="112.04" y="511.16" width="0.80" height="2.27" fill="#c8c8be"/>
<rect x="112.04" y="302.34" width="0.80" height="2.27" fill="#78d228"/>
<rect x="112.04" y="300.32" width="0.80" height="2.27" fill="#0000ff"/>
<rect x="112.04" y="507.12" width="0.80" height="2.27" fill="#78d228"/>
<rect x="112.04" y="288.19" width="0.80" height="2.27" fill="#2846b4"/>
<rect x="112.88" y="304.36" width="0.80" height="2.27" fill="#2846b4"/>
<rect x="112.88" y="511.16" width="0.80" height="2.27" fill="#78d228"/>
<rect x="112.88" y="302.34" width="0.80" height="2.27" fill="#2846b4"/>
<rect x="112.88" y="509.14" width="0.80" height="2.27" fill="#78d228"/>
<rect x="113.72" y="304.36" width="0.80" height="2.27" fill="#0000ff"/>
<rect x="113.72" y="511.16" width="0.80" height="2.27" fill="#ffb400"/>
<rect x="114.56" y="300.32" width="0.80" height="2.27" fill="#468c6e"/>
<rect x="114.56" y="507.12" width="0.80" height="2.27" fill="#c8c8be"/>
<rect x="116.24" y="304.36" width="0.80" height="2.27" fill="#c8c8be"/>
<rect x="116.24" y="511.16" width="0.80" height="2.27" fill="#78d228"/>
<rect x="116.24" y="298.30" width="0.80" height="2.27" fill="#0000ff"/>
<rect x="116.24" y="505.10" width="0.80" height="2.27" fill="#78d228"/>
<rect x="117.08" y="304.36" width="0.80" height="2.27" fill="#c8c8be"/>
<rect x="117.08" y="511.16" width="0.80" height="2.27" fill="#c8c8be"/>
<rect x="117.92" y="304.36" width="0.80" height="2.27" fill="#c8c8be"/>
<rect x="117.92" y="511.16" width="0.80" height="2.27" fill="#78d228"/>
<rect x="119.60" y="304.36" width="0.80" height="2.27" fill="#2846b4"/>
<rect x="119.60" y="511.16" width="0.80" height="2.27" fill="#78d228"/>
<rect x="119.60" y="300.32" width="0.80" height="2.27" fill="#0000ff"/>
<rect x="119.60" y="507.12" width="0.80" height="2.27" fill="#c8c8be"/>
<rect x="121.28" y="302.34" width="0.80" height="2.27" fill="#468c6e"/>
<rect x="121.28" y="509.14" width="0.80" height="2.27" fill="#ffb400"/>
<rect x="122.12" y="304.36" width="0.80" height="2.27" fill="#0000ff"/>
<rect x="122.12" y="511.16" width="0.80" height="2.27" fill="#78d228"/>
<rect x="122.12" y="302.34" width="0.80" height="2.27" fill="#0000ff"/>
<rect x="122.12" y="509.14" width="0.80" height="2.27" fill="#78d228"/>
<rect x="122.96" y="302.34" width="0.80" height="2.27" fill="#2846b4"/>
<rect x="122.96" y="509.14" width="0.80" height="2.27" fill="#ffb400"/>
<rect x="123.80" y="302.34" width="0.80" height="2.27" fill="#2846b4"/>
<rect x="123.80" y="509.14" width="0.80" height="2.27" fill="#78d228"/>
<rect x="124.64" y="304.36" width="0.80" height="2.27" fill="#468c6e"/>
<rect x="124.64" y="511.16" width="0.80" height="2.27" fill="#78d228"/>
<rect x="126.32" y="298.30" width="0.80" height="2.27" fill="#0000ff"/>
<rect x="126.32" y="505.10" width="0.80" height="2.27" fill="#c8c8be"/>
<rect x="127.16" y="304.36" width="0.80" height="2.27" fill="#c8c8be"/>
<rect x="127.16" y="511.16" width="0.80" height="2.27" fill="#78d228"/>
<rect x="127.16" y="302.34" width="0.80" height="2.27" fill="#78d228"/>
<rect x="127.16" y="509.14" width="0.80" height="2.27" fill="#78d228"/>
<rect x="128.84" y="304.36" width="0.80" height="2.27" fill="#2846b4"/>
<rect x="128.84" y="511.16" width="0.80" height="2.27" fill="#ffb400"/>
<rect x="128.84" y="300.32" width="0.80" height="2.27" fill="#2846b4"/>
<rect x="128.84" y="507.12" width="0.80" height="2.27" fill="#c8c8be"/>
<rect x="129.68" y="300.32" width="0.80" height="2.27" fill="#468c6e"/>
<rect x="129.68" y="507.12" width="0.80" height="2.27" fill="#ffb400"/>
<rect x="130.52" y="294.25" width="0.80" height="2.27" fill="#0000ff"/>
<rect x="130.52" y="501.05" width="0.80" height="2.27" fill="#c8c8be"/>
<rect x="131.36" y="300.32" width="0.80" height="2.27" fill="#0000ff"/>
<rect x="131.36" y="282.12" width="0.80" height="2.27" fill="#2846b4"/>
<rect x="131.36" y="488.92" width="0.80" height="2.27" fill="#468c6e"/>
<rect x="132.20" y="302.34" width="0.80" height="2.27" fill="#78d228"/>
<rect x="132.20" y="509.14" width="0.80" height="2.27" fill="#ff7800"/>
<rect x="132.20" y="298.30" width="0.80" height="2.27" fill="#468c6e"/>
<rect x="132.20" y="505.10" width="0.80" height="2.27" fill="#ffb400"/>
<rect x="133.88" y="300.32" width="0.80" height="2.27" fill="#2846b4"/>
<rect x="133.88" y="507.12" width="0.80" height="2.27" fill="#78d228"/>
<rect x="134.72" y="302.34" width="0.80" height="2.27" fill="#2846b4"/>
<rect x="136.40" y="304.36" width="0.80" height="2.27" fill="#0000ff"/>
<rect x="136.40" y="511.16" width="0.80" height="2.27" fill="#c8c8be"/>
<rect x="136.40" y="302.34" width="0.80" height="2.27" fill="#2846b4"/>
<rect x="136.40" y="509.14" width="0.80" height="2.27" fill="#78d228"/>
<rect x="136.40" y="298.30" width="0.80" height="2.27" fill="#2846b4"/>
<rect x="136.40" y="505.10" width="0.80" height="2.27" fill="#ffb400"/>
<rect x="138.92" y="304.36" width="0.80" height="2.27" fill="#468c6e"/>
<rect x="138.92" y="300.32" width="0.80" height="2.27" fill="#c8c8be"/>
<rect x="138.92" y="507.12" width="0.80" height="2.27" fill="#c8c8be"/>
<rect x="140.60" y="304.36" width="0.80" height="2.27" fill="#78d228"/>
<rect x="140.60" y="300.32" width="0.80" height="2.27" fill="#2846b4"/>
<rect x="140.60" y="507.12" width="0.80" height="2.27" fill="#c8c8be"/>
<rect x="143.12" y="304.36" width="0.80" height="2.27" fill="#2846b4"/>
<rect x="143.96" y="304.36" width="0.80" height="2.27" fill="#2846b4"/>
<rect x="143.96" y="302.34" width="0.80" height="2.27" fill="#2846b4"/>
<rect x="144.80" y="304.36" width="0.80" height="2.27" fill="#2846b4"/>
<rect x="144.80" y="511.16" width="0.80" height="2.27" fill="#78d228"/>
<rect x="145.64" y="304.36" width="0.80" height="2.27" fill="#2846b4"/>
<rect x="145.64" y="511.16" width="0.80" height="2.27" fill="#c8c8be"/>
<rect x="145.64" y="302.34" width="0.80" height="2.27" fill="#0000ff"/>
<rect x="145.64" y="300.32" width="0.80" height="2.27" fill="#ffb400"/>
<rect x="146.48" y="304.36" width="0.80" height="2.27" fill="#c8c8be"/>
<rect x="146.48" y="511.16" width="0.80" height="2.27" fill="#78d228"/>
<rect x="147.32" y="302.34" width="0.80" height="2.27" fill="#2846b4"/>
<rect x="147.32" y="509.14" width="0.80" height="2.27" fill="#c8c8be"/>
<rect x="148.16" y="304.36" width="0.80" height="2.27" fill="#2846b4"/>
<rect x="148.16" y="282.12" width="0.80" height="2.27" fill="#ffb400"/>
<rect x="148.16" y="488.92" width="0.80" height="2.27" fill="#ff7800"/>
<rect x="149.00" y="296.28" width="0.80" height="2.27" fill="#468c6e"/>
<rect x="149.84" y="304.36" width="0.80" height="2.27" fill="#468c6e"/>
<rect x="149.84" y="511.16" width="0.80" height="2.27" fill="#c8c8be"/>
<rect x="150.68" y="302.34" width="0.80" height="2.27" fill="#2846b4"/>
<rect x="150.68" y="509.14" width="0.80" height="2.27" fill="#78d228"/>
<rect x="151.52" y="302.34" width="0.80" height="2.27" fill="#468c6e"/>
<rect x="151.52" y="509.14" width="0.80" height="2.27" fill="#78d228"/>
<rect x="153.20" y="304.36" width="0.80" height="2.27" fill="#ff7800"/>
<rect x="153.20" y="511.16" width="0.80" height="2.27" fill="#c8c8be"/>
<rect x="153.20" y="298.30" width="0.80" height="2.27" fill="#78d228"/>
<rect x="153.20" y="505.10" width="0.80" height="2.27" fill="#c8c8be"/>
<rect x="154.04" y="304.36" width="0.80" height="2.27" fill="#ffb400"/>
<rect x="154.04" y="511.16" width="0.80" height="2.27" fill="#78d228"/>
<rect x="155.72" y="304.36" width="0.80" height="2.27" fill="#2846b4"/>
<rect x="155.72" y="292.23" width="0.80" height="2.27" fill="#2846b4"/>
<rect x="155.72" y="499.03" width="0.80" height="2.27" fill="#c8c8be"/>
<rect x="156.56" y="302.34" width="0.80" height="2.27" fill="#ff7800"/>
<rect x="156.56" y="509.14" width="0.80" height="2.27" fill="#c8c8be"/>
<rect x="156.56" y="282.12" width="0.80" height="2.27" fill="#468c6e"/>
<rect x="156.56" y="488.92" width="0.80" height="2.27" fill="#ffb400"/>
<rect x="157.40" y="302.34" width="0.80" height="2.27" fill="#0000ff"/>
<rect x="157.40" y="509.14" width="0.80" height="2.27" fill="#c8c8be"/>
<rect x="158.24" y="304.36" width="0.80" height="2.27" fill="#2846b4"/>
<rect x="158.24" y="511.16" width="0.80" height="2.27" fill="#78d228"/>
<rect x="158.24" y="302.34" width="0.80" height="2.27" fill="#78d228"/>
<rect x="158.24" y="509.14" width="0.80" height="2.27" fill="#78d228"/>
<rect x="158.24" y="300.32" width="0.80" height="2.27" fill="#0000ff"/>
<rect x="159.08" y="294.25" width="0.80" height="2.27" fill="#0000ff"/>
<rect x="159.92" y="304.36" width="0.80" height="2.27" fill="#0000ff"/>
<rect x="159.92" y="511.16" width="0.80" height="2.27" fill="#c8c8be"/>
<rect x="159.92" y="302.34" width="0.80" height="2.27" fill="#2846b4"/>
<rect x="159.92" y="509.14" width="0.80" height="2.27" fill="#ffb400"/>
<rect x="159.92" y="300.32" width="0.80" height="2.27" fill="#2846b4"/>
<rect x="159.92" y="507.12" width="0.80" height="2.27" fill="#c8c8be"/>
<rect x="160.76" y="304.36" width="0.80" height="2.27" fill="#468c6e"/>
<rect x="160.76" y="511.16" width="0.80" height="2.27" fill="#78d228"/>
<rect x="162.44" y="304.36" width="0.80" height="2.27" fill="#2846b4"/>
<rect x="162.44" y="511.16" width="0.80" height="2.27" fill="#78d228"/>
<rect x="162.44" y="302.34" width="0.80" height="2.27" fill="#2846b4"/>
<rect x="162.44" y="509.14" width="0.80" height="2.27" fill="#ffb400"/>
<rect x="164.96" y="304.36" width="0.80" height="2.27" fill="#2846b4"/>
<rect x="164.96" y="511.16" width="0.80" height="2.27" fill="#c8c8be"/>
<rect x="165.80" y="304.36" width="0.80" height="2.27" fill="#c8c8be"/>
<rect x="165.80" y="511.16" width="0.80" height="2.27" fill="#78d228"/>
<rect x="167.48" y="304.36" width="0.80" height="2.27" fill="#468c6e"/>
<rect x="167.48" y="511.16" width="0.80" height="2.27" fill="#78d228"/>
<rect x="167.48" y="302.34" width="0.80" height="2.27" fill="#2846b4"/>
<rect x="168.32" y="300.32" width="0.80" height="2.27" fill="#468c6e"/>
<rect x="168.32" y="507.12" width="0.80" height="2.27" fill="#c8c8be"/>
<rect x="168.32" y="292.23" width="0.80" height="2.27" fill="#468c6e"/>
<rect x="168.32" y="499.03" width="0.80" height="2.27" fill="#ffb400"/>
<rect x="169.16" y="304.36" width="0.80" height="2.27" fill="#c8c8be"/>
<rect x="169.16" y="511.16" width="0.80" height="2.27" fill="#c8c8be"/>
<rect x="170.00" y="304.36" width="0.80" height="2.27" fill="#2846b4"/>
<rect x="170.00" y="511.16" width="0.80" height="2.27" fill="#c8c8be"/>
<rect x="170.00" y="300.32" width="0.80" height="2.27" fill="#78d228"/>
<rect x="170.00" y="507.12" width="0.80" height="2.27" fill="#ffb400"/>
<rect x="170.84" y="304.36" width="0.80" height="2.27" fill="#78d228"/>
<rect x="170.84" y="511.16" width="0.80" height="2.27" fill="#78d228"/>
<rect x="171.68" y="302.34" width="0.80" height="2.27" fill="#0000ff"/>
<rect x="171.68" y="509.14" width="0.80" height="2.27" fill="#c8c8be"/>
<rect x="171.68" y="298.30" width="0.80" height="2.27" fill="#78d228"/>
<rect x="172.52" y="304.36" width="0.80" height="2.27" fill="#78d228"/>
<rect x="172.52" y="284.15" width="0.80" height="2.27" fill="#2846b4"/>
<rect x="172.52" y="490.95" width="0.80" height="2.27" fill="#78d228"/>
<rect x="174.20" y="302.34" width="0.80" height="2.27" fill="#2846b4"/>
<rect x="174.20" y="509.14" width="0.80" height="2.27" fill="#78d228"/>
<rect x="176.72" y="300.32" width="0.80" height="2.27" fill="#0000ff"/>
<rect x="176.72" y="507.12" width="0.80" height="2.27" fill="#78d228"/>
<rect x="178.40" y="300.32" width="0.80" height="2.27" fill="#2846b4"/>
<rect x="178.40" y="507.12" width="0.80" height="2.27" fill="#ffb400"/>
<rect x="178.40" y="296.28" width="0.80" height="2.27" fill="#2846b4"/>
<rect x="178.40" y="503.08" width="0.80" height="2.27" fill="#ffb400"/>
<rect x="179.24" y="302.34" width="0.80" height="2.27" fill="#2846b4"/>
<rect x="179.24" y="509.14" width="0.80" height="2.27" fill="#c8c8be"/>
<rect x="180.08" y="304.36" width="0.80" height="2.27" fill="#2846b4"/>
<rect x="180.08" y="511.16" width="0.80" height="2.27" fill="#c8c8be"/>
<rect x="180.92" y="304.36" width="0.80" height="2.27" fill="#0000ff"/>
<rect x="180.92" y="511.16" width="0.80" height="2.27" fill="#ff7800"/>
<rect x="181.76" y="298.30" width="0.80" height="2.27" fill="#0000ff"/>
<rect x="182.60" y="304.36" width="0.80" height="2.27" fill="#2846b4"/>
<rect x="182.60" y="511.16" width="0.80" height="2.27" fill="#ffb400"/>
<rect x="182.60" y="302.34" width="0.80" height="2.27" fill="#0000ff"/>
<rect x="182.60" y="509.14" width="0.80" height="2.27" fill="#ffb400"/>
<rect x="184.28" y="304.36" width="0.80" height="2.27" fill="#468c6e"/>
<rect x="184.28" y="511.16" width="0.80" height="2.27" fill="#78d228"/>
<rect x="185.12" y="302.34" width="0.80" height="2.27" fill="#2846b4"/>
<rect x="185.12" y="509.14" width="0.80" height="2.27" fill="#c8c8be"/>
<rect x="185.96" y="304.36" width="0.80" height="2.27" fill="#2846b4"/>
<rect x="185.96" y="511.16" width="0.80" height="2.27" fill="#78d228"/>
<rect x="188.48" y="302.34" width="0.80" height="2.27" fill="#2846b4"/>
<rect x="188.48" y="509.14" width="0.80" height="2.27" fill="#78d228"/>
<rect x="189.32" y="300.32" width="0.80" height="2.27" fill="#ff0000"/>
<rect x="189.32" y="507.12" width="0.80" height="2.27" fill="#c8c8be"/>
<rect x="190.16" y="304.36" width="0.80" height="2.27" fill="#2846b4"/>
<rect x="190.16" y="511.16" width="0.80" height="2.27" fill="#78d228"/>
<rect x="191.00" y="302.34" width="0.80" height="2.27" fill="#0000ff"/>
<rect x="191.00" y="509.14" width="0.80" height="2.27" fill="#ffb400"/>
<rect x="191.84" y="304.36" width="0.80" height="2.27" fill="#2846b4"/>
<rect x="191.84" y="511.16" width="0.80" height="2.27" fill="#78d228"/>
<rect x="192.68" y="304.36" width="0.80" height="2.27" fill="#468c6e"/>
<rect x="193.52" y="302.34" width="0.80" height="2.27" fill="#468c6e"/>
<rect x="194.36" y="304.36" width="0.80" height="2.27" fill="#2846b4"/>
<rect x="194.36" y="511.16" width="0.80" height="2.27" fill="#ffb400"/>
<rect x="194.36" y="300.32" width="0.80" height="2.27" fill="#ff0000"/>
<rect x="194.36" y="507.12" width="0.80" height="2.27" fill="#c8c8be"/>
<rect x="195.20" y="302.34" width="0.80" height="2.27" fill="#0000ff"/>
<rect x="195.20" y="509.14" width="0.80" height="2.27" fill="#78d228"/>
<rect x="196.04" y="304.36" width="0.80" height="2.27" fill="#ffb400"/>
<rect x="196.04" y="511.16" width="0.80" height="2.27" fill="#c8c8be"/>
<rect x="196.04" y="298.30" width="0.80" height="2.27" fill="#2846b4"/>
<rect x="196.04" y="505.10" width="0.80" height="2.27" fill="#c8c8be"/>
<rect x="197.72" y="302.34" width="0.80" height="2.27" fill="#468c6e"/>
<rect x="197.72" y="509.14" width="0.80" height="2.27" fill="#ffb400"/>
<rect x="199.40" y="300.32" width="0.80" height="2.27" fill="#2846b4"/>
<rect x="199.40" y="507.12" width="0.80" height="2.27" fill="#78d228"/>
<rect x="201.08" y="300.32" width="0.80" height="2.27" fill="#2846b4"/>
<rect x="201.08" y="507.12" width="0.80" height="2.27" fill="#c8c8be"/>
<rect x="202.76" y="304.36" width="0.80" height="2.27" fill="#0000ff"/>
<rect x="202.76" y="300.32" width="0.80" height="2.27" fill="#2846b4"/>
<rect x="202.76" y="507.12" width="0.80" height="2.27" fill="#ffb400"/>
<rect x="205.28" y="304.36" width="0.80" height="2.27" fill="#468c6e"/>
<rect x="205.28" y="511.16" width="0.80" height="2.27" fill="#78d228"/>
<rect x="205.28" y="302.34" width="0.80" height="2.27" fill="#468c6e"/>
<rect x="205.28" y="509.14" width="0.80" height="2.27" fill="#78d228"/>
<rect x="206.96" y="304.36" width="0.80" height="2.27" fill="#2846b4"/>
<rect x="206.96" y="511.16" width="0.80" height="2.27" fill="#c8c8be"/>
<rect x="208.64" y="304.36" width="0.80" height="2.27" fill="#0000ff"/>
<rect x="208.64" y="511.16" width="0.80" height="2.27" fill="#c8c8be"/>
<rect x="208.64" y="298.30" width="0.80" height="2.27" fill="#0000ff"/>
<rect x="209.48" y="296.28" width="0.80" height="2.27" fill="#2846b4"/>
<rect x="209.48" y="503.08" width="0.80" height="2.27" fill="#78d228"/>
<rect x="210.32" y="304.36" width="0.80" height="2.27" fill="#0000ff"/>
<rect x="210.32" y="511.16" width="0.80" height="2.27" fill="#78d228"/>
<rect x="210.32" y="300.32" width="0.80" height="2.27" fill="#0000ff"/>
<rect x="210.32" y="507.12" width="0.80" height="2.27" fill="#ffb400"/>
<rect x="212.00" y="302.34" width="0.80" height="2.27" fill="#0000ff"/>
<rect x="212.00" y="509.14" width="0.80" height="2.27" fill="#468c6e"/>
<rect x="212.84" y="298.30" width="0.80" height="2.27" fill="#2846b4"/>
<rect x="212.84" y="505.10" width="0.80" height="2.27" fill="#78d228"/>
<rect x="213.68" y="304.36" width="0.80" height="2.27" fill="#2846b4"/>
<rect x="214.52" y="300.32" width="0.80" height="2.27" fill="#ff7800"/>
<rect x="214.52" y="507.12" width="0.80" height="2.27" fill="#c8c8be"/>
<rect x="216.20" y="300.32" width="0.80" height="2.27" fill="#2846b4"/>
<rect x="216.20" y="294.25" width="0.80" height="2.27" fill="#468c6e"/>
<rect x="216.20" y="501.05" width="0.80" height="2.27" fill="#c8c8be"/>
<rect x="217.88" y="300.32" width="0.80" height="2.27" fill="#2846b4"/>
<rect x="218.72" y="302.34" width="0.80" height="2.27" fill="#2846b4"/>
<rect x="218.72" y="509.14" width="0.80" height="2.27" fill="#ffb400"/>
<rect x="219.56" y="302.34" width="0.80" height="2.27" fill="#2846b4"/>
<rect x="219.56" y="509.14" width="0.80" height="2.27" fill="#c8c8be"/>
<rect x="220.40" y="302.34" width="0.80" height="2.27" fill="#468c6e"/>
<rect x="220.40" y="509.14" width="0.80" height="2.27" fill="#c8c8be"/>
<rect x="220.40" y="298.30" width="0.80" height="2.27" fill="#2846b4"/>
<rect x="220.40" y="505.10" width="0.80" height="2.27" fill="#c8c8be"/>
<rect x="221.24" y="302.34" width="0.80" height="2.27" fill="#468c6e"/>
<rect x="221.24" y="300.32" width="0.80" height="2.27" fill="#78d228"/>
<rect x="221.24" y="507.12" width="0.80" height="2.27" fill="#78d228"/>
<rect x="221.24" y="298.30" width="0.80" height="2.27" fill="#2846b4"/>
<rect x="221.24" y="505.10" width="0.80" height="2.27" fill="#78d228"/>
<rect x="222.92" y="304.36" width="0.80" height="2.27" fill="#ff0000"/>
<rect x="222.92" y="511.16" width="0.80" height="2.27" fill="#ffb400"/>
<rect x="226.28" y="304.36" width="0.80" height="2.27" fill="#2846b4"/>
<rect x="226.28" y="511.16" width="0.80" height="2.27" fill="#c8c8be"/>
<rect x="226.28" y="294.25" width="0.80" height="2.27" fill="#468c6e"/>
<rect x="227.12" y="304.36" width="0.80" height="2.27" fill="#78d228"/>
<rect x="227.12" y="511.16" width="0.80" height="2.27" fill="#c8c8be"/>
<rect x="227.96" y="304.36" width="0.80" height="2.27" fill="#c8c8be"/>
<rect x="227.96" y="511.16" width="0.80" height="2.27" fill="#78d228"/>
<rect x="227.96" y="302.34" width="0.80" height="2.27" fill="#2846b4"/>
<rect x="227.96" y="509.14" width="0.80" height="2.27" fill="#c8c8be"/>
<rect x="228.80" y="304.36" width="0.80" height="2.27" fill="#2846b4"/>
<rect x="228.80" y="511.16" width="0.80" height="2.27" fill="#78d228"/>
<rect x="228.80" y="302.34" width="0.80" height="2.27" fill="#2846b4"/>
<rect x="228.80" y="509.14" width="0.80" height="2.27" fill="#c8c8be"/>
<rect x="232.16" y="302.34" width="0.80" height="2.27" fill="#0000ff"/>
<rect x="233.00" y="304.36" width="0.80" height="2.27" fill="#ffb400"/>
<rect x="233.00" y="511.16" width="0.80" height="2.27" fill="#78d228"/>
<rect x="233.00" y="300.32" width="0.80" height="2.27" fill="#468c6e"/>
<rect x="233.00" y="507.12" width="0.80" height="2.27" fill="#78d228"/>
<rect x="233.00" y="290.21" width="0.80" height="2.27" fill="#2846b4"/>
<rect x="233.00" y="497.01" width="0.80" height="2.27" fill="#78d228"/>
<rect x="233.84" y="304.36" width="0.80" height="2.27" fill="#2846b4"/>
<rect x="233.84" y="300.32" width="0.80" height="2.27" fill="#2846b4"/>
<rect x="233.84" y="507.12" width="0.80" height="2.27" fill="#78d228"/>
<rect x="233.84" y="294.25" width="0.80" height="2.27" fill="#2846b4"/>
<rect x="233.84" y="501.05" width="0.80" height="2.27" fill="#78d228"/>
<rect x="235.52" y="304.36" width="0.80" height="2.27" fill="#0000ff"/>
<rect x="235.52" y="511.16" width="0.80" height="2.27" fill="#78d228"/>
<rect x="235.52" y="296.28" width="0.80" height="2.27" fill="#2846b4"/>
<rect x="235.52" y="503.08" width="0.80" height="2.27" fill="#78d228"/>
<rect x="236.36" y="304.36" width="0.80" height="2.27" fill="#c8c8be"/>
<rect x="236.36" y="511.16" width="0.80" height="2.27" fill="#ffb400"/>
<rect x="236.36" y="300.32" width="0.80" height="2.27" fill="#2846b4"/>
<rect x="236.36" y="507.12" width="0.80" height="2.27" fill="#c8c8be"/>
<rect x="237.20" y="304.36" width="0.80" height="2.27" fill="#468c6e"/>
<rect x="237.20" y="511.16" width="0.80" height="2.27" fill="#78d228"/>
<rect x="237.20" y="298.30" width="0.80" height="2.27" fill="#ff7800"/>
<rect x="238.04" y="304.36" width="0.80" height="2.27" fill="#ffb400"/>
<rect x="238.88" y="302.34" width="0.80" height="2.27" fill="#2846b4"/>
<rect x="238.88" y="509.14" width="0.80" height="2.27" fill="#ffb400"/>
<rect x="240.56" y="302.34" width="0.80" height="2.27" fill="#0000ff"/>
<rect x="240.56" y="509.14" width="0.80" height="2.27" fill="#c8c8be"/>
<rect x="241.40" y="302.34" width="0.80" height="2.27" fill="#0000ff"/>
<rect x="242.24" y="304.36" width="0.80" height="2.27" fill="#468c6e"/>
<rect x="242.24" y="511.16" width="0.80" height="2.27" fill="#c8c8be"/>
<rect x="243.92" y="300.32" width="0.80" height="2.27" fill="#ff7800"/>
<rect x="243.92" y="507.12" width="0.80" height="2.27" fill="#78d228"/>
<rect x="243.92" y="298.30" width="0.80" height="2.27" fill="#78d228"/>
<rect x="243.92" y="505.10" width="0.80" height="2.27" fill="#c8c8be"/>
<rect x="244.76" y="298.30" width="0.80" height="2.27" fill="#468c6e"/>
<rect x="244.76" y="505.10" width="0.80" height="2.27" fill="#c8c8be"/>
<rect x="245.60" y="304.36" width="0.80" height="2.27" fill="#78d228"/>
<rect x="245.60" y="511.16" width="0.80" height="2.27" fill="#78d228"/>
<rect x="247.28" y="304.36" width="0.80" height="2.27" fill="#ffb400"/>
<rect x="247.28" y="511.16" width="0.80" height="2.27" fill="#c8c8be"/>
<rect x="247.28" y="302.34" width="0.80" height="2.27" fill="#2846b4"/>
<rect x="247.28" y="509.14" width="0.80" height="2.27" fill="#ffb400"/>
<rect x="247.28" y="284.15" width="0.80" height="2.27" fill="#2846b4"/>
<rect x="248.12" y="304.36" width="0.80" height="2.27" fill="#2846b4"/>
<rect x="248.12" y="511.16" width="0.80" height="2.27" fill="#c8c8be"/>
<rect x="248.12" y="302.34" width="0.80" height="2.27" fill="#2846b4"/>
<rect x="248.12" y="298.30" width="0.80" height="2.27" fill="#78d228"/>
<rect x="248.12" y="505.10" width="0.80" height="2.27" fill="#78d228"/>
<rect x="248.96" y="302.34" width="0.80" height="2.27" fill="#78d228"/>
<rect x="248.96" y="300.32" width="0.80" height="2.27" fill="#2846b4"/>
<rect x="248.96" y="507.12" width="0.80" height="2.27" fill="#c8c8be"/>
<rect x="251.48" y="304.36" width="0.80" height="2.27" fill="#0000ff"/>
<rect x="251.48" y="511.16" width="0.80" height="2.27" fill="#78d228"/>
<rect x="254.00" y="302.34" width="0.80" height="2.27" fill="#2846b4"/>
<rect x="254.00" y="509.14" width="0.80" height="2.27" fill="#ffb400"/>
<rect x="254.84" y="302.34" width="0.80" height="2.27" fill="#2846b4"/>
<rect x="255.68" y="304.36" width="0.80" height="2.27" fill="#0000ff"/>
<rect x="255.68" y="511.16" width="0.80" height="2.27" fill="#468c6e"/>
<rect x="256.52" y="298.30" width="0.80" height="2.27" fill="#2846b4"/>
<rect x="256.52" y="505.10" width="0.80" height="2.27" fill="#c8c8be"/>
<rect x="258.20" y="300.32" width="0.80" height="2.27" fill="#2846b4"/>
<rect x="258.20" y="507.12" width="0.80" height="2.27" fill="#78d228"/>
<rect x="259.88" y="304.36" width="0.80" height="2.27" fill="#2846b4"/>
<rect x="259.88" y="511.16" width="0.80" height="2.27" fill="#78d228"/>
<rect x="260.72" y="300.32" width="0.80" height="2.27" fill="#78d228"/>
<rect x="260.72" y="507.12" width="0.80" height="2.27" fill="#78d228"/>
<rect x="263.24" y="304.36" width="0.80" height="2.27" fill="#2846b4"/>
<rect x="263.24" y="511.16" width="0.80" height="2.27" fill="#78d228"/>
<rect x="263.24" y="300.32" width="0.80" height="2.27" fill="#0000ff"/>
<rect x="263.24" y="296.28" width="0.80" height="2.27" fill="#2846b4"/>
<rect x="263.24" y="503.08" width="0.80" height="2.27" fill="#78d228"/>
<rect x="264.08" y="304.36" width="0.80" height="2.27" fill="#2846b4"/>
<rect x="264.08" y="511.16" width="0.80" height="2.27" fill="#ffb400"/>
<rect x="264.92" y="304.36" width="0.80" height="2.27" fill="#78d228"/>
<rect x="264.92" y="511.16" width="0.80" height="2.27" fill="#78d228"/>
<rect x="265.76" y="304.36" width="0.80" height="2.27" fill="#2846b4"/>
<rect x="265.76" y="511.16" width="0.80" height="2.27" fill="#ffb400"/>
<rect x="268.28" y="302.34" width="0.80" height="2.27" fill="#2846b4"/>
<rect x="268.28" y="509.14" width="0.80" height="2.27" fill="#78d228"/>
<rect x="269.12" y="304.36" width="0.80" height="2.27" fill="#2846b4"/>
<rect x="269.96" y="300.32" width="0.80" height="2.27" fill="#2846b4"/>
<rect x="269.96" y="507.12" width="0.80" height="2.27" fill="#c8c8be"/>
<rect x="270.80" y="298.30" width="0.80" height="2.27" fill="#468c6e"/>
<rect x="270.80" y="505.10" width="0.80" height="2.27" fill="#78d228"/>
<rect x="272.48" y="302.34" width="0.80" height="2.27" fill="#0000ff"/>
<rect x="272.48" y="509.14" width="0.80" height="2.27" fill="#78d228"/>
<rect x="272.48" y="300.32" width="0.80" height="2.27" fill="#0000ff"/>
<rect x="272.48" y="507.12" width="0.80" height="2.27" fill="#78d228"/>
<rect x="272.48" y="284.15" width="0.80" height="2.27" fill="#468c6e"/>
<rect x="276.68" y="300.32" width="0.80" height="2.27" fill="#78d228"/>
<rect x="277.52" y="304.36" width="0.80" height="2.27" fill="#2846b4"/>
<rect x="277.52" y="511.16" width="0.80" height="2.27" fill="#78d228"/>
<rect x="277.52" y="300.32" width="0.80" height="2.27" fill="#2846b4"/>
<rect x="277.52" y="507.12" width="0.80" height="2.27" fill="#78d228"/>
<rect x="279.20" y="304.36" width="0.80" height="2.27" fill="#2846b4"/>
<rect x="279.20" y="511.16" width="0.80" height="2.27" fill="#c8c8be"/>
<rect x="280.04" y="304.36" width="0.80" height="2.27" fill="#468c6e"/>
<rect x="284.24" y="304.36" width="0.80" height="2.27" fill="#78d228"/>
<rect x="284.24" y="511.16" width="0.80" height="2.27" fill="#ffb400"/>
<rect x="284.24" y="302.34" width="0.80" height="2.27" fill="#2846b4"/>
<rect x="284.24" y="509.14" width="0.80" height="2.27" fill="#c8c8be"/>
<rect x="285.08" y="304.36" width="0.80" height="2.27" fill="#468c6e"/>
<rect x="285.08" y="511.16" width="0.80" height="2.27" fill="#ffb400"/>
<rect x="287.60" y="288.19" width="0.80" height="2.27" fill="#468c6e"/>
<rect x="289.28" y="304.36" width="0.80" height="2.27" fill="#78d228"/>
<rect x="289.28" y="511.16" width="0.80" height="2.27" fill="#78d228"/>
<rect x="289.28" y="300.32" width="0.80" height="2.27" fill="#468c6e"/>
<rect x="289.28" y="507.12" width="0.80" height="2.27" fill="#468c6e"/>
<rect x="290.12" y="304.36" width="0.80" height="2.27" fill="#78d228"/>
<rect x="290.12" y="302.34" width="0.80" height="2.27" fill="#2846b4"/>
<rect x="290.12" y="509.14" width="0.80" height="2.27" fill="#c8c8be"/>
<rect x="293.48" y="304.36" width="0.80" height="2.27" fill="#0000ff"/>
<rect x="296.00" y="304.36" width="0.80" height="2.27" fill="#2846b4"/>
<rect x="299.36" y="302.34" width="0.80" height="2.27" fill="#0000ff"/>
<rect x="301.04" y="302.34" width="0.80" height="2.27" fill="#2846b4"/>
<rect x="301.04" y="509.14" width="0.80" height="2.27" fill="#78d228"/>
<rect x="303.56" y="304.36" width="0.80" height="2.27" fill="#2846b4"/>
<rect x="303.56" y="511.16" width="0.80" height="2.27" fill="#c8c8be"/>
<rect x="304.40" y="304.36" width="0.80" height="2.27" fill="#0000ff"/>
<rect x="304.40" y="511.16" width="0.80" height="2.27" fill="#78d228"/>
<rect x="305.24" y="296.28" width="0.80" height="2.27" fill="#2846b4"/>
<rect x="305.24" y="503.08" width="0.80" height="2.27" fill="#ffb400"/>
<rect x="306.08" y="304.36" width="0.80" height="2.27" fill="#0000ff"/>
<rect x="306.92" y="304.36" width="0.80" height="2.27" fill="#2846b4"/>
<rect x="306.92" y="511.16" width="0.80" height="2.27" fill="#78d228"/>
<rect x="307.76" y="304.36" width="0.80" height="2.27" fill="#2846b4"/>
<rect x="307.76" y="511.16" width="0.80" height="2.27" fill="#c8c8be"/>
<rect x="308.60" y="304.36" width="0.80" height="2.27" fill="#0000ff"/>
<rect x="308.60" y="511.16" width="0.80" height="2.27" fill="#78d228"/>
<rect x="308.60" y="302.34" width="0.80" height="2.27" fill="#0000ff"/>
<rect x="311.12" y="302.34" width="0.80" height="2.27" fill="#0000ff"/>
<rect x="311.12" y="509.14" width="0.80" height="2.27" fill="#c8c8be"/>
<rect x="311.96" y="282.12" width="0.80" height="2.27" fill="#2846b4"/>
<rect x="311.96" y="488.92" width="0.80" height="2.27" fill="#78d228"/>
<rect x="312.80" y="304.36" width="0.80" height="2.27" fill="#2846b4"/>
<rect x="313.64" y="304.36" width="0.80" height="2.27" fill="#2846b4"/>
<rect x="313.64" y="511.16" width="0.80" height="2.27" fill="#ffb400"/>
<rect x="314.48" y="304.36" width="0.80" height="2.27" fill="#2846b4"/>
<rect x="314.48" y="511.16" width="0.80" height="2.27" fill="#78d228"/>
<rect x="314.48" y="300.32" width="0.80" height="2.27" fill="#2846b4"/>
<rect x="314.48" y="507.12" width="0.80" height="2.27" fill="#c8c8be"/>
<rect x="316.16" y="302.34" width="0.80" height="2.27" fill="#ffb400"/>
<rect x="316.16" y="509.14" width="0.80" height="2.27" fill="#ffb400"/>
<rect x="316.16" y="300.32" width="0.80" height="2.27" fill="#0000ff"/>
<rect x="317.00" y="288.19" width="0.80" height="2.27" fill="#ffb400"/>
<rect x="317.00" y="494.99" width="0.80" height="2.27" fill="#78d228"/>
<rect x="317.84" y="300.32" width="0.80" height="2.27" fill="#2846b4"/>
<rect x="318.68" y="304.36" width="0.80" height="2.27" fill="#2846b4"/>
<rect x="318.68" y="298.30" width="0.80" height="2.27" fill="#2846b4"/>
<rect x="318.68" y="505.10" width="0.80" height="2.27" fill="#c8c8be"/>
<rect x="319.52" y="304.36" width="0.80" height="2.27" fill="#ffb400"/>
<rect x="322.88" y="302.34" width="0.80" height="2.27" fill="#78d228"/>
<rect x="322.88" y="509.14" width="0.80" height="2.27" fill="#78d228"/>
<rect x="322.88" y="298.30" width="0.80" height="2.27" fill="#0000ff"/>
<rect x="322.88" y="505.10" width="0.80" height="2.27" fill="#78d228"/>
<rect x="324.56" y="304.36" width="0.80" height="2.27" fill="#2846b4"/>
<rect x="325.40" y="302.34" width="0.80" height="2.27" fill="#0000ff"/>
<rect x="325.40" y="509.14" width="0.80" height="2.27" fill="#78d228"/>
<rect x="327.08" y="304.36" width="0.80" height="2.27" fill="#2846b4"/>
<rect x="327.08" y="511.16" width="0.80" height="2.27" fill="#78d228"/>
<rect x="327.08" y="302.34" width="0.80" height="2.27" fill="#0000ff"/>
<rect x="327.08" y="509.14" width="0.80" height="2.27" fill="#c8c8be"/>
<rect x="327.92" y="302.34" width="0.80" height="2.27" fill="#ff0000"/>
<rect x="327.92" y="509.14" width="0.80" height="2.27" fill="#78d228"/>
<rect x="329.60" y="300.32" width="0.80" height="2.27" fill="#2846b4"/>
<rect x="329.60" y="507.12" width="0.80" height="2.27" fill="#78d228"/>
<rect x="329.60" y="292.23" width="0.80" height="2.27" fill="#0000ff"/>
<rect x="329.60" y="499.03" width="0.80" height="2.27" fill="#c8c8be"/>
<rect x="330.44" y="302.34" width="0.80" height="2.27" fill="#ff7800"/>
<rect x="330.44" y="509.14" width="0.80" height="2.27" fill="#ffb400"/>
<rect x="332.12" y="304.36" width="0.80" height="2.27" fill="#ffb400"/>
<rect x="332.12" y="511.16" width="0.80" height="2.27" fill="#c8c8be"/>
<rect x="335.48" y="304.36" width="0.80" height="2.27" fill="#ff0000"/>
<rect x="335.48" y="302.34" width="0.80" height="2.27" fill="#2846b4"/>
<rect x="336.32" y="304.36" width="0.80" height="2.27" fill="#468c6e"/>
<rect x="336.32" y="511.16" width="0.80" height="2.27" fill="#78d228"/>
<rect x="337.16" y="304.36" width="0.80" height="2.27" fill="#2846b4"/>
<rect x="337.16" y="511.16" width="0.80" height="2.27" fill="#78d228"/>
<rect x="338.00" y="298.30" width="0.80" height="2.27" fill="#2846b4"/>
<rect x="338.00" y="294.25" width="0.80" height="2.27" fill="#468c6e"/>
<rect x="338.00" y="501.05" width="0.80" height="2.27" fill="#78d228"/>
<rect x="338.84" y="304.36" width="0.80" height="2.27" fill="#0000ff"/>
<rect x="338.84" y="511.16" width="0.80" height="2.27" fill="#78d228"/>
<rect x="339.68" y="304.36" width="0.80" height="2.27" fill="#0000ff"/>
<rect x="339.68" y="511.16" width="0.80" height="2.27" fill="#78d228"/>
<rect x="339.68" y="302.34" width="0.80" height="2.27" fill="#0000ff"/>
<rect x="339.68" y="509.14" width="0.80" height="2.27" fill="#78d228"/>
<rect x="339.68" y="300.32" width="0.80" height="2.27" fill="#468c6e"/>
<rect x="340.52" y="300.32" width="0.80" height="2.27" fill="#2846b4"/>
<rect x="340.52" y="507.12" width="0.80" height="2.27" fill="#c8c8be"/>
<rect x="341.36" y="302.34" width="0.80" height="2.27" fill="#2846b4"/>
<rect x="341.36" y="300.32" width="0.80" height="2.27" fill="#468c6e"/>
<rect x="341.36" y="507.12" width="0.80" height="2.27" fill="#78d228"/>
<rect x="342.20" y="304.36" width="0.80" height="2.27" fill="#2846b4"/>
<rect x="342.20" y="292.23" width="0.80" height="2.27" fill="#468c6e"/>
<rect x="342.20" y="499.03" width="0.80" height="2.27" fill="#c8c8be"/>
<rect x="343.88" y="302.34" width="0.80" height="2.27" fill="#0000ff"/>
<rect x="343.88" y="282.12" width="0.80" height="2.27" fill="#2846b4"/>
<rect x="347.24" y="304.36" width="0.80" height="2.27" fill="#2846b4"/>
<rect x="347.24" y="511.16" width="0.80" height="2.27" fill="#78d228"/>
<rect x="347.24" y="302.34" width="0.80" height="2.27" fill="#2846b4"/>
<rect x="347.24" y="509.14" width="0.80" height="2.27" fill="#78d228"/>
<rect x="347.24" y="284.15" width="0.80" height="2.27" fill="#2846b4"/>
<rect x="348.08" y="302.34" width="0.80" height="2.27" fill="#2846b4"/>
<rect x="348.08" y="509.14" width="0.80" height="2.27" fill="#78d228"/>
<rect x="348.92" y="298.30" width="0.80" height="2.27" fill="#78d228"/>
<rect x="348.92" y="505.10" width="0.80" height="2.27" fill="#78d228"/>
<rect x="349.76" y="302.34" width="0.80" height="2.27" fill="#2846b4"/>
<rect x="350.60" y="298.30" width="0.80" height="2.27" fill="#2846b4"/>
<rect x="350.60" y="505.10" width="0.80" height="2.27" fill="#ffb400"/>
<rect x="351.44" y="304.36" width="0.80" height="2.27" fill="#2846b4"/>
<rect x="351.44" y="511.16" width="0.80" height="2.27" fill="#78d228"/>
<rect x="351.44" y="302.34" width="0.80" height="2.27" fill="#2846b4"/>
<rect x="355.64" y="304.36" width="0.80" height="2.27" fill="#2846b4"/>
<rect x="355.64" y="511.16" width="0.80" height="2.27" fill="#78d228"/>
<rect x="355.64" y="302.34" width="0.80" height="2.27" fill="#2846b4"/>
<rect x="355.64" y="509.14" width="0.80" height="2.27" fill="#ffb400"/>
<rect x="356.48" y="294.25" width="0.80" height="2.27" fill="#2846b4"/>
<rect x="356.48" y="501.05" width="0.80" height="2.27" fill="#78d228"/>
<rect x="358.16" y="304.36" width="0.80" height="2.27" fill="#2846b4"/>
<rect x="358.16" y="511.16" width="0.80" height="2.27" fill="#468c6e"/>
<rect x="359.00" y="298.30" width="0.80" height="2.27" fill="#78d228"/>
<rect x="359.00" y="505.10" width="0.80" height="2.27" fill="#78d228"/>
<rect x="360.68" y="304.36" width="0.80" height="2.27" fill="#2846b4"/>
<rect x="360.68" y="511.16" width="0.80" height="2.27" fill="#c8c8be"/>
<rect x="363.20" y="302.34" width="0.80" height="2.27" fill="#0000ff"/>
<rect x="364.88" y="304.36" width="0.80" height="2.27" fill="#2846b4"/>
<rect x="364.88" y="511.16" width="0.80" height="2.27" fill="#c8c8be"/>
<rect x="364.88" y="302.34" width="0.80" height="2.27" fill="#2846b4"/>
<rect x="365.72" y="302.34" width="0.80" height="2.27" fill="#0000ff"/>
<rect x="365.72" y="509.14" width="0.80" height="2.27" fill="#78d228"/>
<rect x="366.56" y="304.36" width="0.80" height="2.27" fill="#0000ff"/>
<rect x="366.56" y="511.16" width="0.80" height="2.27" fill="#78d228"/>
<rect x="368.24" y="304.36" width="0.80" height="2.27" fill="#468c6e"/>
<rect x="369.08" y="302.34" width="0.80" height="2.27" fill="#ffb400"/>
<rect x="369.08" y="509.14" width="0.80" height="2.27" fill="#78d228"/>
<rect x="369.08" y="288.19" width="0.80" height="2.27" fill="#78d228"/>
<rect x="369.08" y="494.99" width="0.80" height="2.27" fill="#78d228"/>
<rect x="369.92" y="302.34" width="0.80" height="2.27" fill="#468c6e"/>
<rect x="369.92" y="290.21" width="0.80" height="2.27" fill="#78d228"/>
<rect x="369.92" y="497.01" width="0.80" height="2.27" fill="#c8c8be"/>
<rect x="369.92" y="288.19" width="0.80" height="2.27" fill="#468c6e"/>
<rect x="369.92" y="494.99" width="0.80" height="2.27" fill="#78d228"/>
<rect x="375.80" y="302.34" width="0.80" height="2.27" fill="#2846b4"/>
<rect x="378.32" y="304.36" width="0.80" height="2.27" fill="#2846b4"/>
<rect x="378.32" y="511.16" width="0.80" height="2.27" fill="#c8c8be"/>
<rect x="384.20" y="304.36" width="0.80" height="2.27" fill="#78d228"/>
<rect x="384.20" y="511.16" width="0.80" height="2.27" fill="#468c6e"/>
<rect x="385.04" y="304.36" width="0.80" height="2.27" fill="#78d228"/>
<rect x="385.04" y="511.16" width="0.80" height="2.27" fill="#78d228"/>
<rect x="387.56" y="304.36" width="0.80" height="2.27" fill="#78d228"/>
<rect x="387.56" y="511.16" width="0.80" height="2.27" fill="#c8c8be"/>
<rect x="388.40" y="304.36" width="0.80" height="2.27" fill="#468c6e"/>
<rect x="388.40" y="511.16" width="0.80" height="2.27" fill="#c8c8be"/>
<rect x="389.24" y="304.36" width="0.80" height="2.27" fill="#ffb400"/>
<rect x="389.24" y="511.16" width="0.80" height="2.27" fill="#78d228"/>
<rect x="390.08" y="304.36" width="0.80" height="2.27" fill="#468c6e"/>
<rect x="390.08" y="511.16" width="0.80" height="2.27" fill="#78d228"/>
<rect x="390.92" y="302.34" width="0.80" height="2.27" fill="#0000ff"/>
<rect x="390.92" y="509.14" width="0.80" height="2.27" fill="#c8c8be"/>
<rect x="391.76" y="304.36" width="0.80" height="2.27" fill="#2846b4"/>
<rect x="391.76" y="302.34" width="0.80" height="2.27" fill="#468c6e"/>
<rect x="391.76" y="509.14" width="0.80" height="2.27" fill="#78d228"/>
<rect x="392.60" y="304.36" width="0.80" height="2.27" fill="#2846b4"/>
<rect x="393.44" y="304.36" width="0.80" height="2.27" fill="#2846b4"/>
<rect x="393.44" y="511.16" width="0.80" height="2.27" fill="#78d228"/>
<rect x="394.28" y="302.34" width="0.80" height="2.27" fill="#2846b4"/>
<rect x="394.28" y="509.14" width="0.80" height="2.27" fill="#78d228"/>
<rect x="395.12" y="302.34" width="0.80" height="2.27" fill="#c8c8be"/>
<rect x="395.12" y="509.14" width="0.80" height="2.27" fill="#78d228"/>
<rect x="395.12" y="300.32" width="0.80" height="2.27" fill="#c8c8be"/>
<rect x="395.12" y="507.12" width="0.80" height="2.27" fill="#c8c8be"/>
<rect x="397.64" y="304.36" width="0.80" height="2.27" fill="#468c6e"/>
<rect x="397.64" y="511.16" width="0.80" height="2.27" fill="#ffb400"/>
<rect x="399.32" y="298.30" width="0.80" height="2.27" fill="#2846b4"/>
<rect x="399.32" y="505.10" width="0.80" height="2.27" fill="#78d228"/>
<rect x="401.84" y="304.36" width="0.80" height="2.27" fill="#0000ff"/>
<rect x="401.84" y="511.16" width="0.80" height="2.27" fill="#78d228"/>
<rect x="402.68" y="304.36" width="0.80" height="2.27" fill="#2846b4"/>
<rect x="402.68" y="511.16" width="0.80" height="2.27" fill="#c8c8be"/>
<rect x="405.20" y="298.30" width="0.80" height="2.27" fill="#468c6e"/>
<rect x="405.20" y="505.10" width="0.80" height="2.27" fill="#c8c8be"/>
<rect x="411.92" y="298.30" width="0.80" height="2.27" fill="#78d228"/>
<rect x="417.80" y="304.36" width="0.80" height="2.27" fill="#2846b4"/>
<rect x="417.80" y="294.25" width="0.80" height="2.27" fill="#2846b4"/>
<rect x="417.80" y="501.05" width="0.80" height="2.27" fill="#78d228"/>
<rect x="418.64" y="304.36" width="0.80" height="2.27" fill="#ff7800"/>
<rect x="418.64" y="511.16" width="0.80" height="2.27" fill="#78d228"/>
<rect x="427.88" y="304.36" width="0.80" height="2.27" fill="#2846b4"/>
<rect x="427.88" y="511.16" width="0.80" height="2.27" fill="#c8c8be"/>
<rect x="430.40" y="304.36" width="0.80" height="2.27" fill="#0000ff"/>
<rect x="430.40" y="511.16" width="0.80" height="2.27" fill="#c8c8be"/>
<rect x="430.40" y="302.34" width="0.80" height="2.27" fill="#2846b4"/>
<rect x="430.40" y="509.14" width="0.80" height="2.27" fill="#78d228"/>
<rect x="432.08" y="304.36" width="0.80" height="2.27" fill="#2846b4"/>
<rect x="439.64" y="302.34" width="0.80" height="2.27" fill="#ffb400"/>
<rect x="442.16" y="304.36" width="0.80" height="2.27" fill="#2846b4"/>
<rect x="442.16" y="511.16" width="0.80" height="2.27" fill="#78d228"/>
<rect x="443.84" y="304.36" width="0.80" height="2.27" fill="#78d228"/>
<rect x="443.84" y="511.16" width="0.80" height="2.27" fill="#468c6e"/>
<rect x="446.36" y="304.36" width="0.80" height="2.27" fill="#468c6e"/>
<rect x="446.36" y="511.16" width="0.80" height="2.27" fill="#78d228"/>
<rect x="449.72" y="302.34" width="0.80" height="2.27" fill="#2846b4"/>
<rect x="449.72" y="509.14" width="0.80" height="2.27" fill="#78d228"/>
<rect x="452.24" y="304.36" width="0.80" height="2.27" fill="#78d228"/>
<rect x="452.24" y="511.16" width="0.80" height="2.27" fill="#c8c8be"/>
<rect x="454.76" y="304.36" width="0.80" height="2.27" fill="#2846b4"/>
<rect x="454.76" y="511.16" width="0.80" height="2.27" fill="#ffb400"/>
<rect x="454.76" y="294.25" width="0.80" height="2.27" fill="#468c6e"/>
<rect x="454.76" y="501.05" width="0.80" height="2.27" fill="#78d228"/>
<rect x="464.00" y="304.36" width="0.80" height="2.27" fill="#2846b4"/>
<rect x="466.52" y="300.32" width="0.80" height="2.27" fill="#2846b4"/>
<rect x="468.20" y="304.36" width="0.80" height="2.27" fill="#0000ff"/>
<rect x="468.20" y="511.16" width="0.80" height="2.27" fill="#78d228"/>
<rect x="471.56" y="302.34" width="0.80" height="2.27" fill="#2846b4"/>
<rect x="471.56" y="509.14" width="0.80" height="2.27" fill="#c8c8be"/>
<rect x="472.40" y="296.28" width="0.80" height="2.27" fill="#468c6e"/>
<rect x="472.40" y="503.08" width="0.80" height="2.27" fill="#78d228"/>
<rect x="474.08" y="304.36" width="0.80" height="2.27" fill="#2846b4"/>
<rect x="474.92" y="302.34" width="0.80" height="2.27" fill="#2846b4"/>
<rect x="474.92" y="509.14" width="0.80" height="2.27" fill="#78d228"/>
<rect x="475.76" y="302.34" width="0.80" height="2.27" fill="#2846b4"/>
<rect x="475.76" y="509.14" width="0.80" height="2.27" fill="#ffb400"/>
<rect x="476.60" y="304.36" width="0.80" height="2.27" fill="#2846b4"/>
<rect x="482.48" y="284.15" width="0.80" height="2.27" fill="#2846b4"/>
<rect x="482.48" y="490.95" width="0.80" height="2.27" fill="#ffb400"/>
<rect x="484.16" y="304.36" width="0.80" height="2.27" fill="#468c6e"/>
<rect x="484.16" y="511.16" width="0.80" height="2.27" fill="#78d228"/>
<rect x="485.00" y="304.36" width="0.80" height="2.27" fill="#2846b4"/>
<rect x="485.00" y="511.16" width="0.80" height="2.27" fill="#c8c8be"/>
<rect x="488.36" y="300.32" width="0.80" height="2.27" fill="#78d228"/>
<rect x="488.36" y="507.12" width="0.80" height="2.27" fill="#ffb400"/>
<rect x="489.20" y="304.36" width="0.80" height="2.27" fill="#78d228"/>
<rect x="489.20" y="511.16" width="0.80" height="2.27" fill="#c8c8be"/>
<rect x="495.08" y="304.36" width="0.80" height="2.27" fill="#2846b4"/>
<rect x="495.08" y="511.16" width="0.80" height="2.27" fill="#ffb400"/>
<rect x="495.08" y="300.32" width="0.80" height="2.27" fill="#468c6e"/>
<rect x="495.08" y="507.12" width="0.80" height="2.27" fill="#c8c8be"/>
<rect x="504.32" y="302.34" width="0.80" height="2.27" fill="#c8c8be"/>
<rect x="504.32" y="509.14" width="0.80" height="2.27" fill="#78d228"/>
<rect x="506.00" y="304.36" width="0.80" height="2.27" fill="#78d228"/>
<rect x="506.84" y="292.23" width="0.80" height="2.27" fill="#0000ff"/>
<rect x="506.84" y="499.03" width="0.80" height="2.27" fill="#78d228"/>
<rect x="507.68" y="304.36" width="0.80" height="2.27" fill="#0000ff"/>
<rect x="507.68" y="511.16" width="0.80" height="2.27" fill="#c8c8be"/>
<rect x="507.68" y="294.25" width="0.80" height="2.27" fill="#2846b4"/>
<rect x="507.68" y="501.05" width="0.80" height="2.27" fill="#ffb400"/>
<rect x="512.72" y="300.32" width="0.80" height="2.27" fill="#0000ff"/>
<rect x="512.72" y="507.12" width="0.80" height="2.27" fill="#ffb400"/>
<rect x="521.12" y="302.34" width="0.80" height="2.27" fill="#2846b4"/>
<rect x="522.80" y="304.36" width="0.80" height="2.27" fill="#0000ff"/>
<rect x="522.80" y="511.16" width="0.80" height="2.27" fill="#78d228"/>
<rect x="527.84" y="304.36" width="0.80" height="2.27" fill="#2846b4"/>
<rect x="527.84" y="511.16" width="0.80" height="2.27" fill="#c8c8be"/>
<rect x="533.72" y="304.36" width="0.80" height="2.27" fill="#2846b4"/>
<rect x="535.40" y="300.32" width="0.80" height="2.27" fill="#c8c8be"/>
<rect x="535.40" y="507.12" width="0.80" height="2.27" fill="#ffb400"/>
<rect x="537.08" y="304.36" width="0.80" height="2.27" fill="#c8c8be"/>
<rect x="537.08" y="511.16" width="0.80" height="2.27" fill="#ffb400"/>
<rect x="538.76" y="300.32" width="0.80" height="2.27" fill="#468c6e"/>
<rect x="542.96" y="304.36" width="0.80" height="2.27" fill="#c8c8be"/>
<rect x="543.80" y="302.34" width="0.80" height="2.27" fill="#2846b4"/>
<rect x="543.80" y="509.14" width="0.80" height="2.27" fill="#78d228"/>
<rect x="545.48" y="300.32" width="0.80" height="2.27" fill="#0000ff"/>
<rect x="545.48" y="507.12" width="0.80" height="2.27" fill="#78d228"/>
<rect x="546.32" y="302.34" width="0.80" height="2.27" fill="#468c6e"/>
<rect x="546.32" y="288.19" width="0.80" height="2.27" fill="#468c6e"/>
<rect x="547.16" y="304.36" width="0.80" height="2.27" fill="#0000ff"/>
<rect x="551.36" y="304.36" width="0.80" height="2.27" fill="#0000ff"/>
<rect x="551.36" y="511.16" width="0.80" height="2.27" fill="#c8c8be"/>
<rect x="551.36" y="300.32" width="0.80" height="2.27" fill="#2846b4"/>
<rect x="551.36" y="507.12" width="0.80" height="2.27" fill="#78d228"/>
<rect x="551.36" y="294.25" width="0.80" height="2.27" fill="#c8c8be"/>
<rect x="551.36" y="501.05" width="0.80" height="2.27" fill="#78d228"/>
<rect x="553.04" y="302.34" width="0.80" height="2.27" fill="#2846b4"/>
<rect x="553.04" y="300.32" width="0.80" height="2.27" fill="#2846b4"/>
<rect x="553.04" y="507.12" width="0.80" height="2.27" fill="#78d228"/>
<rect x="553.88" y="304.36" width="0.80" height="2.27" fill="#2846b4"/>
<rect x="553.88" y="511.16" width="0.80" height="2.27" fill="#78d228"/>
<rect x="554.72" y="304.36" width="0.80" height="2.27" fill="#468c6e"/>
<rect x="554.72" y="302.34" width="0.80" height="2.27" fill="#c8c8be"/>
<rect x="555.56" y="304.36" width="0.80" height="2.27" fill="#2846b4"/>
<rect x="555.56" y="511.16" width="0.80" height="2.27" fill="#c8c8be"/>
<rect x="557.24" y="296.28" width="0.80" height="2.27" fill="#2846b4"/>
<rect x="557.24" y="503.08" width="0.80" height="2.27" fill="#c8c8be"/>
<rect x="558.92" y="304.36" width="0.80" height="2.27" fill="#78d228"/>
<rect x="558.92" y="511.16" width="0.80" height="2.27" fill="#c8c8be"/>
<rect x="560.60" y="304.36" width="0.80" height="2.27" fill="#0000ff"/>
<rect x="560.60" y="511.16" width="0.80" height="2.27" fill="#ffb400"/>
<rect x="565.64" y="304.36" width="0.80" height="2.27" fill="#2846b4"/>
<rect x="565.64" y="511.16" width="0.80" height="2.27" fill="#78d228"/>
<rect x="565.64" y="302.34" width="0.80" height="2.27" fill="#468c6e"/>
<rect x="565.64" y="509.14" width="0.80" height="2.27" fill="#78d228"/>
<rect x="567.32" y="304.36" width="0.80" height="2.27" fill="#78d228"/>
<rect x="567.32" y="511.16" width="0.80" height="2.27" fill="#78d228"/>
<rect x="567.32" y="300.32" width="0.80" height="2.27" fill="#2846b4"/>
<rect x="567.32" y="507.12" width="0.80" height="2.27" fill="#c8c8be"/>
<rect x="569.00" y="302.34" width="0.80" height="2.27" fill="#468c6e"/>
<rect x="569.00" y="509.14" width="0.80" height="2.27" fill="#78d228"/>
<rect x="571.52" y="304.36" width="0.80" height="2.27" fill="#2846b4"/>
<rect x="572.36" y="298.30" width="0.80" height="2.27" fill="#ff0000"/>
<rect x="572.36" y="505.10" width="0.80" height="2.27" fill="#78d228"/>
<rect x="576.56" y="304.36" width="0.80" height="2.27" fill="#0000ff"/>
<rect x="576.56" y="511.16" width="0.80" height="2.27" fill="#ffb400"/>
<rect x="577.40" y="284.15" width="0.80" height="2.27" fill="#2846b4"/>
<rect x="577.40" y="490.95" width="0.80" height="2.27" fill="#ffb400"/>
<rect x="579.08" y="302.34" width="0.80" height="2.27" fill="#2846b4"/>
<rect x="579.08" y="509.14" width="0.80" height="2.27" fill="#468c6e"/>
<rect x="581.60" y="304.36" width="0.80" height="2.27" fill="#78d228"/>
<rect x="581.60" y="511.16" width="0.80" height="2.27" fill="#c8c8be"/>
<rect x="581.60" y="290.21" width="0.80" height="2.27" fill="#2846b4"/>
<rect x="581.60" y="497.01" width="0.80" height="2.27" fill="#78d228"/>
<rect x="587.48" y="304.36" width="0.80" height="2.27" fill="#78d228"/>
<rect x="587.48" y="511.16" width="0.80" height="2.27" fill="#78d228"/>
<rect x="587.48" y="302.34" width="0.80" height="2.27" fill="#468c6e"/>
<rect x="594.20" y="304.36" width="0.80" height="2.27" fill="#2846b4"/>
<rect x="594.20" y="511.16" width="0.80" height="2.27" fill="#ffb400"/>
<rect x="594.20" y="302.34" width="0.80" height="2.27" fill="#0000ff"/>
<rect x="594.20" y="509.14" width="0.80" height="2.27" fill="#78d228"/>
<rect x="595.04" y="300.32" width="0.80" height="2.27" fill="#0000ff"/>
<rect x="595.04" y="507.12" width="0.80" height="2.27" fill="#78d228"/>
<rect x="598.40" y="292.23" width="0.80" height="2.27" fill="#2846b4"/>
<rect x="598.40" y="499.03" width="0.80" height="2.27" fill="#ff7800"/>
<rect x="599.24" y="304.36" width="0.80" height="2.27" fill="#468c6e"/>
<rect x="599.24" y="511.16" width="0.80" height="2.27" fill="#c8c8be"/>
<rect x="600.08" y="302.34" width="0.80" height="2.27" fill="#2846b4"/>
<rect x="600.08" y="509.14" width="0.80" height="2.27" fill="#ffb400"/>
<rect x="603.44" y="294.25" width="0.80" height="2.27" fill="#78d228"/>
<rect x="603.44" y="501.05" width="0.80" height="2.27" fill="#78d228"/>
<rect x="604.28" y="304.36" width="0.80" height="2.27" fill="#ff7800"/>
<rect x="611.84" y="302.34" width="0.80" height="2.27" fill="#0000ff"/>
<rect x="614.36" y="304.36" width="0.80" height="2.27" fill="#0000ff"/>
<rect x="616.04" y="302.34" width="0.80" height="2.27" fill="#0000ff"/>
<rect x="617.72" y="304.36" width="0.80" height="2.27" fill="#0000ff"/>
<rect x="617.72" y="511.16" width="0.80" height="2.27" fill="#ffb400"/>
<rect x="622.76" y="294.25" width="0.80" height="2.27" fill="#2846b4"/>
<rect x="622.76" y="501.05" width="0.80" height="2.27" fill="#78d228"/>
<rect x="623.60" y="300.32" width="0.80" height="2.27" fill="#2846b4"/>
<rect x="623.60" y="507.12" width="0.80" height="2.27" fill="#78d228"/>
<rect x="624.44" y="302.34" width="0.80" height="2.27" fill="#ff7800"/>
<rect x="624.44" y="509.14" width="0.80" height="2.27" fill="#78d228"/>
<rect x="626.96" y="304.36" width="0.80" height="2.27" fill="#468c6e"/>
<rect x="626.96" y="302.34" width="0.80" height="2.27" fill="#2846b4"/>
<rect x="626.96" y="509.14" width="0.80" height="2.27" fill="#ffb400"/>
<rect x="627.80" y="300.32" width="0.80" height="2.27" fill="#2846b4"/>
<rect x="628.64" y="304.36" width="0.80" height="2.27" fill="#78d228"/>
<rect x="628.64" y="511.16" width="0.80" height="2.27" fill="#78d228"/>
<rect x="632.84" y="304.36" width="0.80" height="2.27" fill="#2846b4"/>
<rect x="632.84" y="511.16" width="0.80" height="2.27" fill="#c8c8be"/>
<rect x="639.56" y="298.30" width="0.80" height="2.27" fill="#2846b4"/>
<rect x="639.56" y="505.10" width="0.80" height="2.27" fill="#c8c8be"/>
<rect x="640.40" y="302.34" width="0.80" height="2.27" fill="#0000ff"/>
<rect x="640.40" y="509.14" width="0.80" height="2.27" fill="#c8c8be"/>
<rect x="640.40" y="298.30" width="0.80" height="2.27" fill="#c8c8be"/>
<rect x="640.40" y="505.10" width="0.80" height="2.27" fill="#78d228"/>
<rect x="641.24" y="302.34" width="0.80" height="2.27" fill="#2846b4"/>
<rect x="641.24" y="509.14" width="0.80" height="2.27" fill="#c8c8be"/>
<rect x="642.08" y="304.36" width="0.80" height="2.27" fill="#ffb400"/>
<rect x="642.08" y="511.16" width="0.80" height="2.27" fill="#78d228"/>
<rect x="644.60" y="304.36" width="0.80" height="2.27" fill="#0000ff"/>
<rect x="644.60" y="511.16" width="0.80" height="2.27" fill="#c8c8be"/>
<rect x="645.44" y="304.36" width="0.80" height="2.27" fill="#2846b4"/>
<rect x="645.44" y="511.16" width="0.80" height="2.27" fill="#78d228"/>
<rect x="645.44" y="300.32" width="0.80" height="2.27" fill="#0000ff"/>
<rect x="645.44" y="507.12" width="0.80" height="2.27" fill="#c8c8be"/>
<rect x="646.28" y="304.36" width="0.80" height="2.27" fill="#0000ff"/>
<rect x="646.28" y="511.16" width="0.80" height="2.27" fill="#78d228"/>
<rect x="646.28" y="302.34" width="0.80" height="2.27" fill="#0000ff"/>
<rect x="647.12" y="302.34" width="0.80" height="2.27" fill="#468c6e"/>
<rect x="647.12" y="509.14" width="0.80" height="2.27" fill="#c8c8be"/>
<rect x="647.12" y="290.21" width="0.80" height="2.27" fill="#0000ff"/>
<rect x="647.12" y="497.01" width="0.80" height="2.27" fill="#78d228"/>
<rect x="649.64" y="302.34" width="0.80" height="2.27" fill="#2846b4"/>
<rect x="649.64" y="509.14" width="0.80" height="2.27" fill="#ffb400"/>
<rect x="650.48" y="300.32" width="0.80" height="2.27" fill="#0000ff"/>
<rect x="650.48" y="507.12" width="0.80" height="2.27" fill="#78d228"/>
<rect x="653.00" y="304.36" width="0.80" height="2.27" fill="#2846b4"/>
<rect x="653.00" y="511.16" width="0.80" height="2.27" fill="#c8c8be"/>
<rect x="653.00" y="302.34" width="0.80" height="2.27" fill="#468c6e"/>
<rect x="658.88" y="304.36" width="0.80" height="2.27" fill="#2846b4"/>
<rect x="658.88" y="511.16" width="0.80" height="2.27" fill="#78d228"/>
<rect x="661.40" y="294.25" width="0.80" height="2.27" fill="#2846b4"/>
<rect x="661.40" y="501.05" width="0.80" height="2.27" fill="#78d228"/>
<rect x="662.24" y="300.32" width="0.80" height="2.27" fill="#2846b4"/>
<rect x="662.24" y="507.12" width="0.80" height="2.27" fill="#78d228"/>
<rect x="663.08" y="304.36" width="0.80" height="2.27" fill="#0000ff"/>
<rect x="663.08" y="511.16" width="0.80" height="2.27" fill="#ffb400"/>
<rect x="664.76" y="298.30" width="0.80" height="2.27" fill="#78d228"/>
<rect x="664.76" y="505.10" width="0.80" height="2.27" fill="#468c6e"/>
<rect x="666.44" y="300.32" width="0.80" height="2.27" fill="#468c6e"/>
<rect x="666.44" y="507.12" width="0.80" height="2.27" fill="#78d228"/>
<rect x="667.28" y="288.19" width="0.80" height="2.27" fill="#ff0000"/>
<rect x="668.12" y="304.36" width="0.80" height="2.27" fill="#468c6e"/>
<rect x="668.12" y="290.21" width="0.80" height="2.27" fill="#2846b4"/>
<rect x="668.12" y="497.01" width="0.80" height="2.27" fill="#78d228"/>
<rect x="668.96" y="304.36" width="0.80" height="2.27" fill="#78d228"/>
<rect x="668.96" y="511.16" width="0.80" height="2.27" fill="#ffb400"/>
<rect x="669.80" y="302.34" width="0.80" height="2.27" fill="#468c6e"/>
<rect x="669.80" y="509.14" width="0.80" height="2.27" fill="#ffb400"/>
<rect x="669.80" y="286.17" width="0.80" height="2.27" fill="#2846b4"/>
<rect x="669.80" y="492.97" width="0.80" height="2.27" fill="#78d228"/>
<rect x="671.48" y="304.36" width="0.80" height="2.27" fill="#ff7800"/>
<rect x="671.48" y="511.16" width="0.80" height="2.27" fill="#78d228"/>
<rect x="672.32" y="304.36" width="0.80" height="2.27" fill="#2846b4"/>
<rect x="672.32" y="511.16" width="0.80" height="2.27" fill="#78d228"/>
<rect x="672.32" y="302.34" width="0.80" height="2.27" fill="#0000ff"/>
<rect x="672.32" y="509.14" width="0.80" height="2.27" fill="#c8c8be"/>
<rect x="673.16" y="300.32" width="0.80" height="2.27" fill="#ffb400"/>
<rect x="673.16" y="507.12" width="0.80" height="2.27" fill="#78d228"/>
<rect x="674.00" y="304.36" width="0.80" height="2.27" fill="#2846b4"/>
<rect x="674.00" y="511.16" width="0.80" height="2.27" fill="#78d228"/>
<rect x="674.00" y="302.34" width="0.80" height="2.27" fill="#0000ff"/>
<rect x="674.00" y="509.14" width="0.80" height="2.27" fill="#ffb400"/>
<rect x="674.00" y="300.32" width="0.80" height="2.27" fill="#2846b4"/>
<rect x="674.00" y="507.12" width="0.80" height="2.27" fill="#78d228"/>
<rect x="674.84" y="298.30" width="0.80" height="2.27" fill="#2846b4"/>
<rect x="674.84" y="505.10" width="0.80" height="2.27" fill="#c8c8be"/>
<rect x="675.68" y="302.34" width="0.80" height="2.27" fill="#0000ff"/>
<rect x="675.68" y="509.14" width="0.80" height="2.27" fill="#78d228"/>
<rect x="676.52" y="300.32" width="0.80" height="2.27" fill="#0000ff"/>
<rect x="676.52" y="507.12" width="0.80" height="2.27" fill="#c8c8be"/>
<rect x="677.36" y="304.36" width="0.80" height="2.27" fill="#468c6e"/>
<rect x="677.36" y="511.16" width="0.80" height="2.27" fill="#78d228"/>
<rect x="677.36" y="302.34" width="0.80" height="2.27" fill="#2846b4"/>
<rect x="678.20" y="304.36" width="0.80" height="2.27" fill="#2846b4"/>
<rect x="678.20" y="511.16" width="0.80" height="2.27" fill="#78d228"/>
<rect x="680.72" y="300.32" width="0.80" height="2.27" fill="#ffb400"/>
<rect x="680.72" y="507.12" width="0.80" height="2.27" fill="#78d228"/>
<rect x="682.40" y="302.34" width="0.80" height="2.27" fill="#0000ff"/>
<rect x="682.40" y="509.14" width="0.80" height="2.27" fill="#78d228"/>
<rect x="683.24" y="302.34" width="0.80" height="2.27" fill="#0000ff"/>
<rect x="683.24" y="509.14" width="0.80" height="2.27" fill="#78d228"/>
<rect x="684.08" y="304.36" width="0.80" height="2.27" fill="#468c6e"/>
<rect x="684.08" y="511.16" width="0.80" height="2.27" fill="#78d228"/>
<rect x="684.92" y="304.36" width="0.80" height="2.27" fill="#2846b4"/>
<rect x="684.92" y="511.16" width="0.80" height="2.27" fill="#c8c8be"/>
<rect x="684.92" y="302.34" width="0.80" height="2.27" fill="#2846b4"/>
<rect x="685.76" y="300.32" width="0.80" height="2.27" fill="#468c6e"/>
<rect x="685.76" y="507.12" width="0.80" height="2.27" fill="#78d228"/>
<rect x="685.76" y="298.30" width="0.80" height="2.27" fill="#468c6e"/>
<rect x="685.76" y="505.10" width="0.80" height="2.27" fill="#78d228"/>
<rect x="686.60" y="304.36" width="0.80" height="2.27" fill="#ff7800"/>
<rect x="686.60" y="511.16" width="0.80" height="2.27" fill="#ff7800"/>
<rect x="688.28" y="300.32" width="0.80" height="2.27" fill="#2846b4"/>
<rect x="688.28" y="507.12" width="0.80" height="2.27" fill="#c8c8be"/>
<rect x="689.12" y="304.36" width="0.80" height="2.27" fill="#ffb400"/>
<rect x="689.12" y="511.16" width="0.80" height="2.27" fill="#78d228"/>
<rect x="689.12" y="302.34" width="0.80" height="2.27" fill="#0000ff"/>
<rect x="689.12" y="300.32" width="0.80" height="2.27" fill="#78d228"/>
<rect x="689.12" y="507.12" width="0.80" height="2.27" fill="#c8c8be"/>
<rect x="119.38" y="303.26" width="1.24" height="2.27" fill="#0000ff"/>
<rect x="119.38" y="301.24" width="1.24" height="2.27" fill="#2846b4"/>
<rect x="119.38" y="508.04" width="1.24" height="2.27" fill="#c8c8be"/>
<rect x="120.22" y="303.26" width="1.24" height="2.27" fill="#2846b4"/>
<rect x="120.22" y="301.24" width="1.24" height="2.27" fill="#2846b4"/>
<rect x="120.22" y="508.04" width="1.24" height="2.27" fill="#c8c8be"/>
<rect x="121.06" y="301.24" width="1.24" height="2.27" fill="#2846b4"/>
<rect x="121.90" y="303.26" width="1.24" height="2.27" fill="#0000ff"/>
<rect x="123.58" y="303.26" width="1.24" height="2.27" fill="#2846b4"/>
<rect x="123.58" y="301.24" width="1.24" height="2.27" fill="#0000ff"/>
<rect x="123.58" y="508.04" width="1.24" height="2.27" fill="#78d228"/>
<rect x="124.42" y="303.26" width="1.24" height="2.27" fill="#2846b4"/>
<rect x="124.42" y="510.06" width="1.24" height="2.27" fill="#78d228"/>
<rect x="124.42" y="301.24" width="1.24" height="2.27" fill="#2846b4"/>
<rect x="125.26" y="303.26" width="1.24" height="2.27" fill="#0000ff"/>
<rect x="125.26" y="301.24" width="1.24" height="2.27" fill="#0000ff"/>
<rect x="126.10" y="303.26" width="1.24" height="2.27" fill="#0000ff"/>
<rect x="126.10" y="510.06" width="1.24" height="2.27" fill="#c8c8be"/>
<rect x="126.10" y="301.24" width="1.24" height="2.27" fill="#2846b4"/>
<rect x="126.94" y="303.26" width="1.24" height="2.27" fill="#2846b4"/>
<rect x="126.94" y="510.06" width="1.24" height="2.27" fill="#c8c8be"/>
<rect x="126.94" y="301.24" width="1.24" height="2.27" fill="#2846b4"/>
<rect x="126.94" y="508.04" width="1.24" height="2.27" fill="#78d228"/>
<rect x="127.78" y="303.26" width="1.24" height="2.27" fill="#2846b4"/>
<rect x="127.78" y="510.06" width="1.24" height="2.27" fill="#78d228"/>
<rect x="128.62" y="303.26" width="1.24" height="2.27" fill="#0000ff"/>
<rect x="128.62" y="301.24" width="1.24" height="2.27" fill="#2846b4"/>
<rect x="128.62" y="508.04" width="1.24" height="2.27" fill="#78d228"/>
<rect x="529.30" y="303.26" width="1.24" height="2.27" fill="#2846b4"/>
<rect x="529.30" y="510.06" width="1.24" height="2.27" fill="#ffb400"/>
<rect x="529.30" y="301.24" width="1.24" height="2.27" fill="#0000ff"/>
<rect x="529.30" y="508.04" width="1.24" height="2.27" fill="#78d228"/>
<rect x="530.14" y="303.26" width="1.24" height="2.27" fill="#0000ff"/>
<rect x="530.14" y="510.06" width="1.24" height="2.27" fill="#78d228"/>
<rect x="530.14" y="301.24" width="1.24" height="2.27" fill="#0000ff"/>
<rect x="530.98" y="303.26" width="1.24" height="2.27" fill="#2846b4"/>
<rect x="530.98" y="301.24" width="1.24" height="2.27" fill="#2846b4"/>
<rect x="530.98" y="508.04" width="1.24" height="2.27" fill="#ffb400"/>
<rect x="531.82" y="303.26" width="1.24" height="2.27" fill="#0000ff"/>
<rect x="531.82" y="510.06" width="1.24" height="2.27" fill="#78d228"/>
<rect x="531.82" y="301.24" width="1.24" height="2.27" fill="#2846b4"/>
<rect x="532.66" y="301.24" width="1.24" height="2.27" fill="#0000ff"/>
<rect x="532.66" y="508.04" width="1.24" height="2.27" fill="#ffb400"/>
<rect x="533.50" y="303.26" width="1.24" height="2.27" fill="#0000ff"/>
<rect x="533.50" y="510.06" width="1.24" height="2.27" fill="#ffb400"/>
<rect x="534.34" y="301.24" width="1.24" height="2.27" fill="#0000ff"/>
<rect x="534.34" y="508.04" width="1.24" height="2.27" fill="#78d228"/>
<rect x="535.18" y="301.24" width="1.24" height="2.27" fill="#2846b4"/>
<rect x="535.18" y="508.04" width="1.24" height="2.27" fill="#78d228"/>
<rect x="536.02" y="303.26" width="1.24" height="2.27" fill="#2846b4"/>
<rect x="536.02" y="510.06" width="1.24" height="2.27" fill="#ffb400"/>
<rect x="536.86" y="303.26" width="1.24" height="2.27" fill="#0000ff"/>
<rect x="536.86" y="510.06" width="1.24" height="2.27" fill="#ffb400"/>
<rect x="538.54" y="303.26" width="1.24" height="2.27" fill="#2846b4"/>
<rect x="538.54" y="510.06" width="1.24" height="2.27" fill="#ffb400"/>
<rect x="538.54" y="301.24" width="1.24" height="2.27" fill="#2846b4"/>
<rect x="540.22" y="303.26" width="1.24" height="2.27" fill="#0000ff"/>
<rect x="541.06" y="303.26" width="1.24" height="2.27" fill="#2846b4"/>
<rect x="541.06" y="510.06" width="1.24" height="2.27" fill="#ffb400"/>
<rect x="541.06" y="301.24" width="1.24" height="2.27" fill="#0000ff"/>
<rect x="541.06" y="508.04" width="1.24" height="2.27" fill="#78d228"/>
<rect x="546.10" y="304.06" width="1.24" height="2.27" fill="#0000ff"/>
<rect x="546.94" y="304.06" width="1.24" height="2.27" fill="#2846b4"/>
<rect x="546.94" y="302.04" width="1.24" height="2.27" fill="#0000ff"/>
<rect x="546.94" y="508.84" width="1.24" height="2.27" fill="#c8c8be"/>
<rect x="547.78" y="304.06" width="1.24" height="2.27" fill="#0000ff"/>
<rect x="547.78" y="302.04" width="1.24" height="2.27" fill="#0000ff"/>
<rect x="549.46" y="304.06" width="1.24" height="2.27" fill="#2846b4"/>
<rect x="549.46" y="302.04" width="1.24" height="2.27" fill="#2846b4"/>
<rect x="572.14" y="303.66" width="1.24" height="2.27" fill="#2846b4"/>
<rect x="572.14" y="510.46" width="1.24" height="2.27" fill="#78d228"/>
<rect x="572.14" y="301.64" width="1.24" height="2.27" fill="#0000ff"/>
<rect x="572.14" y="508.44" width="1.24" height="2.27" fill="#78d228"/>
<rect x="572.98" y="303.66" width="1.24" height="2.27" fill="#0000ff"/>
<rect x="572.98" y="510.46" width="1.24" height="2.27" fill="#78d228"/>
<rect x="573.82" y="303.66" width="1.24" height="2.27" fill="#2846b4"/>
<rect x="575.50" y="303.66" width="1.24" height="2.27" fill="#2846b4"/>
<rect x="575.50" y="510.46" width="1.24" height="2.27" fill="#78d228"/>
<rect x="576.34" y="303.66" width="1.24" height="2.27" fill="#2846b4"/>
<rect x="578.02" y="303.66" width="1.24" height="2.27" fill="#2846b4"/>
<rect x="579.70" y="303.66" width="1.24" height="2.27" fill="#2846b4"/>
<rect x="579.70" y="301.64" width="1.24" height="2.27" fill="#2846b4"/>
<rect x="579.70" y="508.44" width="1.24" height="2.27" fill="#78d228"/>
<rect x="580.54" y="303.66" width="1.24" height="2.27" fill="#0000ff"/>
<rect x="580.54" y="510.46" width="1.24" height="2.27" fill="#78d228"/>
<rect x="580.54" y="301.64" width="1.24" height="2.27" fill="#2846b4"/>
<rect x="580.54" y="508.44" width="1.24" height="2.27" fill="#78d228"/>
<rect x="581.38" y="303.66" width="1.24" height="2.27" fill="#0000ff"/>
<rect x="581.38" y="510.46" width="1.24" height="2.27" fill="#78d228"/>
<rect x="581.38" y="301.64" width="1.24" height="2.27" fill="#2846b4"/>
</g>
<line x1="78.60" y1="23.00" x2="704.20" y2="23.00" stroke="#a4a4a4" stroke-width="1.7" />
<line x1="78.60" y1="48.90" x2="704.20" y2="48.90" stroke="#a4a4a4" stroke-width="1.7" />
<line x1="90.60" y1="21.80" x2="90.60" y2="49.50" stroke="#4a4a4a" stroke-width="1.0" />
<line x1="692.50" y1="21.80" x2="692.50" y2="49.50" stroke="#4a4a4a" stroke-width="1.0" />
<line x1="84.30" y1="28.18" x2="90.60" y2="28.18" stroke="#555" stroke-width="1.0" />
<line x1="692.50" y1="28.18" x2="698.30" y2="28.18" stroke="#555" stroke-width="1.0" />
<line x1="84.30" y1="33.36" x2="90.60" y2="33.36" stroke="#555" stroke-width="1.0" />
<line x1="692.50" y1="33.36" x2="698.30" y2="33.36" stroke="#555" stroke-width="1.0" />
<line x1="84.30" y1="38.54" x2="90.60" y2="38.54" stroke="#555" stroke-width="1.0" />
<line x1="692.50" y1="38.54" x2="698.30" y2="38.54" stroke="#555" stroke-width="1.0" />
<line x1="84.30" y1="43.72" x2="90.60" y2="43.72" stroke="#555" stroke-width="1.0" />
<line x1="692.50" y1="43.72" x2="698.30" y2="43.72" stroke="#555" stroke-width="1.0" />
<line x1="90.60" y1="21.60" x2="90.60" y2="23.00" stroke="#555" stroke-width="1.0" />
<line x1="115.68" y1="21.90" x2="115.68" y2="23.00" stroke="#555" stroke-width="1.0" />
<line x1="140.76" y1="21.90" x2="140.76" y2="23.00" stroke="#555" stroke-width="1.0" />
<line x1="165.84" y1="21.90" x2="165.84" y2="23.00" stroke="#555" stroke-width="1.0" />
<line x1="190.92" y1="20.80" x2="190.92" y2="23.00" stroke="#555" stroke-width="1.0" />
<line x1="216.00" y1="21.90" x2="216.00" y2="23.00" stroke="#555" stroke-width="1.0" />
<line x1="241.07" y1="21.90" x2="241.07" y2="23.00" stroke="#555" stroke-width="1.0" />
<line x1="266.15" y1="21.90" x2="266.15" y2="23.00" stroke="#555" stroke-width="1.0" />
<line x1="291.23" y1="20.80" x2="291.23" y2="23.00" stroke="#555" stroke-width="1.0" />
<line x1="316.31" y1="21.90" x2="316.31" y2="23.00" stroke="#555" stroke-width="1.0" />
<line x1="341.39" y1="21.90" x2="341.39" y2="23.00" stroke="#555" stroke-width="1.0" />
<line x1="366.47" y1="21.90" x2="366.47" y2="23.00" stroke="#555" stroke-width="1.0" />
<line x1="391.55" y1="20.80" x2="391.55" y2="23.00" stroke="#555" stroke-width="1.0" />
<line x1="416.63" y1="21.90" x2="416.63" y2="23.00" stroke="#555" stroke-width="1.0" />
<line x1="441.71" y1="21.90" x2="441.71" y2="23.00" stroke="#555" stroke-width="1.0" />
<line x1="466.79" y1="21.90" x2="466.79" y2="23.00" stroke="#555" stroke-width="1.0" />
<line x1="491.87" y1="20.80" x2="491.87" y2="23.00" stroke="#555" stroke-width="1.0" />
<line x1="516.95" y1="21.90" x2="516.95" y2="23.00" stroke="#555" stroke-width="1.0" />
<line x1="542.02" y1="21.90" x2="542.02" y2="23.00" stroke="#555" stroke-width="1.0" />
<line x1="567.10" y1="21.90" x2="567.10" y2="23.00" stroke="#555" stroke-width="1.0" />
<line x1="592.18" y1="20.80" x2="592.18" y2="23.00" stroke="#555" stroke-width="1.0" />
<line x1="617.26" y1="21.90" x2="617.26" y2="23.00" stroke="#555" stroke-width="1.0" />
<line x1="642.34" y1="21.90" x2="642.34" y2="23.00" stroke="#555" stroke-width="1.0" />
<line x1="667.42" y1="21.90" x2="667.42" y2="23.00" stroke="#555" stroke-width="1.0" />
<line x1="692.50" y1="21.60" x2="692.50" y2="23.00" stroke="#555" stroke-width="1.0" />
<line x1="78.60" y1="55.40" x2="704.20" y2="55.40" stroke="#5a5a5a" stroke-width="1.1" />
<line x1="78.60" y1="81.30" x2="704.20" y2="81.30" stroke="#5a5a5a" stroke-width="1.1" />
<line x1="90.60" y1="54.20" x2="90.60" y2="81.90" stroke="#4a4a4a" stroke-width="1.0" />
<line x1="692.50" y1="54.20" x2="692.50" y2="81.90" stroke="#4a4a4a" stroke-width="1.0" />
<line x1="84.30" y1="60.58" x2="90.60" y2="60.58" stroke="#555" stroke-width="1.0" />
<line x1="692.50" y1="60.58" x2="698.30" y2="60.58" stroke="#555" stroke-width="1.0" />
<line x1="84.30" y1="65.76" x2="90.60" y2="65.76" stroke="#555" stroke-width="1.0" />
<line x1="692.50" y1="65.76" x2="698.30" y2="65.76" stroke="#555" stroke-width="1.0" />
<line x1="84.30" y1="70.94" x2="90.60" y2="70.94" stroke="#555" stroke-width="1.0" />
<line x1="692.50" y1="70.94" x2="698.30" y2="70.94" stroke="#555" stroke-width="1.0" />
<line x1="84.30" y1="76.12" x2="90.60" y2="76.12" stroke="#555" stroke-width="1.0" />
<line x1="692.50" y1="76.12" x2="698.30" y2="76.12" stroke="#555" stroke-width="1.0" />
<line x1="90.60" y1="54.00" x2="90.60" y2="55.40" stroke="#555" stroke-width="1.0" />
<line x1="115.68" y1="54.30" x2="115.68" y2="55.40" stroke="#555" stroke-width="1.0" />
<line x1="140.76" y1="54.30" x2="140.76" y2="55.40" stroke="#555" stroke-width="1.0" />
<line x1="165.84" y1="54.30" x2="165.84" y2="55.40" stroke="#555" stroke-width="1.0" />
<line x1="190.92" y1="53.20" x2="190.92" y2="55.40" stroke="#555" stroke-width="1.0" />
<line x1="216.00" y1="54.30" x2="216.00" y2="55.40" stroke="#555" stroke-width="1.0" />
<line x1="241.07" y1="54.30" x2="241.07" y2="55.40" stroke="#555" stroke-width="1.0" />
<line x1="266.15" y1="54.30" x2="266.15" y2="55.40" stroke="#555" stroke-width="1.0" />
<line x1="291.23" y1="53.20" x2="291.23" y2="55.40" stroke="#555" stroke-width="1.0" />
<line x1="316.31" y1="54.30" x2="316.31" y2="55.40" stroke="#555" stroke-width="1.0" />
<line x1="341.39" y1="54.30" x2="341.39" y2="55.40" stroke="#555" stroke-width="1.0" />
<line x1="366.47" y1="54.30" x2="366.47" y2="55.40" stroke="#555" stroke-width="1.0" />
<line x1="391.55" y1="53.20" x2="391.55" y2="55.40" stroke="#555" stroke-width="1.0" />
<line x1="416.63" y1="54.30" x2="416.63" y2="55.40" stroke="#555" stroke-width="1.0" />
<line x1="441.71" y1="54.30" x2="441.71" y2="55.40" stroke="#555" stroke-width="1.0" />
<line x1="466.79" y1="54.30" x2="466.79" y2="55.40" stroke="#555" stroke-width="1.0" />
<line x1="491.87" y1="53.20" x2="491.87" y2="55.40" stroke="#555" stroke-width="1.0" />
<line x1="516.95" y1="54.30" x2="516.95" y2="55.40" stroke="#555" stroke-width="1.0" />
<line x1="542.02" y1="54.30" x2="542.02" y2="55.40" stroke="#555" stroke-width="1.0" />
<line x1="567.10" y1="54.30" x2="567.10" y2="55.40" stroke="#555" stroke-width="1.0" />
<line x1="592.18" y1="53.20" x2="592.18" y2="55.40" stroke="#555" stroke-width="1.0" />
<line x1="617.26" y1="54.30" x2="617.26" y2="55.40" stroke="#555" stroke-width="1.0" />
<line x1="642.34" y1="54.30" x2="642.34" y2="55.40" stroke="#555" stroke-width="1.0" />
<line x1="667.42" y1="54.30" x2="667.42" y2="55.40" stroke="#555" stroke-width="1.0" />
<line x1="692.50" y1="54.00" x2="692.50" y2="55.40" stroke="#555" stroke-width="1.0" />
<line x1="90.60" y1="113.70" x2="692.50" y2="113.70" stroke="#5c5c5c" stroke-width="1.35" />
<line x1="90.60" y1="307.80" x2="692.50" y2="307.80" stroke="#606060" stroke-width="1.8" />
<line x1="90.60" y1="109.70" x2="90.60" y2="312.00" stroke="#4a4a4a" stroke-width="1.0" />
<line x1="692.50" y1="109.70" x2="692.50" y2="312.00" stroke="#4a4a4a" stroke-width="1.0" />
<line x1="84.30" y1="113.70" x2="90.60" y2="113.70" stroke="#3c3c3c" stroke-width="1.0" />
<line x1="692.50" y1="113.70" x2="698.30" y2="113.70" stroke="#3c3c3c" stroke-width="1.0" />
<line x1="84.30" y1="118.19" x2="90.60" y2="118.19" stroke="#3c3c3c" stroke-width="1.0" />
<line x1="692.50" y1="118.19" x2="698.30" y2="118.19" stroke="#3c3c3c" stroke-width="1.0" />
<line x1="84.30" y1="122.69" x2="90.60" y2="122.69" stroke="#3c3c3c" stroke-width="1.0" />
<line x1="692.50" y1="122.69" x2="698.30" y2="122.69" stroke="#3c3c3c" stroke-width="1.0" />
<line x1="84.30" y1="127.18" x2="90.60" y2="127.18" stroke="#3c3c3c" stroke-width="1.0" />
<line x1="692.50" y1="127.18" x2="698.30" y2="127.18" stroke="#3c3c3c" stroke-width="1.0" />
<line x1="84.30" y1="131.67" x2="90.60" y2="131.67" stroke="#3c3c3c" stroke-width="1.0" />
<line x1="692.50" y1="131.67" x2="698.30" y2="131.67" stroke="#3c3c3c" stroke-width="1.0" />
<line x1="78.40" y1="136.17" x2="90.60" y2="136.17" stroke="#4a4a4a" stroke-width="1.0" />
<line x1="692.50" y1="136.17" x2="704.40" y2="136.17" stroke="#4a4a4a" stroke-width="1.0" />
<line x1="84.30" y1="140.66" x2="90.60" y2="140.66" stroke="#3c3c3c" stroke-width="1.0" />
<line x1="692.50" y1="140.66" x2="698.30" y2="140.66" stroke="#3c3c3c" stroke-width="1.0" />
<line x1="84.30" y1="145.15" x2="90.60" y2="145.15" stroke="#3c3c3c" stroke-width="1.0" />
<line x1="692.50" y1="145.15" x2="698.30" y2="145.15" stroke="#3c3c3c" stroke-width="1.0" />
<line x1="84.30" y1="149.64" x2="90.60" y2="149.64" stroke="#3c3c3c" stroke-width="1.0" />
<line x1="692.50" y1="149.64" x2="698.30" y2="149.64" stroke="#3c3c3c" stroke-width="1.0" />
<line x1="84.30" y1="154.14" x2="90.60" y2="154.14" stroke="#3c3c3c" stroke-width="1.0" />
<line x1="692.50" y1="154.14" x2="698.30" y2="154.14" stroke="#3c3c3c" stroke-width="1.0" />
<line x1="84.30" y1="158.63" x2="90.60" y2="158.63" stroke="#3c3c3c" stroke-width="1.0" />
<line x1="692.50" y1="158.63" x2="698.30" y2="158.63" stroke="#3c3c3c" stroke-width="1.0" />
<line x1="84.30" y1="163.12" x2="90.60" y2="163.12" stroke="#3c3c3c" stroke-width="1.0" />
<line x1="692.50" y1="163.12" x2="698.30" y2="163.12" stroke="#3c3c3c" stroke-width="1.0" />
<line x1="84.30" y1="167.62" x2="90.60" y2="167.62" stroke="#3c3c3c" stroke-width="1.0" />
<line x1="692.50" y1="167.62" x2="698.30" y2="167.62" stroke="#3c3c3c" stroke-width="1.0" />
<line x1="84.30" y1="172.11" x2="90.60" y2="172.11" stroke="#3c3c3c" stroke-width="1.0" />
<line x1="692.50" y1="172.11" x2="698.30" y2="172.11" stroke="#3c3c3c" stroke-width="1.0" />
<line x1="84.30" y1="176.60" x2="90.60" y2="176.60" stroke="#3c3c3c" stroke-width="1.0" />
<line x1="692.50" y1="176.60" x2="698.30" y2="176.60" stroke="#3c3c3c" stroke-width="1.0" />
<line x1="78.40" y1="181.10" x2="90.60" y2="181.10" stroke="#4a4a4a" stroke-width="1.0" />
<line x1="692.50" y1="181.10" x2="704.40" y2="181.10" stroke="#4a4a4a" stroke-width="1.0" />
<line x1="84.30" y1="185.59" x2="90.60" y2="185.59" stroke="#3c3c3c" stroke-width="1.0" />
<line x1="692.50" y1="185.59" x2="698.30" y2="185.59" stroke="#3c3c3c" stroke-width="1.0" />
<line x1="84.30" y1="190.08" x2="90.60" y2="190.08" stroke="#3c3c3c" stroke-width="1.0" />
<line x1="692.50" y1="190.08" x2="698.30" y2="190.08" stroke="#3c3c3c" stroke-width="1.0" />
<line x1="84.30" y1="194.58" x2="90.60" y2="194.58" stroke="#3c3c3c" stroke-width="1.0" />
<line x1="692.50" y1="194.58" x2="698.30" y2="194.58" stroke="#3c3c3c" stroke-width="1.0" />
<line x1="84.30" y1="199.07" x2="90.60" y2="199.07" stroke="#3c3c3c" stroke-width="1.0" />
<line x1="692.50" y1="199.07" x2="698.30" y2="199.07" stroke="#3c3c3c" stroke-width="1.0" />
<line x1="84.30" y1="203.56" x2="90.60" y2="203.56" stroke="#3c3c3c" stroke-width="1.0" />
<line x1="692.50" y1="203.56" x2="698.30" y2="203.56" stroke="#3c3c3c" stroke-width="1.0" />
<line x1="84.30" y1="208.05" x2="90.60" y2="208.05" stroke="#3c3c3c" stroke-width="1.0" />
<line x1="692.50" y1="208.05" x2="698.30" y2="208.05" stroke="#3c3c3c" stroke-width="1.0" />
<line x1="84.30" y1="212.55" x2="90.60" y2="212.55" stroke="#3c3c3c" stroke-width="1.0" />
<line x1="692.50" y1="212.55" x2="698.30" y2="212.55" stroke="#3c3c3c" stroke-width="1.0" />
<line x1="84.30" y1="217.04" x2="90.60" y2="217.04" stroke="#3c3c3c" stroke-width="1.0" />
<line x1="692.50" y1="217.04" x2="698.30" y2="217.04" stroke="#3c3c3c" stroke-width="1.0" />
<line x1="84.30" y1="221.53" x2="90.60" y2="221.53" stroke="#3c3c3c" stroke-width="1.0" />
<line x1="692.50" y1="221.53" x2="698.30" y2="221.53" stroke="#3c3c3c" stroke-width="1.0" />
<line x1="78.40" y1="226.03" x2="90.60" y2="226.03" stroke="#4a4a4a" stroke-width="1.0" />
<line x1="692.50" y1="226.03" x2="704.40" y2="226.03" stroke="#4a4a4a" stroke-width="1.0" />
<line x1="84.30" y1="230.52" x2="90.60" y2="230.52" stroke="#3c3c3c" stroke-width="1.0" />
<line x1="692.50" y1="230.52" x2="698.30" y2="230.52" stroke="#3c3c3c" stroke-width="1.0" />
<line x1="84.30" y1="235.01" x2="90.60" y2="235.01" stroke="#3c3c3c" stroke-width="1.0" />
<line x1="692.50" y1="235.01" x2="698.30" y2="235.01" stroke="#3c3c3c" stroke-width="1.0" />
<line x1="84.30" y1="239.51" x2="90.60" y2="239.51" stroke="#3c3c3c" stroke-width="1.0" />
<line x1="692.50" y1="239.51" x2="698.30" y2="239.51" stroke="#3c3c3c" stroke-width="1.0" />
<line x1="84.30" y1="244.00" x2="90.60" y2="244.00" stroke="#3c3c3c" stroke-width="1.0" />
<line x1="692.50" y1="244.00" x2="698.30" y2="244.00" stroke="#3c3c3c" stroke-width="1.0" />
<line x1="84.30" y1="248.49" x2="90.60" y2="248.49" stroke="#3c3c3c" stroke-width="1.0" />
<line x1="692.50" y1="248.49" x2="698.30" y2="248.49" stroke="#3c3c3c" stroke-width="1.0" />
<line x1="84.30" y1="252.98" x2="90.60" y2="252.98" stroke="#3c3c3c" stroke-width="1.0" />
<line x1="692.50" y1="252.98" x2="698.30" y2="252.98" stroke="#3c3c3c" stroke-width="1.0" />
<line x1="84.30" y1="257.48" x2="90.60" y2="257.48" stroke="#3c3c3c" stroke-width="1.0" />
<line x1="692.50" y1="257.48" x2="698.30" y2="257.48" stroke="#3c3c3c" stroke-width="1.0" />
<line x1="84.30" y1="261.97" x2="90.60" y2="261.97" stroke="#3c3c3c" stroke-width="1.0" />
<line x1="692.50" y1="261.97" x2="698.30" y2="261.97" stroke="#3c3c3c" stroke-width="1.0" />
<line x1="84.30" y1="266.46" x2="90.60" y2="266.46" stroke="#3c3c3c" stroke-width="1.0" />
<line x1="692.50" y1="266.46" x2="698.30" y2="266.46" stroke="#3c3c3c" stroke-width="1.0" />
<line x1="78.40" y1="270.96" x2="90.60" y2="270.96" stroke="#4a4a4a" stroke-width="1.0" />
<line x1="692.50" y1="270.96" x2="704.40" y2="270.96" stroke="#4a4a4a" stroke-width="1.0" />
<line x1="84.30" y1="275.45" x2="90.60" y2="275.45" stroke="#3c3c3c" stroke-width="1.0" />
<line x1="692.50" y1="275.45" x2="698.30" y2="275.45" stroke="#3c3c3c" stroke-width="1.0" />
<line x1="84.30" y1="279.94" x2="90.60" y2="279.94" stroke="#3c3c3c" stroke-width="1.0" />
<line x1="692.50" y1="279.94" x2="698.30" y2="279.94" stroke="#3c3c3c" stroke-width="1.0" />
<line x1="84.30" y1="284.44" x2="90.60" y2="284.44" stroke="#3c3c3c" stroke-width="1.0" />
<line x1="692.50" y1="284.44" x2="698.30" y2="284.44" stroke="#3c3c3c" stroke-width="1.0" />
<line x1="84.30" y1="288.93" x2="90.60" y2="288.93" stroke="#3c3c3c" stroke-width="1.0" />
<line x1="692.50" y1="288.93" x2="698.30" y2="288.93" stroke="#3c3c3c" stroke-width="1.0" />
<line x1="84.30" y1="293.42" x2="90.60" y2="293.42" stroke="#3c3c3c" stroke-width="1.0" />
<line x1="692.50" y1="293.42" x2="698.30" y2="293.42" stroke="#3c3c3c" stroke-width="1.0" />
<line x1="84.30" y1="297.92" x2="90.60" y2="297.92" stroke="#3c3c3c" stroke-width="1.0" />
<line x1="692.50" y1="297.92" x2="698.30" y2="297.92" stroke="#3c3c3c" stroke-width="1.0" />
<line x1="84.30" y1="302.41" x2="90.60" y2="302.41" stroke="#3c3c3c" stroke-width="1.0" />
<line x1="692.50" y1="302.41" x2="698.30" y2="302.41" stroke="#3c3c3c" stroke-width="1.0" />
<line x1="84.30" y1="306.90" x2="90.60" y2="306.90" stroke="#3c3c3c" stroke-width="1.0" />
<line x1="692.50" y1="306.90" x2="698.30" y2="306.90" stroke="#3c3c3c" stroke-width="1.0" />
<line x1="115.68" y1="112.10" x2="115.68" y2="113.70" stroke="#4a4a4a" stroke-width="1.0" />
<line x1="115.68" y1="307.80" x2="115.68" y2="309.80" stroke="#4a4a4a" stroke-width="1.0" />
<line x1="140.76" y1="112.10" x2="140.76" y2="113.70" stroke="#4a4a4a" stroke-width="1.0" />
<line x1="140.76" y1="307.80" x2="140.76" y2="309.80" stroke="#4a4a4a" stroke-width="1.0" />
<line x1="165.84" y1="112.10" x2="165.84" y2="113.70" stroke="#4a4a4a" stroke-width="1.0" />
<line x1="165.84" y1="307.80" x2="165.84" y2="309.80" stroke="#4a4a4a" stroke-width="1.0" />
<line x1="190.92" y1="109.70" x2="190.92" y2="113.70" stroke="#4a4a4a" stroke-width="1.0" />
<line x1="190.92" y1="307.80" x2="190.92" y2="312.10" stroke="#4a4a4a" stroke-width="1.0" />
<line x1="216.00" y1="112.10" x2="216.00" y2="113.70" stroke="#4a4a4a" stroke-width="1.0" />
<line x1="216.00" y1="307.80" x2="216.00" y2="309.80" stroke="#4a4a4a" stroke-width="1.0" />
<line x1="241.07" y1="112.10" x2="241.07" y2="113.70" stroke="#4a4a4a" stroke-width="1.0" />
<line x1="241.07" y1="307.80" x2="241.07" y2="309.80" stroke="#4a4a4a" stroke-width="1.0" />
<line x1="266.15" y1="112.10" x2="266.15" y2="113.70" stroke="#4a4a4a" stroke-width="1.0" />
<line x1="266.15" y1="307.80" x2="266.15" y2="309.80" stroke="#4a4a4a" stroke-width="1.0" />
<line x1="291.23" y1="109.70" x2="291.23" y2="113.70" stroke="#4a4a4a" stroke-width="1.0" />
<line x1="291.23" y1="307.80" x2="291.23" y2="312.10" stroke="#4a4a4a" stroke-width="1.0" />
<line x1="316.31" y1="112.10" x2="316.31" y2="113.70" stroke="#4a4a4a" stroke-width="1.0" />
<line x1="316.31" y1="307.80" x2="316.31" y2="309.80" stroke="#4a4a4a" stroke-width="1.0" />
<line x1="341.39" y1="112.10" x2="341.39" y2="113.70" stroke="#4a4a4a" stroke-width="1.0" />
<line x1="341.39" y1="307.80" x2="341.39" y2="309.80" stroke="#4a4a4a" stroke-width="1.0" />
<line x1="366.47" y1="112.10" x2="366.47" y2="113.70" stroke="#4a4a4a" stroke-width="1.0" />
<line x1="366.47" y1="307.80" x2="366.47" y2="309.80" stroke="#4a4a4a" stroke-width="1.0" />
<line x1="391.55" y1="109.70" x2="391.55" y2="113.70" stroke="#4a4a4a" stroke-width="1.0" />
<line x1="391.55" y1="307.80" x2="391.55" y2="312.10" stroke="#4a4a4a" stroke-width="1.0" />
<line x1="416.63" y1="112.10" x2="416.63" y2="113.70" stroke="#4a4a4a" stroke-width="1.0" />
<line x1="416.63" y1="307.80" x2="416.63" y2="309.80" stroke="#4a4a4a" stroke-width="1.0" />
<line x1="441.71" y1="112.10" x2="441.71" y2="113.70" stroke="#4a4a4a" stroke-width="1.0" />
<line x1="441.71" y1="307.80" x2="441.71" y2="309.80" stroke="#4a4a4a" stroke-width="1.0" />
<line x1="466.79" y1="112.10" x2="466.79" y2="113.70" stroke="#4a4a4a" stroke-width="1.0" />
<line x1="466.79" y1="307.80" x2="466.79" y2="309.80" stroke="#4a4a4a" stroke-width="1.0" />
<line x1="491.87" y1="109.70" x2="491.87" y2="113.70" stroke="#4a4a4a" stroke-width="1.0" />
<line x1="491.87" y1="307.80" x2="491.87" y2="312.10" stroke="#4a4a4a" stroke-width="1.0" />
<line x1="516.95" y1="112.10" x2="516.95" y2="113.70" stroke="#4a4a4a" stroke-width="1.0" />
<line x1="516.95" y1="307.80" x2="516.95" y2="309.80" stroke="#4a4a4a" stroke-width="1.0" />
<line x1="542.02" y1="112.10" x2="542.02" y2="113.70" stroke="#4a4a4a" stroke-width="1.0" />
<line x1="542.02" y1="307.80" x2="542.02" y2="309.80" stroke="#4a4a4a" stroke-width="1.0" />
<line x1="567.10" y1="112.10" x2="567.10" y2="113.70" stroke="#4a4a4a" stroke-width="1.0" />
<line x1="567.10" y1="307.80" x2="567.10" y2="309.80" stroke="#4a4a4a" stroke-width="1.0" />
<line x1="592.18" y1="109.70" x2="592.18" y2="113.70" stroke="#4a4a4a" stroke-width="1.0" />
<line x1="592.18" y1="307.80" x2="592.18" y2="312.10" stroke="#4a4a4a" stroke-width="1.0" />
<line x1="617.26" y1="112.10" x2="617.26" y2="113.70" stroke="#4a4a4a" stroke-width="1.0" />
<line x1="617.26" y1="307.80" x2="617.26" y2="309.80" stroke="#4a4a4a" stroke-width="1.0" />
<line x1="642.34" y1="112.10" x2="642.34" y2="113.70" stroke="#4a4a4a" stroke-width="1.0" />
<line x1="642.34" y1="307.80" x2="642.34" y2="309.80" stroke="#4a4a4a" stroke-width="1.0" />
<line x1="667.42" y1="112.10" x2="667.42" y2="113.70" stroke="#4a4a4a" stroke-width="1.0" />
<line x1="667.42" y1="307.80" x2="667.42" y2="309.80" stroke="#4a4a4a" stroke-width="1.0" />
<line x1="90.60" y1="320.50" x2="692.50" y2="320.50" stroke="#5c5c5c" stroke-width="1.35" />
<line x1="90.60" y1="514.40" x2="692.50" y2="514.40" stroke="#606060" stroke-width="1.8" />
<line x1="90.60" y1="316.50" x2="90.60" y2="518.60" stroke="#4a4a4a" stroke-width="1.0" />
<line x1="692.50" y1="316.50" x2="692.50" y2="518.60" stroke="#4a4a4a" stroke-width="1.0" />
<line x1="84.30" y1="320.50" x2="90.60" y2="320.50" stroke="#3c3c3c" stroke-width="1.0" />
<line x1="692.50" y1="320.50" x2="698.30" y2="320.50" stroke="#3c3c3c" stroke-width="1.0" />
<line x1="84.30" y1="324.99" x2="90.60" y2="324.99" stroke="#3c3c3c" stroke-width="1.0" />
<line x1="692.50" y1="324.99" x2="698.30" y2="324.99" stroke="#3c3c3c" stroke-width="1.0" />
<line x1="84.30" y1="329.48" x2="90.60" y2="329.48" stroke="#3c3c3c" stroke-width="1.0" />
<line x1="692.50" y1="329.48" x2="698.30" y2="329.48" stroke="#3c3c3c" stroke-width="1.0" />
<line x1="84.30" y1="333.97" x2="90.60" y2="333.97" stroke="#3c3c3c" stroke-width="1.0" />
<line x1="692.50" y1="333.97" x2="698.30" y2="333.97" stroke="#3c3c3c" stroke-width="1.0" />
<line x1="84.30" y1="338.45" x2="90.60" y2="338.45" stroke="#3c3c3c" stroke-width="1.0" />
<line x1="692.50" y1="338.45" x2="698.30" y2="338.45" stroke="#3c3c3c" stroke-width="1.0" />
<line x1="78.40" y1="342.94" x2="90.60" y2="342.94" stroke="#4a4a4a" stroke-width="1.0" />
<line x1="692.50" y1="342.94" x2="704.40" y2="342.94" stroke="#4a4a4a" stroke-width="1.0" />
<line x1="84.30" y1="347.43" x2="90.60" y2="347.43" stroke="#3c3c3c" stroke-width="1.0" />
<line x1="692.50" y1="347.43" x2="698.30" y2="347.43" stroke="#3c3c3c" stroke-width="1.0" />
<line x1="84.30" y1="351.92" x2="90.60" y2="351.92" stroke="#3c3c3c" stroke-width="1.0" />
<line x1="692.50" y1="351.92" x2="698.30" y2="351.92" stroke="#3c3c3c" stroke-width="1.0" />
<line x1="84.30" y1="356.41" x2="90.60" y2="356.41" stroke="#3c3c3c" stroke-width="1.0" />
<line x1="692.50" y1="356.41" x2="698.30" y2="356.41" stroke="#3c3c3c" stroke-width="1.0" />
<line x1="84.30" y1="360.90" x2="90.60" y2="360.90" stroke="#3c3c3c" stroke-width="1.0" />
<line x1="692.50" y1="360.90" x2="698.30" y2="360.90" stroke="#3c3c3c" stroke-width="1.0" />
<line x1="84.30" y1="365.38" x2="90.60" y2="365.38" stroke="#3c3c3c" stroke-width="1.0" />
<line x1="692.50" y1="365.38" x2="698.30" y2="365.38" stroke="#3c3c3c" stroke-width="1.0" />
<line x1="84.30" y1="369.87" x2="90.60" y2="369.87" stroke="#3c3c3c" stroke-width="1.0" />
<line x1="692.50" y1="369.87" x2="698.30" y2="369.87" stroke="#3c3c3c" stroke-width="1.0" />
<line x1="84.30" y1="374.36" x2="90.60" y2="374.36" stroke="#3c3c3c" stroke-width="1.0" />
<line x1="692.50" y1="374.36" x2="698.30" y2="374.36" stroke="#3c3c3c" stroke-width="1.0" />
<line x1="84.30" y1="378.85" x2="90.60" y2="378.85" stroke="#3c3c3c" stroke-width="1.0" />
<line x1="692.50" y1="378.85" x2="698.30" y2="378.85" stroke="#3c3c3c" stroke-width="1.0" />
<line x1="84.30" y1="383.34" x2="90.60" y2="383.34" stroke="#3c3c3c" stroke-width="1.0" />
<line x1="692.50" y1="383.34" x2="698.30" y2="383.34" stroke="#3c3c3c" stroke-width="1.0" />
<line x1="78.40" y1="387.83" x2="90.60" y2="387.83" stroke="#4a4a4a" stroke-width="1.0" />
<line x1="692.50" y1="387.83" x2="704.40" y2="387.83" stroke="#4a4a4a" stroke-width="1.0" />
<line x1="84.30" y1="392.31" x2="90.60" y2="392.31" stroke="#3c3c3c" stroke-width="1.0" />
<line x1="692.50" y1="392.31" x2="698.30" y2="392.31" stroke="#3c3c3c" stroke-width="1.0" />
<line x1="84.30" y1="396.80" x2="90.60" y2="396.80" stroke="#3c3c3c" stroke-width="1.0" />
<line x1="692.50" y1="396.80" x2="698.30" y2="396.80" stroke="#3c3c3c" stroke-width="1.0" />
<line x1="84.30" y1="401.29" x2="90.60" y2="401.29" stroke="#3c3c3c" stroke-width="1.0" />
<line x1="692.50" y1="401.29" x2="698.30" y2="401.29" stroke="#3c3c3c" stroke-width="1.0" />
<line x1="84.30" y1="405.78" x2="90.60" y2="405.78" stroke="#3c3c3c" stroke-width="1.0" />
<line x1="692.50" y1="405.78" x2="698.30" y2="405.78" stroke="#3c3c3c" stroke-width="1.0" />
<line x1="84.30" y1="410.27" x2="90.60" y2="410.27" stroke="#3c3c3c" stroke-width="1.0" />
<line x1="692.50" y1="410.27" x2="698.30" y2="410.27" stroke="#3c3c3c" stroke-width="1.0" />
<line x1="84.30" y1="414.76" x2="90.60" y2="414.76" stroke="#3c3c3c" stroke-width="1.0" />
<line x1="692.50" y1="414.76" x2="698.30" y2="414.76" stroke="#3c3c3c" stroke-width="1.0" />
<line x1="84.30" y1="419.25" x2="90.60" y2="419.25" stroke="#3c3c3c" stroke-width="1.0" />
<line x1="692.50" y1="419.25" x2="698.30" y2="419.25" stroke="#3c3c3c" stroke-width="1.0" />
<line x1="84.30" y1="423.73" x2="90.60" y2="423.73" stroke="#3c3c3c" stroke-width="1.0" />
<line x1="692.50" y1="423.73" x2="698.30" y2="423.73" stroke="#3c3c3c" stroke-width="1.0" />
<line x1="84.30" y1="428.22" x2="90.60" y2="428.22" stroke="#3c3c3c" stroke-width="1.0" />
<line x1="692.50" y1="428.22" x2="698.30" y2="428.22" stroke="#3c3c3c" stroke-width="1.0" />
<line x1="78.40" y1="432.71" x2="90.60" y2="432.71" stroke="#4a4a4a" stroke-width="1.0" />
<line x1="692.50" y1="432.71" x2="704.40" y2="432.71" stroke="#4a4a4a" stroke-width="1.0" />
<line x1="84.30" y1="437.20" x2="90.60" y2="437.20" stroke="#3c3c3c" stroke-width="1.0" />
<line x1="692.50" y1="437.20" x2="698.30" y2="437.20" stroke="#3c3c3c" stroke-width="1.0" />
<line x1="84.30" y1="441.69" x2="90.60" y2="441.69" stroke="#3c3c3c" stroke-width="1.0" />
<line x1="692.50" y1="441.69" x2="698.30" y2="441.69" stroke="#3c3c3c" stroke-width="1.0" />
<line x1="84.30" y1="446.18" x2="90.60" y2="446.18" stroke="#3c3c3c" stroke-width="1.0" />
<line x1="692.50" y1="446.18" x2="698.30" y2="446.18" stroke="#3c3c3c" stroke-width="1.0" />
<line x1="84.30" y1="450.66" x2="90.60" y2="450.66" stroke="#3c3c3c" stroke-width="1.0" />
<line x1="692.50" y1="450.66" x2="698.30" y2="450.66" stroke="#3c3c3c" stroke-width="1.0" />
<line x1="84.30" y1="455.15" x2="90.60" y2="455.15" stroke="#3c3c3c" stroke-width="1.0" />
<line x1="692.50" y1="455.15" x2="698.30" y2="455.15" stroke="#3c3c3c" stroke-width="1.0" />
<line x1="84.30" y1="459.64" x2="90.60" y2="459.64" stroke="#3c3c3c" stroke-width="1.0" />
<line x1="692.50" y1="459.64" x2="698.30" y2="459.64" stroke="#3c3c3c" stroke-width="1.0" />
<line x1="84.30" y1="464.13" x2="90.60" y2="464.13" stroke="#3c3c3c" stroke-width="1.0" />
<line x1="692.50" y1="464.13" x2="698.30" y2="464.13" stroke="#3c3c3c" stroke-width="1.0" />
<line x1="84.30" y1="468.62" x2="90.60" y2="468.62" stroke="#3c3c3c" stroke-width="1.0" />
<line x1="692.50" y1="468.62" x2="698.30" y2="468.62" stroke="#3c3c3c" stroke-width="1.0" />
<line x1="84.30" y1="473.11" x2="90.60" y2="473.11" stroke="#3c3c3c" stroke-width="1.0" />
<line x1="692.50" y1="473.11" x2="698.30" y2="473.11" stroke="#3c3c3c" stroke-width="1.0" />
<line x1="78.40" y1="477.59" x2="90.60" y2="477.59" stroke="#4a4a4a" stroke-width="1.0" />
<line x1="692.50" y1="477.59" x2="704.40" y2="477.59" stroke="#4a4a4a" stroke-width="1.0" />
<line x1="84.30" y1="482.08" x2="90.60" y2="482.08" stroke="#3c3c3c" stroke-width="1.0" />
<line x1="692.50" y1="482.08" x2="698.30" y2="482.08" stroke="#3c3c3c" stroke-width="1.0" />
<line x1="84.30" y1="486.57" x2="90.60" y2="486.57" stroke="#3c3c3c" stroke-width="1.0" />
<line x1="692.50" y1="486.57" x2="698.30" y2="486.57" stroke="#3c3c3c" stroke-width="1.0" />
<line x1="84.30" y1="491.06" x2="90.60" y2="491.06" stroke="#3c3c3c" stroke-width="1.0" />
<line x1="692.50" y1="491.06" x2="698.30" y2="491.06" stroke="#3c3c3c" stroke-width="1.0" />
<line x1="84.30" y1="495.55" x2="90.60" y2="495.55" stroke="#3c3c3c" stroke-width="1.0" />
<line x1="692.50" y1="495.55" x2="698.30" y2="495.55" stroke="#3c3c3c" stroke-width="1.0" />
<line x1="84.30" y1="500.04" x2="90.60" y2="500.04" stroke="#3c3c3c" stroke-width="1.0" />
<line x1="692.50" y1="500.04" x2="698.30" y2="500.04" stroke="#3c3c3c" stroke-width="1.0" />
<line x1="84.30" y1="504.53" x2="90.60" y2="504.53" stroke="#3c3c3c" stroke-width="1.0" />
<line x1="692.50" y1="504.53" x2="698.30" y2="504.53" stroke="#3c3c3c" stroke-width="1.0" />
<line x1="84.30" y1="509.01" x2="90.60" y2="509.01" stroke="#3c3c3c" stroke-width="1.0" />
<line x1="692.50" y1="509.01" x2="698.30" y2="509.01" stroke="#3c3c3c" stroke-width="1.0" />
<line x1="84.30" y1="513.50" x2="90.60" y2="513.50" stroke="#3c3c3c" stroke-width="1.0" />
<line x1="692.50" y1="513.50" x2="698.30" y2="513.50" stroke="#3c3c3c" stroke-width="1.0" />
<line x1="115.68" y1="318.90" x2="115.68" y2="320.50" stroke="#4a4a4a" stroke-width="1.0" />
<line x1="115.68" y1="514.40" x2="115.68" y2="516.40" stroke="#4a4a4a" stroke-width="1.0" />
<line x1="140.76" y1="318.90" x2="140.76" y2="320.50" stroke="#4a4a4a" stroke-width="1.0" />
<line x1="140.76" y1="514.40" x2="140.76" y2="516.40" stroke="#4a4a4a" stroke-width="1.0" />
<line x1="165.84" y1="318.90" x2="165.84" y2="320.50" stroke="#4a4a4a" stroke-width="1.0" />
<line x1="165.84" y1="514.40" x2="165.84" y2="516.40" stroke="#4a4a4a" stroke-width="1.0" />
<line x1="190.92" y1="316.50" x2="190.92" y2="320.50" stroke="#4a4a4a" stroke-width="1.0" />
<line x1="190.92" y1="514.40" x2="190.92" y2="518.70" stroke="#4a4a4a" stroke-width="1.0" />
<line x1="216.00" y1="318.90" x2="216.00" y2="320.50" stroke="#4a4a4a" stroke-width="1.0" />
<line x1="216.00" y1="514.40" x2="216.00" y2="516.40" stroke="#4a4a4a" stroke-width="1.0" />
<line x1="241.07" y1="318.90" x2="241.07" y2="320.50" stroke="#4a4a4a" stroke-width="1.0" />
<line x1="241.07" y1="514.40" x2="241.07" y2="516.40" stroke="#4a4a4a" stroke-width="1.0" />
<line x1="266.15" y1="318.90" x2="266.15" y2="320.50" stroke="#4a4a4a" stroke-width="1.0" />
<line x1="266.15" y1="514.40" x2="266.15" y2="516.40" stroke="#4a4a4a" stroke-width="1.0" />
<line x1="291.23" y1="316.50" x2="291.23" y2="320.50" stroke="#4a4a4a" stroke-width="1.0" />
<line x1="291.23" y1="514.40" x2="291.23" y2="518.70" stroke="#4a4a4a" stroke-width="1.0" />
<line x1="316.31" y1="318.90" x2="316.31" y2="320.50" stroke="#4a4a4a" stroke-width="1.0" />
<line x1="316.31" y1="514.40" x2="316.31" y2="516.40" stroke="#4a4a4a" stroke-width="1.0" />
<line x1="341.39" y1="318.90" x2="341.39" y2="320.50" stroke="#4a4a4a" stroke-width="1.0" />
<line x1="341.39" y1="514.40" x2="341.39" y2="516.40" stroke="#4a4a4a" stroke-width="1.0" />
<line x1="366.47" y1="318.90" x2="366.47" y2="320.50" stroke="#4a4a4a" stroke-width="1.0" />
<line x1="366.47" y1="514.40" x2="366.47" y2="516.40" stroke="#4a4a4a" stroke-width="1.0" />
<line x1="391.55" y1="316.50" x2="391.55" y2="320.50" stroke="#4a4a4a" stroke-width="1.0" />
<line x1="391.55" y1="514.40" x2="391.55" y2="518.70" stroke="#4a4a4a" stroke-width="1.0" />
<line x1="416.63" y1="318.90" x2="416.63" y2="320.50" stroke="#4a4a4a" stroke-width="1.0" />
<line x1="416.63" y1="514.40" x2="416.63" y2="516.40" stroke="#4a4a4a" stroke-width="1.0" />
<line x1="441.71" y1="318.90" x2="441.71" y2="320.50" stroke="#4a4a4a" stroke-width="1.0" />
<line x1="441.71" y1="514.40" x2="441.71" y2="516.40" stroke="#4a4a4a" stroke-width="1.0" />
<line x1="466.79" y1="318.90" x2="466.79" y2="320.50" stroke="#4a4a4a" stroke-width="1.0" />
<line x1="466.79" y1="514.40" x2="466.79" y2="516.40" stroke="#4a4a4a" stroke-width="1.0" />
<line x1="491.87" y1="316.50" x2="491.87" y2="320.50" stroke="#4a4a4a" stroke-width="1.0" />
<line x1="491.87" y1="514.40" x2="491.87" y2="518.70" stroke="#4a4a4a" stroke-width="1.0" />
<line x1="516.95" y1="318.90" x2="516.95" y2="320.50" stroke="#4a4a4a" stroke-width="1.0" />
<line x1="516.95" y1="514.40" x2="516.95" y2="516.40" stroke="#4a4a4a" stroke-width="1.0" />
<line x1="542.02" y1="318.90" x2="542.02" y2="320.50" stroke="#4a4a4a" stroke-width="1.0" />
<line x1="542.02" y1="514.40" x2="542.02" y2="516.40" stroke="#4a4a4a" stroke-width="1.0" />
<line x1="567.10" y1="318.90" x2="567.10" y2="320.50" stroke="#4a4a4a" stroke-width="1.0" />
<line x1="567.10" y1="514.40" x2="567.10" y2="516.40" stroke="#4a4a4a" stroke-width="1.0" />
<line x1="592.18" y1="316.50" x2="592.18" y2="320.50" stroke="#4a4a4a" stroke-width="1.0" />
<line x1="592.18" y1="514.40" x2="592.18" y2="518.70" stroke="#4a4a4a" stroke-width="1.0" />
<line x1="617.26" y1="318.90" x2="617.26" y2="320.50" stroke="#4a4a4a" stroke-width="1.0" />
<line x1="617.26" y1="514.40" x2="617.26" y2="516.40" stroke="#4a4a4a" stroke-width="1.0" />
<line x1="642.34" y1="318.90" x2="642.34" y2="320.50" stroke="#4a4a4a" stroke-width="1.0" />
<line x1="642.34" y1="514.40" x2="642.34" y2="516.40" stroke="#4a4a4a" stroke-width="1.0" />
<line x1="667.42" y1="318.90" x2="667.42" y2="320.50" stroke="#4a4a4a" stroke-width="1.0" />
<line x1="667.42" y1="514.40" x2="667.42" y2="516.40" stroke="#4a4a4a" stroke-width="1.0" />
<text x="91.80" y="14.70" font-size="16.6" text-anchor="start" font-weight="normal" fill="#111" textLength="55.20" lengthAdjust="spacingAndGlyphs" >SANAE</text>
<text x="157.20" y="14.70" font-size="16.6" text-anchor="start" font-weight="normal" fill="#111" textLength="67.40" lengthAdjust="spacingAndGlyphs" >(fitACF)</text>
<text x="355.20" y="15.60" font-size="15.7" text-anchor="start" font-weight="normal" fill="#111" textLength="42.60" lengthAdjust="spacingAndGlyphs" >Beam</text>
<text x="410.40" y="15.60" font-size="15.7" text-anchor="start" font-weight="normal" fill="#111" textLength="16.00" lengthAdjust="spacingAndGlyphs" >15</text>
<text x="588.20" y="14.70" font-size="15.9" text-anchor="start" font-weight="normal" fill="#111" textLength="103.60" lengthAdjust="spacingAndGlyphs" >13/Jun/2010</text>
<text x="48.40" y="31.60" font-size="12.5" text-anchor="start" font-weight="normal" fill="#111" textLength="26.20" lengthAdjust="spacingAndGlyphs" >10^5</text>
<text x="48.40" y="49.20" font-size="12.5" text-anchor="start" font-weight="normal" fill="#111" textLength="26.20" lengthAdjust="spacingAndGlyphs" >10^0</text>
<text x="61.20" y="64.00" font-size="12.5" text-anchor="start" font-weight="normal" fill="#111" textLength="13.40" lengthAdjust="spacingAndGlyphs" >18</text>
<text x="67.20" y="81.50" font-size="12.5" text-anchor="start" font-weight="normal" fill="#111" textLength="7.30" lengthAdjust="spacingAndGlyphs" >8</text>
<text x="3.00" y="41.20" font-size="12.4" text-anchor="start" font-weight="normal" fill="#111" textLength="32.40" lengthAdjust="spacingAndGlyphs" >N.Sky</text>
<line x1="11.00" y1="47.80" x2="27.60" y2="47.80" stroke="#222" stroke-width="1.4" />
<text x="6.00" y="63.70" font-size="11.6" text-anchor="start" font-weight="normal" fill="#111" textLength="29.00" lengthAdjust="spacingAndGlyphs" >Freq.</text>
<text x="0.80" y="76.50" font-size="11.6" text-anchor="start" font-weight="normal" fill="#111" textLength="34.00" lengthAdjust="spacingAndGlyphs" >[MHz]</text>
<line x1="9.40" y1="81.90" x2="27.30" y2="81.90" stroke="#222" stroke-width="1.4" />
<text x="8.40" y="98.60" font-size="11.6" text-anchor="start" font-weight="normal" fill="#111" textLength="27.00" lengthAdjust="spacingAndGlyphs"  stroke="#111" stroke-width="0.55">CPID</text>
<text x="709.20" y="31.60" font-size="12.5" text-anchor="start" font-weight="normal" fill="#111" textLength="25.80" lengthAdjust="spacingAndGlyphs" >10^5</text>
<text x="709.20" y="49.20" font-size="12.5" text-anchor="start" font-weight="normal" fill="#111" textLength="25.80" lengthAdjust="spacingAndGlyphs" >10^0</text>
<text x="708.40" y="64.10" font-size="12.6" text-anchor="start" font-weight="normal" fill="#111" textLength="14.70" lengthAdjust="spacingAndGlyphs" >60</text>
<text x="708.40" y="81.90" font-size="12.6" text-anchor="start" font-weight="normal" fill="#111" textLength="7.20" lengthAdjust="spacingAndGlyphs" >0</text>
<text x="746.80" y="41.00" font-size="11.6" text-anchor="start" font-weight="normal" fill="#111" textLength="53.00" lengthAdjust="spacingAndGlyphs" >N.Search</text>
<text x="746.80" y="73.20" font-size="11.6" text-anchor="start" font-weight="normal" fill="#111" textLength="28.60" lengthAdjust="spacingAndGlyphs" >Nave</text>
<line x1="760.00" y1="47.80" x2="789.00" y2="47.80" stroke="#111" stroke-width="1.6" stroke-dasharray="1.7 2.8"/>
<line x1="753.60" y1="80.30" x2="770.00" y2="80.30" stroke="#111" stroke-width="1.6" stroke-dasharray="1.7 3.1"/>
<line x1="91.50" y1="83.00" x2="91.50" y2="105.80" stroke="#333" stroke-width="1.0" />
<text x="94.40" y="103.60" font-size="12" text-anchor="start" font-weight="normal" fill="#111" textLength="41.80" lengthAdjust="spacingAndGlyphs"  stroke="#111" stroke-width="0.55">normal</text>
<text x="143.60" y="103.60" font-size="12" text-anchor="start" font-weight="normal" fill="#111" textLength="33.20" lengthAdjust="spacingAndGlyphs"  stroke="#111" stroke-width="0.55">(fast)</text>
<text x="186.40" y="103.60" font-size="12" text-anchor="start" font-weight="normal" fill="#111" textLength="19.80" lengthAdjust="spacingAndGlyphs"  stroke="#111" stroke-width="0.55">151</text>
<text x="43.20" y="141.17" font-size="12.7" text-anchor="start" font-weight="normal" fill="#111" textLength="30.90" lengthAdjust="spacingAndGlyphs" >4000</text>
<text x="43.20" y="186.10" font-size="12.7" text-anchor="start" font-weight="normal" fill="#111" textLength="30.90" lengthAdjust="spacingAndGlyphs" >3000</text>
<text x="43.20" y="231.03" font-size="12.7" text-anchor="start" font-weight="normal" fill="#111" textLength="30.90" lengthAdjust="spacingAndGlyphs" >2000</text>
<text x="43.20" y="275.96" font-size="12.7" text-anchor="start" font-weight="normal" fill="#111" textLength="30.90" lengthAdjust="spacingAndGlyphs" >1000</text>
<g transform="translate(32.4 211.25) rotate(-90)">
<text x="0.00" y="0.00" font-size="12.2" text-anchor="middle" font-weight="normal" fill="#111" textLength="109.00" lengthAdjust="spacingAndGlyphs" >Slant Range [km]</text>
</g>
<text x="43.20" y="347.94" font-size="12.7" text-anchor="start" font-weight="normal" fill="#111" textLength="30.90" lengthAdjust="spacingAndGlyphs" >4000</text>
<text x="43.20" y="392.83" font-size="12.7" text-anchor="start" font-weight="normal" fill="#111" textLength="30.90" lengthAdjust="spacingAndGlyphs" >3000</text>
<text x="43.20" y="437.71" font-size="12.7" text-anchor="start" font-weight="normal" fill="#111" textLength="30.90" lengthAdjust="spacingAndGlyphs" >2000</text>
<text x="43.20" y="482.59" font-size="12.7" text-anchor="start" font-weight="normal" fill="#111" textLength="30.90" lengthAdjust="spacingAndGlyphs" >1000</text>
<g transform="translate(32.4 417.95) rotate(-90)">
<text x="0.00" y="0.00" font-size="12.2" text-anchor="middle" font-weight="normal" fill="#111" textLength="109.00" lengthAdjust="spacingAndGlyphs" >Slant Range [km]</text>
</g>
<text x="73.20" y="536.50" font-size="12.4" text-anchor="start" font-weight="normal" fill="#111" textLength="34.60" lengthAdjust="spacingAndGlyphs" >00:00</text>
<text x="173.52" y="536.50" font-size="12.4" text-anchor="start" font-weight="normal" fill="#111" textLength="34.60" lengthAdjust="spacingAndGlyphs" >04:00</text>
<text x="273.83" y="536.50" font-size="12.4" text-anchor="start" font-weight="normal" fill="#111" textLength="34.60" lengthAdjust="spacingAndGlyphs" >08:00</text>
<text x="374.15" y="536.50" font-size="12.4" text-anchor="start" font-weight="normal" fill="#111" textLength="34.60" lengthAdjust="spacingAndGlyphs" >12:00</text>
<text x="474.47" y="536.50" font-size="12.4" text-anchor="start" font-weight="normal" fill="#111" textLength="34.60" lengthAdjust="spacingAndGlyphs" >16:00</text>
<text x="574.78" y="536.50" font-size="12.4" text-anchor="start" font-weight="normal" fill="#111" textLength="34.60" lengthAdjust="spacingAndGlyphs" >20:00</text>
<text x="675.10" y="536.50" font-size="12.4" text-anchor="start" font-weight="normal" fill="#111" textLength="34.60" lengthAdjust="spacingAndGlyphs" >00:00</text>
<text x="366.60" y="551.00" font-size="11.6" text-anchor="start" font-weight="normal" fill="#111" textLength="49.20" lengthAdjust="spacingAndGlyphs" >Time UT</text>
<rect x="722.2" y="123.50" width="13.2" height="22.16" fill="#ff0000"/>
<rect x="722.2" y="145.36" width="13.2" height="22.16" fill="#ff3c00"/>
<rect x="722.2" y="167.22" width="13.2" height="22.16" fill="#ff7800"/>
<rect x="722.2" y="189.09" width="13.2" height="22.16" fill="#ffb400"/>
<rect x="722.2" y="210.95" width="13.2" height="22.16" fill="#78d228"/>
<rect x="722.2" y="232.81" width="13.2" height="22.16" fill="#468c6e"/>
<rect x="722.2" y="254.67" width="13.2" height="22.16" fill="#2846b4"/>
<rect x="722.2" y="276.54" width="13.2" height="22.16" fill="#0000ff"/>
<line x1="722.20" y1="145.36" x2="735.40" y2="145.36" stroke="rgba(0,0,0,0.45)" stroke-width="0.8" />
<line x1="722.20" y1="167.22" x2="735.40" y2="167.22" stroke="rgba(0,0,0,0.45)" stroke-width="0.8" />
<line x1="722.20" y1="189.09" x2="735.40" y2="189.09" stroke="rgba(0,0,0,0.45)" stroke-width="0.8" />
<line x1="722.20" y1="210.95" x2="735.40" y2="210.95" stroke="rgba(0,0,0,0.45)" stroke-width="0.8" />
<line x1="722.20" y1="232.81" x2="735.40" y2="232.81" stroke="rgba(0,0,0,0.45)" stroke-width="0.8" />
<line x1="722.20" y1="254.67" x2="735.40" y2="254.67" stroke="rgba(0,0,0,0.45)" stroke-width="0.8" />
<line x1="722.20" y1="276.54" x2="735.40" y2="276.54" stroke="rgba(0,0,0,0.45)" stroke-width="0.8" />
<rect x="722.2" y="123.50" width="13.2" height="174.90" fill="none" stroke="rgba(0,0,0,0.35)" stroke-width="0.7"/>
<text x="739.60" y="150.96" font-size="12.4" text-anchor="start" font-weight="normal" fill="#111" textLength="14.60" lengthAdjust="spacingAndGlyphs" >28</text>
<text x="739.60" y="172.82" font-size="12.4" text-anchor="start" font-weight="normal" fill="#111" textLength="14.60" lengthAdjust="spacingAndGlyphs" >24</text>
<text x="739.60" y="194.69" font-size="12.4" text-anchor="start" font-weight="normal" fill="#111" textLength="14.60" lengthAdjust="spacingAndGlyphs" >20</text>
<text x="739.60" y="216.55" font-size="12.4" text-anchor="start" font-weight="normal" fill="#111" textLength="14.60" lengthAdjust="spacingAndGlyphs" >16</text>
<text x="739.60" y="238.41" font-size="12.4" text-anchor="start" font-weight="normal" fill="#111" textLength="14.60" lengthAdjust="spacingAndGlyphs" >12</text>
<text x="739.60" y="260.27" font-size="12.4" text-anchor="start" font-weight="normal" fill="#111" textLength="7.30" lengthAdjust="spacingAndGlyphs" >8</text>
<text x="739.60" y="282.14" font-size="12.4" text-anchor="start" font-weight="normal" fill="#111" textLength="7.30" lengthAdjust="spacingAndGlyphs" >4</text>
<g transform="translate(768.6 211.8) rotate(-90)"><text x="0" y="0" font-size="12.8" text-anchor="middle" fill="#111" textLength="68.5" lengthAdjust="spacingAndGlyphs">Power [dB]</text></g>
<rect x="722.2" y="330.20" width="13.2" height="19.72" fill="#0000ff"/>
<rect x="722.2" y="349.62" width="13.2" height="19.72" fill="#2846b4"/>
<rect x="722.2" y="369.04" width="13.2" height="19.72" fill="#468c6e"/>
<rect x="722.2" y="388.47" width="13.2" height="19.72" fill="#78d228"/>
<rect x="722.2" y="407.89" width="13.2" height="19.72" fill="#c8c8be"/>
<rect x="722.2" y="427.31" width="13.2" height="19.72" fill="#ffb400"/>
<rect x="722.2" y="446.73" width="13.2" height="19.72" fill="#ff7800"/>
<rect x="722.2" y="466.16" width="13.2" height="19.72" fill="#ff3c00"/>
<rect x="722.2" y="485.58" width="13.2" height="19.72" fill="#ff0000"/>
<line x1="722.20" y1="349.62" x2="735.40" y2="349.62" stroke="rgba(0,0,0,0.45)" stroke-width="0.8" />
<line x1="722.20" y1="369.04" x2="735.40" y2="369.04" stroke="rgba(0,0,0,0.45)" stroke-width="0.8" />
<line x1="722.20" y1="388.47" x2="735.40" y2="388.47" stroke="rgba(0,0,0,0.45)" stroke-width="0.8" />
<line x1="722.20" y1="407.89" x2="735.40" y2="407.89" stroke="rgba(0,0,0,0.45)" stroke-width="0.8" />
<line x1="722.20" y1="427.31" x2="735.40" y2="427.31" stroke="rgba(0,0,0,0.45)" stroke-width="0.8" />
<line x1="722.20" y1="446.73" x2="735.40" y2="446.73" stroke="rgba(0,0,0,0.45)" stroke-width="0.8" />
<line x1="722.20" y1="466.16" x2="735.40" y2="466.16" stroke="rgba(0,0,0,0.45)" stroke-width="0.8" />
<line x1="722.20" y1="485.58" x2="735.40" y2="485.58" stroke="rgba(0,0,0,0.45)" stroke-width="0.8" />
<rect x="722.2" y="330.20" width="13.2" height="174.80" fill="none" stroke="rgba(0,0,0,0.35)" stroke-width="0.7"/>
<text x="739.60" y="355.22" font-size="12.4" text-anchor="start" font-weight="normal" fill="#111" textLength="29.20" lengthAdjust="spacingAndGlyphs" >1000</text>
<text x="739.60" y="374.64" font-size="12.4" text-anchor="start" font-weight="normal" fill="#111" textLength="21.90" lengthAdjust="spacingAndGlyphs" >500</text>
<text x="739.60" y="394.07" font-size="12.4" text-anchor="start" font-weight="normal" fill="#111" textLength="21.90" lengthAdjust="spacingAndGlyphs" >100</text>
<text x="739.60" y="413.49" font-size="12.4" text-anchor="start" font-weight="normal" fill="#111" textLength="14.60" lengthAdjust="spacingAndGlyphs" >25</text>
<text x="739.60" y="432.91" font-size="12.4" text-anchor="start" font-weight="normal" fill="#111" textLength="24.80" lengthAdjust="spacingAndGlyphs" >−25</text>
<text x="739.60" y="452.33" font-size="12.4" text-anchor="start" font-weight="normal" fill="#111" textLength="32.10" lengthAdjust="spacingAndGlyphs" >−100</text>
<text x="739.60" y="471.76" font-size="12.4" text-anchor="start" font-weight="normal" fill="#111" textLength="32.10" lengthAdjust="spacingAndGlyphs" >−500</text>
<text x="739.60" y="491.18" font-size="12.4" text-anchor="start" font-weight="normal" fill="#111" textLength="39.40" lengthAdjust="spacingAndGlyphs" >−1000</text>
<g transform="translate(795.0 418.0) rotate(-90)"><text x="0" y="0" font-size="12.8" text-anchor="middle" fill="#111" textLength="98.5" lengthAdjust="spacingAndGlyphs">Velocity [m s<tspan dy="-4" font-size="8.5">-1</tspan><tspan dy="4">]</tspan></text></g>
<path d="M91.4 48.40 L91.4 30.35 L92.0 30.29 L93.3 30.22 L94.6 30.40 L95.9 30.20 L97.2 30.36 L98.5 30.30 L99.8 30.19 L101.1 30.35 L102.4 30.18 L103.7 30.33 L105.0 30.20 L106.3 30.20 L107.6 30.32 L108.9 30.47 L110.2 30.21 L111.5 30.25 L112.8 30.40 L114.1 30.51 L115.4 30.38 L116.7 30.31 L118.0 30.52 L119.3 30.19 L120.6 30.48 L121.9 30.27 L123.2 30.22 L124.5 30.21 L125.8 30.28 L127.1 30.46 L128.4 30.24 L129.7 30.38 L131.0 30.40 L132.3 30.30 L133.6 30.37 L134.9 30.19 L136.2 30.19 L137.5 30.24 L138.8 30.41 L140.1 30.32 L141.4 30.28 L142.7 30.38 L144.0 30.33 L145.3 30.28 L146.6 30.46 L147.9 30.42 L149.2 30.26 L150.5 30.38 L151.8 30.36 L153.1 30.49 L154.4 30.43 L155.7 30.27 L157.0 30.52 L158.3 30.21 L159.6 30.32 L160.9 30.44 L162.2 30.22 L163.5 30.35 L164.8 30.18 L166.1 30.41 L167.4 30.45 L168.7 30.38 L170.0 30.49 L171.3 30.28 L172.6 30.42 L173.9 30.38 L175.2 30.38 L176.5 30.33 L177.8 30.47 L179.1 30.51 L180.4 30.34 L181.7 30.41 L183.0 30.19 L184.3 30.42 L185.6 30.40 L186.9 30.53 L188.2 30.47 L189.5 30.27 L190.8 30.31 L192.1 30.41 L193.4 30.18 L194.7 30.34 L196.0 30.23 L197.3 30.21 L198.6 30.19 L199.9 30.45 L201.2 30.22 L202.5 30.26 L203.8 30.31 L205.1 30.48 L206.4 30.20 L207.7 30.33 L209.0 30.37 L210.3 30.49 L211.6 30.46 L212.9 30.48 L214.2 30.27 L215.5 30.32 L216.8 30.30 L218.1 30.49 L219.4 30.51 L220.7 30.22 L222.0 30.23 L223.3 30.25 L224.6 30.25 L225.9 30.34 L227.2 30.38 L228.5 30.26 L229.8 30.17 L231.1 30.32 L232.4 30.30 L233.7 30.37 L235.0 30.51 L236.3 30.42 L237.6 30.36 L238.9 30.39 L240.2 30.41 L241.5 30.19 L242.8 30.49 L244.1 30.45 L245.4 30.48 L246.7 30.46 L248.0 30.31 L249.3 30.31 L250.6 30.21 L251.9 30.40 L253.2 30.19 L254.5 30.19 L255.8 30.25 L257.1 30.23 L258.4 30.29 L259.7 30.19 L261.0 30.17 L262.3 30.22 L263.6 30.21 L264.9 30.30 L266.2 30.18 L267.5 30.48 L268.8 30.39 L270.1 30.22 L271.4 30.26 L272.7 30.30 L274.0 30.30 L275.3 30.21 L276.6 30.48 L277.9 30.53 L279.2 30.34 L280.5 30.34 L281.8 30.20 L283.1 30.21 L284.4 30.29 L285.7 30.27 L287.0 30.47 L288.3 30.23 L289.6 30.18 L290.9 30.51 L292.2 30.36 L293.5 30.22 L294.8 30.37 L296.1 30.18 L297.4 30.36 L298.7 30.52 L300.0 30.48 L301.3 30.42 L302.6 30.26 L303.9 30.30 L305.2 30.23 L306.5 30.45 L307.8 30.36 L309.1 30.45 L310.4 30.29 L311.7 30.25 L313.0 30.46 L314.3 30.52 L315.6 30.48 L316.9 30.46 L318.2 30.46 L319.5 30.44 L320.8 30.25 L322.1 30.36 L323.4 30.30 L324.7 30.18 L326.0 30.18 L327.3 30.27 L328.6 30.26 L329.9 30.42 L331.2 30.51 L332.5 30.33 L333.8 30.51 L335.1 30.53 L336.4 30.51 L337.7 30.30 L339.0 30.25 L340.3 30.25 L341.6 30.24 L342.9 30.24 L344.2 30.39 L345.5 30.49 L346.8 30.47 L348.1 30.34 L349.4 30.41 L350.7 30.46 L352.0 30.20 L353.3 30.41 L354.6 30.50 L355.9 30.45 L357.2 30.44 L358.5 30.34 L359.8 30.23 L361.1 30.45 L362.4 30.29 L363.7 30.46 L365.0 30.52 L366.3 30.31 L367.6 30.31 L368.9 30.51 L370.2 30.43 L371.5 30.23 L372.8 30.00 L374.1 29.65 L375.4 29.56 L376.7 29.25 L378.0 28.80 L379.3 28.84 L380.6 28.69 L381.9 28.36 L383.2 28.03 L384.5 28.07 L385.8 28.18 L387.1 28.31 L388.4 28.81 L389.7 28.85 L391.0 28.96 L392.3 29.14 L393.6 28.99 L394.9 29.18 L396.2 29.58 L397.5 29.80 L398.8 30.16 L400.1 30.19 L401.4 30.18 L402.7 30.31 L404.0 30.20 L405.3 30.27 L406.6 30.18 L407.9 30.47 L409.2 30.28 L410.5 30.32 L411.8 30.38 L413.1 30.20 L414.4 29.68 L415.7 29.33 L417.0 28.48 L418.3 27.86 L419.6 27.43 L420.9 26.81 L422.2 26.33 L423.5 26.04 L424.8 26.49 L426.1 27.00 L427.4 26.95 L428.7 27.28 L430.0 27.63 L431.3 28.05 L432.6 29.15 L433.9 29.96 L435.2 29.97 L436.5 30.05 L437.8 29.81 L439.1 29.97 L440.4 29.86 L441.7 29.87 L443.0 30.05 L444.3 29.95 L445.6 29.97 L446.9 30.05 L448.2 30.10 L449.5 29.93 L450.8 29.99 L452.1 29.96 L453.4 29.96 L454.7 30.02 L456.0 29.94 L457.3 29.97 L458.6 29.95 L459.9 30.11 L461.2 30.03 L462.5 30.09 L463.8 30.11 L465.1 29.87 L466.4 29.98 L467.7 30.12 L469.0 30.08 L470.3 29.83 L471.6 29.82 L472.9 29.94 L474.2 29.80 L475.5 29.86 L476.8 29.80 L478.1 30.02 L479.4 30.06 L480.7 30.10 L482.0 29.83 L483.3 30.04 L484.6 30.02 L485.9 29.83 L487.2 30.10 L488.5 30.13 L489.8 29.86 L491.1 30.12 L492.4 29.92 L493.7 29.96 L495.0 30.14 L496.3 30.08 L497.6 29.84 L498.9 29.94 L500.2 29.97 L501.5 29.90 L502.8 29.85 L504.1 29.90 L505.4 30.04 L506.7 29.79 L508.0 29.98 L509.3 29.94 L510.6 29.79 L511.9 29.90 L513.2 30.01 L514.5 29.97 L515.8 29.81 L517.1 30.14 L518.4 30.07 L519.7 30.14 L521.0 29.82 L522.3 29.88 L523.6 29.80 L524.9 30.07 L526.2 29.88 L527.5 29.83 L528.8 29.94 L530.1 30.12 L531.4 30.08 L532.7 29.88 L534.0 29.84 L535.3 30.12 L536.6 29.99 L537.9 30.04 L539.2 29.82 L540.5 29.81 L541.8 30.04 L543.1 29.94 L544.4 29.82 L545.7 30.13 L547.0 30.02 L548.3 30.08 L549.6 29.82 L550.9 30.10 L552.2 29.82 L553.5 30.10 L554.8 29.96 L556.1 29.92 L557.4 29.99 L558.7 30.13 L560.0 29.89 L561.3 29.84 L562.6 29.98 L563.9 29.88 L565.2 29.83 L566.5 29.85 L567.8 29.81 L569.1 29.87 L570.4 29.91 L571.7 29.91 L573.0 30.07 L574.3 29.90 L575.6 29.98 L576.9 29.86 L578.2 29.92 L579.5 29.80 L580.8 29.89 L582.1 29.80 L583.4 30.06 L584.7 30.00 L586.0 29.87 L587.3 29.97 L588.6 30.14 L589.9 29.84 L591.2 30.09 L592.5 29.96 L593.8 29.98 L595.1 30.10 L596.4 29.94 L597.7 29.98 L599.0 30.05 L600.3 30.15 L601.6 29.92 L602.9 30.10 L604.2 30.06 L605.5 30.03 L606.8 29.95 L608.1 29.93 L609.4 29.82 L610.7 29.85 L612.0 29.83 L613.3 30.07 L614.6 29.90 L615.9 29.86 L617.2 29.83 L618.5 30.11 L619.8 30.12 L621.1 30.05 L622.4 29.91 L623.7 29.89 L625.0 29.91 L626.3 29.97 L627.6 29.86 L628.9 29.97 L630.2 29.90 L631.5 30.15 L632.8 30.16 L634.1 30.00 L635.4 29.90 L636.7 30.16 L638.0 29.92 L639.3 29.94 L640.6 29.81 L641.9 29.95 L643.2 29.98 L644.5 29.99 L645.8 29.88 L647.1 29.99 L648.4 29.81 L649.7 29.91 L651.0 29.84 L652.3 29.95 L653.6 29.83 L654.9 29.82 L656.2 29.92 L657.5 29.90 L658.8 30.02 L660.1 30.00 L661.4 30.08 L662.7 30.05 L664.0 30.07 L665.3 30.13 L666.6 29.95 L667.9 29.93 L669.2 30.17 L670.5 29.87 L671.8 30.08 L673.1 30.05 L674.4 29.83 L675.7 30.12 L677.0 30.14 L678.3 30.04 L679.6 30.08 L680.9 30.11 L682.2 29.87 L683.5 30.01 L684.8 30.00 L686.1 30.12 L687.4 30.11 L688.7 30.12 L690.0 30.03 L691.3 30.14" fill="none" stroke="#0a0a0a" stroke-width="1.9" stroke-linejoin="round" />
<path d="M91.4 29.40 L92.0 29.34 L93.3 29.27 L94.6 29.45 L95.9 29.25 L97.2 29.41 L98.5 29.35 L99.8 29.24 L101.1 29.40 L102.4 29.23 L103.7 29.38 L105.0 29.25 L106.3 29.25 L107.6 29.37 L108.9 29.52 L110.2 29.26 L111.5 29.30 L112.8 29.45 L114.1 29.56 L115.4 29.43 L116.7 29.36 L118.0 29.57 L119.3 29.24 L120.6 29.53 L121.9 29.32 L123.2 29.27 L124.5 29.26 L125.8 29.33 L127.1 29.51 L128.4 29.29 L129.7 29.43 L131.0 29.45 L132.3 29.35 L133.6 29.42 L134.9 29.24 L136.2 29.24 L137.5 29.29 L138.8 29.46 L140.1 29.37 L141.4 29.33 L142.7 29.43 L144.0 29.38 L145.3 29.33 L146.6 29.51 L147.9 29.47 L149.2 29.31 L150.5 29.43 L151.8 29.41 L153.1 29.54 L154.4 29.48 L155.7 29.32 L157.0 29.57 L158.3 29.26 L159.6 29.37 L160.9 29.49 L162.2 29.27 L163.5 29.40 L164.8 29.23 L166.1 29.46 L167.4 29.50 L168.7 29.43 L170.0 29.54 L171.3 29.33 L172.6 29.47 L173.9 29.43 L175.2 29.43 L176.5 29.38 L177.8 29.52 L179.1 29.56 L180.4 29.39 L181.7 29.46 L183.0 29.24 L184.3 29.47 L185.6 29.45 L186.9 29.58 L188.2 29.52 L189.5 29.32 L190.8 29.36 L192.1 29.46 L193.4 29.23 L194.7 29.39 L196.0 29.28 L197.3 29.26 L198.6 29.24 L199.9 29.50 L201.2 29.27 L202.5 29.31 L203.8 29.36 L205.1 29.53 L206.4 29.25 L207.7 29.38 L209.0 29.42 L210.3 29.54 L211.6 29.51 L212.9 29.53 L214.2 29.32 L215.5 29.37 L216.8 29.35 L218.1 29.54 L219.4 29.56 L220.7 29.27 L222.0 29.28 L223.3 29.30 L224.6 29.30 L225.9 29.39 L227.2 29.43 L228.5 29.31 L229.8 29.22 L231.1 29.37 L232.4 29.35 L233.7 29.42 L235.0 29.56 L236.3 29.47 L237.6 29.41 L238.9 29.44 L240.2 29.46 L241.5 29.24 L242.8 29.54 L244.1 29.50 L245.4 29.53 L246.7 29.51 L248.0 29.36 L249.3 29.36 L250.6 29.26 L251.9 29.45 L253.2 29.24 L254.5 29.24 L255.8 29.30 L257.1 29.28 L258.4 29.34 L259.7 29.24 L261.0 29.22 L262.3 29.27 L263.6 29.26 L264.9 29.35 L266.2 29.23 L267.5 29.53 L268.8 29.44 L270.1 29.27 L271.4 29.31 L272.7 29.35 L274.0 29.35 L275.3 29.26 L276.6 29.53 L277.9 29.58 L279.2 29.39 L280.5 29.39 L281.8 29.25 L283.1 29.26 L284.4 29.34 L285.7 29.32 L287.0 29.52 L288.3 29.28 L289.6 29.23 L290.9 29.56 L292.2 29.41 L293.5 29.27 L294.8 29.42 L296.1 29.23 L297.4 29.41 L298.7 29.57 L300.0 29.53 L301.3 29.47 L302.6 29.31 L303.9 29.35 L305.2 29.28 L306.5 29.50 L307.8 29.41 L309.1 29.50 L310.4 29.34 L311.7 29.30 L313.0 29.51 L314.3 29.57 L315.6 29.53 L316.9 29.51 L318.2 29.51 L319.5 29.49 L320.8 29.30 L322.1 29.41 L323.4 29.35 L324.7 29.23 L326.0 29.23 L327.3 29.32 L328.6 29.31 L329.9 29.47 L331.2 29.56 L332.5 29.38 L333.8 29.56 L335.1 29.58 L336.4 29.56 L337.7 29.35 L339.0 29.30 L340.3 29.30 L341.6 29.29 L342.9 29.29 L344.2 29.44 L345.5 29.54 L346.8 29.52 L348.1 29.39 L349.4 29.46 L350.7 29.51 L352.0 29.25 L353.3 29.46 L354.6 29.55 L355.9 29.50 L357.2 29.49 L358.5 29.39 L359.8 29.28 L361.1 29.50 L362.4 29.34 L363.7 29.51 L365.0 29.57 L366.3 29.36 L367.6 29.36 L368.9 29.56 L370.2 29.48 L371.5 29.28 L372.8 29.05 L374.1 28.70 L375.4 28.61 L376.7 28.30 L378.0 27.85 L379.3 27.89 L380.6 27.74 L381.9 27.41 L383.2 27.08 L384.5 27.12 L385.8 27.23 L387.1 27.36 L388.4 27.86 L389.7 27.90 L391.0 28.01 L392.3 28.19 L393.6 28.04 L394.9 28.23 L396.2 28.63 L397.5 28.85 L398.8 29.21 L400.1 29.24 L401.4 29.23 L402.7 29.36 L404.0 29.25 L405.3 29.32 L406.6 29.23 L407.9 29.52 L409.2 29.33 L410.5 29.37 L411.8 29.43 L413.1 29.25 L414.4 28.73 L415.7 28.38 L417.0 27.53 L418.3 26.91 L419.6 26.48 L420.9 25.86 L422.2 25.38 L423.5 25.09 L424.8 25.54 L426.1 26.05 L427.4 26.00 L428.7 26.33 L430.0 26.68 L431.3 27.10 L432.6 28.20 L433.9 29.01 L435.2 29.02 L436.5 29.10 L437.8 28.86 L439.1 29.02 L440.4 28.91 L441.7 28.92 L443.0 29.10 L444.3 29.00 L445.6 29.02 L446.9 29.10 L448.2 29.15 L449.5 28.98 L450.8 29.04 L452.1 29.01 L453.4 29.01 L454.7 29.07 L456.0 28.99 L457.3 29.02 L458.6 29.00 L459.9 29.16 L461.2 29.08 L462.5 29.14 L463.8 29.16 L465.1 28.92 L466.4 29.03 L467.7 29.17 L469.0 29.13 L470.3 28.88 L471.6 28.87 L472.9 28.99 L474.2 28.85 L475.5 28.91 L476.8 28.85 L478.1 29.07 L479.4 29.11 L480.7 29.15 L482.0 28.88 L483.3 29.09 L484.6 29.07 L485.9 28.88 L487.2 29.15 L488.5 29.18 L489.8 28.91 L491.1 29.17 L492.4 28.97 L493.7 29.01 L495.0 29.19 L496.3 29.13 L497.6 28.89 L498.9 28.99 L500.2 29.02 L501.5 28.95 L502.8 28.90 L504.1 28.95 L505.4 29.09 L506.7 28.84 L508.0 29.03 L509.3 28.99 L510.6 28.84 L511.9 28.95 L513.2 29.06 L514.5 29.02 L515.8 28.86 L517.1 29.19 L518.4 29.12 L519.7 29.19 L521.0 28.87 L522.3 28.93 L523.6 28.85 L524.9 29.12 L526.2 28.93 L527.5 28.88 L528.8 28.99 L530.1 29.17 L531.4 29.13 L532.7 28.93 L534.0 28.89 L535.3 29.17 L536.6 29.04 L537.9 29.09 L539.2 28.87 L540.5 28.86 L541.8 29.09 L543.1 28.99 L544.4 28.87 L545.7 29.18 L547.0 29.07 L548.3 29.13 L549.6 28.87 L550.9 29.15 L552.2 28.87 L553.5 29.15 L554.8 29.01 L556.1 28.97 L557.4 29.04 L558.7 29.18 L560.0 28.94 L561.3 28.89 L562.6 29.03 L563.9 28.93 L565.2 28.88 L566.5 28.90 L567.8 28.86 L569.1 28.92 L570.4 28.96 L571.7 28.96 L573.0 29.12 L574.3 28.95 L575.6 29.03 L576.9 28.91 L578.2 28.97 L579.5 28.85 L580.8 28.94 L582.1 28.85 L583.4 29.11 L584.7 29.05 L586.0 28.92 L587.3 29.02 L588.6 29.19 L589.9 28.89 L591.2 29.14 L592.5 29.01 L593.8 29.03 L595.1 29.15 L596.4 28.99 L597.7 29.03 L599.0 29.10 L600.3 29.20 L601.6 28.97 L602.9 29.15 L604.2 29.11 L605.5 29.08 L606.8 29.00 L608.1 28.98 L609.4 28.87 L610.7 28.90 L612.0 28.88 L613.3 29.12 L614.6 28.95 L615.9 28.91 L617.2 28.88 L618.5 29.16 L619.8 29.17 L621.1 29.10 L622.4 28.96 L623.7 28.94 L625.0 28.96 L626.3 29.02 L627.6 28.91 L628.9 29.02 L630.2 28.95 L631.5 29.20 L632.8 29.21 L634.1 29.05 L635.4 28.95 L636.7 29.21 L638.0 28.97 L639.3 28.99 L640.6 28.86 L641.9 29.00 L643.2 29.03 L644.5 29.04 L645.8 28.93 L647.1 29.04 L648.4 28.86 L649.7 28.96 L651.0 28.89 L652.3 29.00 L653.6 28.88 L654.9 28.87 L656.2 28.97 L657.5 28.95 L658.8 29.07 L660.1 29.05 L661.4 29.13 L662.7 29.10 L664.0 29.12 L665.3 29.18 L666.6 29.00 L667.9 28.98 L669.2 29.22 L670.5 28.92 L671.8 29.13 L673.1 29.10 L674.4 28.88 L675.7 29.17 L677.0 29.19 L678.3 29.09 L679.6 29.13 L680.9 29.16 L682.2 28.92 L683.5 29.06 L684.8 29.05 L686.1 29.17 L687.4 29.16 L688.7 29.17 L690.0 29.08 L691.3 29.19" fill="none" stroke="#0a0a0a" stroke-width="1.1" stroke-linejoin="round" stroke-dasharray="1.5 1.3"/>
<path d="M384.6 27.60 L384.9 24.40 L385.3 27.60" fill="none" stroke="#0a0a0a" stroke-width="0.9" stroke-linejoin="round" />
<path d="M421.0 26.00 L423.0 23.30 L424.4 25.20 L427.0 25.60 L429.0 25.40 L431.4 26.60" fill="none" stroke="#0a0a0a" stroke-width="0.9" stroke-linejoin="round" />
<path d="M91.4 80.80 L91.4 69.75 L92.0 69.79 L94.0 69.80 L96.0 69.69 L98.0 69.64 L100.0 69.66 L102.0 69.72 L104.0 69.66 L106.0 69.83 L108.0 69.76 L110.0 69.78 L112.0 69.78 L114.0 69.79 L116.0 69.75 L118.0 69.63 L120.0 69.82 L122.0 69.81 L124.0 69.75 L126.0 69.76 L128.0 69.79 L130.0 69.65 L132.0 69.81 L134.0 69.69 L136.0 69.65 L138.0 69.69 L140.0 69.81 L142.0 69.68 L144.0 69.81 L146.0 69.86 L148.0 69.75 L150.0 69.72 L152.0 69.74 L154.0 69.79 L156.0 69.81 L158.0 69.78 L160.0 69.78 L162.0 69.65 L164.0 69.67 L166.0 69.69 L168.0 69.81 L170.0 69.70 L172.0 69.77 L174.0 69.63 L176.0 69.64 L178.0 69.69 L180.0 69.79 L182.0 69.80 L184.0 69.79 L186.0 69.70 L188.0 69.75 L190.0 69.74 L192.0 69.74 L194.0 69.66 L196.0 69.84 L198.0 69.68 L200.0 69.86 L202.0 69.85 L204.0 69.63 L206.0 69.74 L208.0 69.83 L210.0 69.86 L212.0 69.74 L214.0 69.69 L216.0 69.68 L218.0 69.86 L220.0 69.68 L222.0 69.77 L224.0 69.66 L226.0 69.76 L228.0 69.86 L230.0 69.66 L232.0 69.83 L234.0 69.75 L236.0 69.84 L238.0 69.80 L240.0 69.69 L242.0 69.85 L244.0 69.75 L246.0 69.64 L248.0 69.63 L250.0 69.75 L252.0 69.74 L254.0 69.70 L256.0 69.66 L258.0 69.71 L260.0 69.71 L262.0 69.83 L264.0 69.63 L266.0 69.81 L268.0 69.83 L270.0 69.66 L272.0 69.85 L274.0 69.80 L276.0 69.85 L278.0 69.70 L280.0 69.72 L282.0 69.72 L284.0 69.87 L286.0 69.77 L288.0 69.72 L290.0 69.73 L292.0 69.70 L294.0 69.64 L296.0 69.65 L298.0 69.83 L300.0 69.70 L302.0 69.85 L304.0 69.69 L306.0 69.69 L308.0 69.75 L310.0 69.68 L312.0 69.72 L314.0 69.86 L316.0 69.84 L318.0 69.82 L320.0 69.78 L322.0 69.85 L324.0 69.86 L326.0 69.76 L328.0 69.80 L330.0 69.64 L332.0 69.81 L334.0 69.74 L336.0 69.81 L338.0 69.78 L340.0 69.70 L342.0 69.64 L344.0 69.85 L346.0 69.66 L348.0 69.74 L350.0 69.71 L352.0 69.70 L354.0 69.81 L356.0 69.86 L358.0 69.69 L360.0 69.79 L362.0 69.70 L364.0 69.76 L366.0 69.72 L368.0 69.67 L370.0 69.67 L372.0 69.68 L374.0 69.85 L376.0 69.75 L378.0 69.68 L380.0 69.85 L382.0 69.87 L384.0 69.74 L386.0 69.66 L388.0 69.68 L390.0 69.65 L392.0 69.71 L394.0 69.65 L396.0 69.69 L398.0 69.69 L400.0 69.77 L402.0 69.84 L404.0 69.81 L406.0 69.73 L408.0 69.73 L410.0 69.76 L412.0 69.72 L414.0 69.71 L416.0 69.64 L418.0 69.70 L420.0 69.86 L422.0 69.66 L424.0 69.75 L426.0 69.78 L428.0 69.84 L430.0 69.68 L432.0 69.70 L434.0 69.69 L436.0 69.73 L438.0 69.74 L440.0 69.86 L442.0 69.83 L444.0 69.84 L446.0 69.64 L448.0 69.64 L450.0 69.80 L452.0 69.84 L454.0 69.74 L456.0 69.77 L458.0 69.63 L460.0 69.72 L462.0 69.85 L464.0 69.83 L466.0 69.84 L468.0 69.86 L470.0 69.69 L472.0 69.66 L474.0 69.67 L476.0 69.76 L478.0 69.79 L480.0 69.86 L482.0 69.80 L484.0 69.79 L486.0 69.81 L488.0 69.74 L490.0 69.76 L492.0 69.64 L494.0 69.82 L496.0 69.69 L498.0 69.85 L500.0 69.78 L502.0 69.70 L504.0 69.66 L506.0 69.69 L508.0 69.78 L510.0 69.80 L512.0 69.66 L514.0 69.65 L516.0 69.76 L518.0 69.77 L520.0 69.72 L522.0 69.68 L524.0 69.77 L526.0 69.63 L528.0 69.70 L530.0 69.74 L532.0 69.86 L534.0 69.78 L536.0 69.84 L538.0 69.74 L540.0 69.69 L542.0 69.69 L544.0 69.86 L546.0 69.80 L548.0 69.70 L550.0 69.64 L552.0 69.75 L554.0 69.79 L556.0 69.73 L558.0 69.69 L560.0 69.79 L562.0 69.85 L564.0 69.68 L566.0 69.64 L568.0 69.71 L570.0 69.73 L572.0 69.79 L574.0 69.68 L576.0 69.82 L578.0 69.81 L580.0 69.75 L582.0 69.68 L584.0 69.86 L586.0 69.70 L588.0 69.83 L590.0 69.69 L592.0 69.68 L594.0 69.81 L596.0 69.70 L598.0 69.86 L600.0 69.75 L602.0 69.67 L604.0 69.68 L606.0 69.73 L608.0 69.79 L610.0 69.86 L612.0 69.67 L614.0 69.72 L616.0 69.68 L618.0 69.86 L620.0 69.66 L622.0 69.64 L624.0 69.64 L626.0 69.72 L628.0 69.85 L630.0 69.84 L632.0 69.81 L634.0 69.87 L636.0 69.85 L638.0 69.71 L640.0 69.67 L642.0 69.85 L644.0 69.81 L646.0 69.64 L648.0 69.79 L650.0 69.72 L652.0 69.72 L654.0 69.71 L656.0 69.67 L658.0 69.63 L660.0 69.70 L662.0 69.71 L664.0 69.86 L666.0 69.66 L668.0 69.86 L670.0 69.68 L672.0 69.72 L674.0 69.83 L676.0 69.83 L678.0 69.73 L680.0 69.64 L682.0 69.74 L684.0 69.72 L686.0 69.85 L688.0 69.68 L690.0 69.72 L692.0 69.85" fill="none" stroke="#0a0a0a" stroke-width="1.9" stroke-linejoin="round" />
<path d="M91.4 68.80 L92.0 68.84 L94.0 68.85 L96.0 68.74 L98.0 68.69 L100.0 68.71 L102.0 68.77 L104.0 68.71 L106.0 68.88 L108.0 68.81 L110.0 68.83 L112.0 68.83 L114.0 68.84 L116.0 68.80 L118.0 68.68 L120.0 68.87 L122.0 68.86 L124.0 68.80 L126.0 68.81 L128.0 68.84 L130.0 68.70 L132.0 68.86 L134.0 68.74 L136.0 68.70 L138.0 68.74 L140.0 68.86 L142.0 68.73 L144.0 68.86 L146.0 68.91 L148.0 68.80 L150.0 68.77 L152.0 68.79 L154.0 68.84 L156.0 68.86 L158.0 68.83 L160.0 68.83 L162.0 68.70 L164.0 68.72 L166.0 68.74 L168.0 68.86 L170.0 68.75 L172.0 68.82 L174.0 68.68 L176.0 68.69 L178.0 68.74 L180.0 68.84 L182.0 68.85 L184.0 68.84 L186.0 68.75 L188.0 68.80 L190.0 68.79 L192.0 68.79 L194.0 68.71 L196.0 68.89 L198.0 68.73 L200.0 68.91 L202.0 68.90 L204.0 68.68 L206.0 68.79 L208.0 68.88 L210.0 68.91 L212.0 68.79 L214.0 68.74 L216.0 68.73 L218.0 68.91 L220.0 68.73 L222.0 68.82 L224.0 68.71 L226.0 68.81 L228.0 68.91 L230.0 68.71 L232.0 68.88 L234.0 68.80 L236.0 68.89 L238.0 68.85 L240.0 68.74 L242.0 68.90 L244.0 68.80 L246.0 68.69 L248.0 68.68 L250.0 68.80 L252.0 68.79 L254.0 68.75 L256.0 68.71 L258.0 68.76 L260.0 68.76 L262.0 68.88 L264.0 68.68 L266.0 68.86 L268.0 68.88 L270.0 68.71 L272.0 68.90 L274.0 68.85 L276.0 68.90 L278.0 68.75 L280.0 68.77 L282.0 68.77 L284.0 68.92 L286.0 68.82 L288.0 68.77 L290.0 68.78 L292.0 68.75 L294.0 68.69 L296.0 68.70 L298.0 68.88 L300.0 68.75 L302.0 68.90 L304.0 68.74 L306.0 68.74 L308.0 68.80 L310.0 68.73 L312.0 68.77 L314.0 68.91 L316.0 68.89 L318.0 68.87 L320.0 68.83 L322.0 68.90 L324.0 68.91 L326.0 68.81 L328.0 68.85 L330.0 68.69 L332.0 68.86 L334.0 68.79 L336.0 68.86 L338.0 68.83 L340.0 68.75 L342.0 68.69 L344.0 68.90 L346.0 68.71 L348.0 68.79 L350.0 68.76 L352.0 68.75 L354.0 68.86 L356.0 68.91 L358.0 68.74 L360.0 68.84 L362.0 68.75 L364.0 68.81 L366.0 68.77 L368.0 68.72 L370.0 68.72 L372.0 68.73 L374.0 68.90 L376.0 68.80 L378.0 68.73 L380.0 68.90 L382.0 68.92 L384.0 68.79 L386.0 68.71 L388.0 68.73 L390.0 68.70 L392.0 68.76 L394.0 68.70 L396.0 68.74 L398.0 68.74 L400.0 68.82 L402.0 68.89 L404.0 68.86 L406.0 68.78 L408.0 68.78 L410.0 68.81 L412.0 68.77 L414.0 68.76 L416.0 68.69 L418.0 68.75 L420.0 68.91 L422.0 68.71 L424.0 68.80 L426.0 68.83 L428.0 68.89 L430.0 68.73 L432.0 68.75 L434.0 68.74 L436.0 68.78 L438.0 68.79 L440.0 68.91 L442.0 68.88 L444.0 68.89 L446.0 68.69 L448.0 68.69 L450.0 68.85 L452.0 68.89 L454.0 68.79 L456.0 68.82 L458.0 68.68 L460.0 68.77 L462.0 68.90 L464.0 68.88 L466.0 68.89 L468.0 68.91 L470.0 68.74 L472.0 68.71 L474.0 68.72 L476.0 68.81 L478.0 68.84 L480.0 68.91 L482.0 68.85 L484.0 68.84 L486.0 68.86 L488.0 68.79 L490.0 68.81 L492.0 68.69 L494.0 68.87 L496.0 68.74 L498.0 68.90 L500.0 68.83 L502.0 68.75 L504.0 68.71 L506.0 68.74 L508.0 68.83 L510.0 68.85 L512.0 68.71 L514.0 68.70 L516.0 68.81 L518.0 68.82 L520.0 68.77 L522.0 68.73 L524.0 68.82 L526.0 68.68 L528.0 68.75 L530.0 68.79 L532.0 68.91 L534.0 68.83 L536.0 68.89 L538.0 68.79 L540.0 68.74 L542.0 68.74 L544.0 68.91 L546.0 68.85 L548.0 68.75 L550.0 68.69 L552.0 68.80 L554.0 68.84 L556.0 68.78 L558.0 68.74 L560.0 68.84 L562.0 68.90 L564.0 68.73 L566.0 68.69 L568.0 68.76 L570.0 68.78 L572.0 68.84 L574.0 68.73 L576.0 68.87 L578.0 68.86 L580.0 68.80 L582.0 68.73 L584.0 68.91 L586.0 68.75 L588.0 68.88 L590.0 68.74 L592.0 68.73 L594.0 68.86 L596.0 68.75 L598.0 68.91 L600.0 68.80 L602.0 68.72 L604.0 68.73 L606.0 68.78 L608.0 68.84 L610.0 68.91 L612.0 68.72 L614.0 68.77 L616.0 68.73 L618.0 68.91 L620.0 68.71 L622.0 68.69 L624.0 68.69 L626.0 68.77 L628.0 68.90 L630.0 68.89 L632.0 68.86 L634.0 68.92 L636.0 68.90 L638.0 68.76 L640.0 68.72 L642.0 68.90 L644.0 68.86 L646.0 68.69 L648.0 68.84 L650.0 68.77 L652.0 68.77 L654.0 68.76 L656.0 68.72 L658.0 68.68 L660.0 68.75 L662.0 68.76 L664.0 68.91 L666.0 68.71 L668.0 68.91 L670.0 68.73 L672.0 68.77 L674.0 68.88 L676.0 68.88 L678.0 68.78 L680.0 68.69 L682.0 68.79 L684.0 68.77 L686.0 68.90 L688.0 68.73 L690.0 68.77 L692.0 68.90" fill="none" stroke="#0a0a0a" stroke-width="1.2" stroke-linejoin="round" stroke-dasharray="1.5 1.3"/>
<path d="M212.5 75.20 L216.0 75.20" fill="none" stroke="#0a0a0a" stroke-width="1.0" stroke-linejoin="round" />
<path d="M218.0 75.90 L224.0 75.40 L230.0 75.70 L238.0 75.50 L246.0 75.80 L248.6 75.20" fill="none" stroke="#0a0a0a" stroke-width="1.1" stroke-linejoin="round" stroke-dasharray="3.2 0.8"/>
<path d="M248.9 73.40 L248.9 74.60" fill="none" stroke="#0a0a0a" stroke-width="0.8" stroke-linejoin="round" />
<path d="M354.4 73.80 L356.0 74.80 L358.6 74.60" fill="none" stroke="#0a0a0a" stroke-width="1.2" stroke-linejoin="round" />
<path d="M370.2 74.60 L371.4 72.80" fill="none" stroke="#0a0a0a" stroke-width="1.0" stroke-linejoin="round" />
</g>
</svg>
</body></html>
